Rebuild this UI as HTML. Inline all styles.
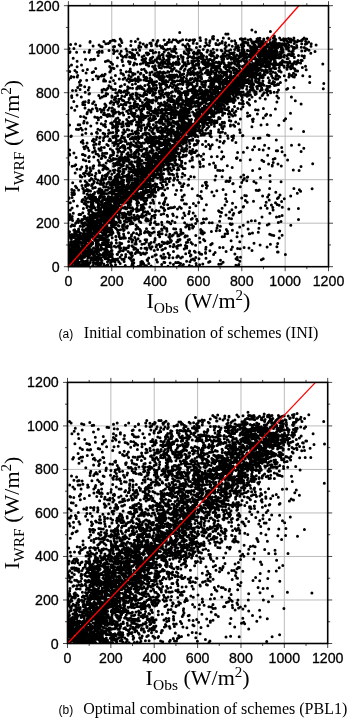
<!DOCTYPE html>
<html><head><meta charset="utf-8"><style>
html,body{margin:0;padding:0;background:#fff;}
body{width:350px;height:719px;overflow:hidden;}
svg{display:block;will-change:transform;}
.tl{font-family:"Liberation Sans",sans-serif;font-size:14.2px;fill:#000;stroke:#000;stroke-width:0.3px;}
.al{font-family:"Liberation Serif",serif;font-size:22px;fill:#000;}
.sub{font-size:15.5px;}
.sup{font-size:15px;}
.cl{font-family:"Liberation Sans",sans-serif;font-size:12px;fill:#000;}
.ct{font-family:"Liberation Serif",serif;font-size:16px;fill:#000;}
</style></head><body>
<svg width="350" height="719" viewBox="0 0 350 719">
<path d="M111.75 5.70V266.70M68.40 223.20H328.50M155.10 5.70V266.70M68.40 179.70H328.50M198.45 5.70V266.70M68.40 136.20H328.50M241.80 5.70V266.70M68.40 92.70H328.50M285.15 5.70V266.70M68.40 49.20H328.50" stroke="#b4b4b4" stroke-width="0.9" fill="none"/>
<clipPath id="cp0"><rect x="68.40" y="5.70" width="260.10" height="261.00"/></clipPath>
<path clip-path="url(#cp0)" d="M70.6 44.4h0M90.1 41.4h0M90.0 42.3h0M80.1 45.8h0M69.0 48.4h0M73.9 48.5h0M75.6 44.0h0M100.8 46.6h0M99.1 45.0h0M93.1 46.0h0M110.3 41.2h0M109.6 42.4h0M103.9 41.5h0M102.1 46.8h0M105.8 43.7h0M108.2 43.4h0M115.1 41.1h0M114.6 46.6h0M120.2 39.0h0M120.4 46.0h0M119.1 44.8h0M126.1 48.9h0M130.8 45.5h0M114.2 40.2h0M112.8 40.2h0M121.9 42.4h0M113.5 46.7h0M121.2 40.4h0M131.1 41.3h0M119.8 45.2h0M139.0 45.7h0M137.9 39.1h0M140.0 42.8h0M150.5 43.6h0M151.4 45.7h0M153.0 40.3h0M151.2 44.1h0M135.4 41.5h0M138.7 47.6h0M145.5 46.2h0M143.3 43.9h0M146.8 44.9h0M140.2 43.1h0M151.0 43.0h0M140.8 47.0h0M146.3 47.0h0M149.9 43.2h0M157.9 40.5h0M162.6 46.6h0M169.2 39.8h0M175.9 40.1h0M157.3 41.6h0M156.0 44.7h0M166.4 44.6h0M168.6 42.2h0M174.9 46.5h0M163.6 48.7h0M160.0 45.7h0M161.4 47.6h0M164.1 40.0h0M167.5 42.5h0M170.2 49.0h0M171.5 42.1h0M173.6 49.1h0M173.3 39.7h0M157.0 46.1h0M156.4 43.7h0M165.2 44.6h0M175.7 49.1h0M180.2 41.1h0M177.4 41.4h0M189.2 40.5h0M182.8 44.7h0M186.3 39.7h0M187.6 43.9h0M193.2 43.2h0M196.4 47.6h0M182.6 39.8h0M185.8 46.9h0M189.4 48.5h0M193.6 41.0h0M192.9 39.9h0M185.3 45.9h0M187.9 44.2h0M189.2 46.0h0M190.0 39.9h0M194.6 39.7h0M196.9 43.5h0M178.4 42.6h0M206.0 39.6h0M204.8 46.3h0M209.7 42.4h0M218.4 44.8h0M209.3 45.5h0M213.5 39.1h0M215.9 43.4h0M217.7 40.3h0M216.1 44.4h0M212.5 38.6h0M212.7 36.7h0M219.8 43.4h0M200.1 37.7h0M200.5 40.4h0M200.1 46.5h0M205.9 42.5h0M207.0 44.7h0M210.0 40.7h0M226.3 46.5h0M236.6 47.4h0M234.7 40.7h0M222.2 41.4h0M225.1 48.6h0M235.7 46.9h0M240.3 39.0h0M241.4 38.7h0M241.1 44.7h0M238.0 45.7h0M225.5 42.8h0M225.1 45.1h0M229.0 45.0h0M238.0 48.3h0M238.7 47.4h0M222.2 42.9h0M232.3 46.2h0M235.6 43.9h0M223.3 38.0h0M231.6 41.1h0M228.9 38.6h0M235.8 42.9h0M242.7 48.3h0M243.0 39.3h0M243.8 46.1h0M242.1 44.3h0M242.7 44.5h0M242.3 40.3h0M249.9 46.0h0M248.0 39.9h0M246.9 43.0h0M251.7 41.4h0M257.6 40.6h0M258.1 40.6h0M256.0 46.7h0M256.4 48.9h0M255.9 47.8h0M261.7 42.9h0M259.3 41.3h0M259.4 46.6h0M262.8 44.7h0M260.8 44.0h0M261.1 45.9h0M243.0 48.8h0M248.2 45.1h0M254.5 45.4h0M252.4 46.8h0M254.2 46.8h0M254.5 45.1h0M256.6 46.9h0M258.9 44.6h0M257.0 47.4h0M258.5 38.9h0M261.2 46.1h0M260.2 40.8h0M259.3 39.3h0M261.7 47.1h0M245.1 41.9h0M245.6 42.2h0M244.1 43.2h0M252.5 43.2h0M250.5 39.2h0M251.3 47.5h0M257.0 47.7h0M257.3 42.3h0M257.9 41.4h0M255.8 41.5h0M257.0 38.9h0M261.1 41.5h0M261.4 47.4h0M262.3 45.6h0M260.1 41.0h0M261.4 42.8h0M242.9 42.2h0M243.3 41.9h0M242.0 47.1h0M248.0 42.9h0M249.9 46.3h0M250.7 48.3h0M251.0 40.0h0M253.7 42.1h0M257.9 38.5h0M254.9 44.9h0M259.1 38.7h0M258.2 42.2h0M261.5 45.6h0M259.9 38.3h0M263.4 41.1h0M262.7 44.2h0M245.1 38.7h0M253.0 42.7h0M254.3 42.7h0M253.0 48.5h0M258.9 45.0h0M255.2 47.4h0M262.1 45.8h0M261.7 41.9h0M263.8 39.8h0M266.7 47.1h0M263.8 39.0h0M264.4 47.3h0M267.4 38.2h0M271.0 45.8h0M271.0 44.3h0M275.7 39.4h0M274.4 37.0h0M274.3 35.9h0M273.3 38.2h0M279.9 46.5h0M278.5 45.2h0M284.1 40.8h0M284.7 45.4h0M263.9 43.4h0M267.8 44.8h0M270.0 39.2h0M271.9 45.6h0M267.9 46.7h0M272.8 43.1h0M275.6 45.2h0M275.2 47.5h0M279.6 37.9h0M277.6 47.7h0M281.3 49.1h0M281.8 49.1h0M282.3 47.9h0M281.0 39.7h0M266.1 42.1h0M263.9 47.4h0M268.9 39.7h0M274.5 46.2h0M273.0 41.5h0M279.8 43.4h0M277.2 45.0h0M281.5 45.9h0M283.7 40.6h0M282.1 45.3h0M281.1 45.8h0M284.4 43.5h0M266.8 45.3h0M264.9 46.9h0M263.7 39.9h0M269.1 39.7h0M275.0 39.5h0M278.3 43.5h0M283.6 38.8h0M282.2 43.7h0M266.1 42.6h0M263.6 47.7h0M266.9 46.6h0M270.2 42.4h0M267.9 38.1h0M269.2 44.3h0M273.3 45.5h0M274.6 43.9h0M275.7 42.5h0M274.6 46.5h0M278.2 45.0h0M288.2 42.4h0M286.6 49.0h0M293.9 38.1h0M296.9 47.2h0M301.9 40.3h0M304.1 37.9h0M288.6 47.4h0M288.1 46.6h0M285.9 43.9h0M285.9 47.3h0M288.7 44.9h0M290.9 42.1h0M293.8 47.3h0M290.1 41.1h0M295.3 48.1h0M295.8 47.7h0M302.0 40.6h0M306.7 39.1h0M306.3 48.7h0M285.9 40.1h0M288.5 38.6h0M285.7 45.2h0M294.4 40.8h0M294.2 43.5h0M300.9 40.8h0M301.3 47.2h0M304.3 47.6h0M305.8 39.4h0M287.3 41.2h0M285.7 39.1h0M291.5 46.3h0M296.7 45.6h0M297.8 40.5h0M296.7 42.1h0M301.7 43.7h0M302.8 39.2h0M306.8 43.4h0M293.2 40.0h0M290.9 40.0h0M293.4 48.6h0M290.7 39.1h0M296.1 47.5h0M298.4 41.1h0M305.3 44.3h0M305.6 41.2h0M308.6 42.1h0M311.2 43.8h0M311.0 46.3h0M316.1 44.9h0M74.9 70.6h0M77.1 66.7h0M82.9 70.6h0M87.4 69.6h0M71.5 65.0h0M68.9 66.4h0M81.5 65.1h0M73.2 58.3h0M77.1 61.3h0M85.5 59.2h0M69.7 52.5h0M70.0 51.8h0M76.6 52.2h0M84.5 52.1h0M89.1 52.3h0M89.6 50.3h0M95.7 68.6h0M110.9 68.1h0M110.8 70.5h0M109.7 66.5h0M111.2 62.8h0M90.4 60.0h0M91.0 59.6h0M93.5 59.5h0M94.5 59.3h0M105.4 61.6h0M107.5 60.7h0M110.8 62.2h0M108.4 60.7h0M98.2 55.6h0M97.5 52.2h0M99.0 52.6h0M99.2 51.3h0M102.1 51.2h0M102.2 52.2h0M109.0 50.4h0M114.0 68.6h0M112.7 67.9h0M120.7 70.3h0M130.3 68.9h0M112.5 64.2h0M117.2 66.1h0M123.3 65.6h0M129.7 63.8h0M122.4 61.5h0M122.0 60.0h0M128.5 61.5h0M130.2 62.1h0M119.8 53.7h0M117.5 57.7h0M123.0 57.2h0M121.4 55.7h0M126.3 57.0h0M125.0 56.2h0M127.0 54.4h0M132.7 54.1h0M130.1 57.3h0M132.8 55.5h0M129.5 56.9h0M132.3 54.9h0M132.4 57.7h0M113.5 50.3h0M113.4 49.8h0M113.6 53.5h0M114.5 51.5h0M117.3 51.0h0M121.2 51.3h0M127.0 51.3h0M131.6 53.1h0M129.8 52.3h0M132.7 49.7h0M141.6 69.6h0M144.2 69.2h0M154.1 68.5h0M154.8 66.8h0M155.0 69.9h0M136.8 64.2h0M133.6 65.1h0M134.4 63.1h0M140.4 63.9h0M146.2 63.9h0M142.9 63.1h0M143.3 63.1h0M148.7 66.0h0M150.6 62.8h0M148.0 63.3h0M146.4 64.8h0M149.6 62.9h0M152.6 66.4h0M153.1 62.7h0M135.4 58.9h0M142.0 60.0h0M143.9 61.0h0M145.6 61.4h0M145.7 58.4h0M143.1 58.9h0M144.8 59.2h0M150.0 59.9h0M150.6 58.2h0M152.4 61.6h0M155.1 60.0h0M153.8 61.5h0M151.6 58.5h0M134.6 54.9h0M134.4 56.2h0M134.3 57.3h0M138.8 54.9h0M142.1 56.8h0M144.1 55.8h0M147.6 54.7h0M148.8 53.8h0M152.7 56.9h0M135.7 49.8h0M137.3 52.7h0M139.7 50.2h0M146.3 52.9h0M148.2 53.5h0M147.8 53.1h0M150.4 50.4h0M153.2 52.9h0M152.5 50.5h0M159.3 67.6h0M156.0 69.7h0M155.7 68.7h0M161.4 68.0h0M164.6 66.9h0M167.0 66.9h0M169.7 67.4h0M171.3 68.4h0M171.4 70.9h0M172.5 70.1h0M174.1 68.8h0M174.3 68.2h0M176.4 70.8h0M158.7 66.1h0M158.7 63.5h0M155.1 65.8h0M162.3 62.3h0M162.7 65.8h0M160.9 62.6h0M162.8 63.8h0M159.9 64.9h0M162.2 62.9h0M168.0 63.2h0M164.1 63.2h0M163.9 63.3h0M166.7 63.9h0M168.3 66.0h0M171.8 65.6h0M168.9 62.3h0M169.8 63.6h0M171.0 64.3h0M168.3 64.4h0M173.3 62.8h0M175.4 63.5h0M172.8 65.4h0M172.9 64.3h0M175.8 64.3h0M173.5 63.3h0M156.8 59.5h0M156.2 60.2h0M157.2 62.1h0M157.2 59.1h0M162.5 60.5h0M163.4 61.6h0M160.1 58.9h0M162.6 62.2h0M163.7 58.9h0M164.7 62.2h0M168.0 61.3h0M166.5 60.3h0M169.0 61.0h0M169.3 59.3h0M168.2 61.1h0M168.4 61.8h0M168.5 58.0h0M176.3 62.1h0M157.6 57.6h0M158.9 55.4h0M159.2 56.2h0M159.7 57.9h0M162.9 54.7h0M163.2 57.3h0M162.2 54.4h0M159.9 55.7h0M163.1 55.0h0M166.9 55.7h0M170.6 55.6h0M168.7 56.0h0M170.6 56.4h0M169.9 54.6h0M171.1 54.9h0M173.3 56.4h0M173.4 57.3h0M174.6 56.6h0M159.0 52.6h0M155.6 52.2h0M164.1 52.1h0M166.0 50.0h0M167.8 49.3h0M168.5 53.1h0M171.7 51.2h0M173.8 50.7h0M176.3 53.0h0M174.6 51.4h0M173.0 51.2h0M180.6 69.1h0M181.6 67.6h0M185.1 69.1h0M184.1 70.6h0M188.2 70.4h0M189.5 69.2h0M193.9 67.0h0M190.0 69.7h0M191.4 68.0h0M195.2 68.7h0M194.6 68.2h0M194.3 69.0h0M179.3 63.8h0M178.5 64.5h0M177.6 64.3h0M185.1 62.7h0M182.3 66.4h0M184.1 64.3h0M182.9 66.1h0M186.1 65.9h0M188.9 63.5h0M188.1 63.8h0M185.5 64.2h0M192.7 65.1h0M193.1 65.9h0M192.8 63.7h0M191.7 62.7h0M195.0 65.4h0M198.4 62.8h0M197.5 65.3h0M196.3 64.3h0M178.6 62.2h0M178.2 59.4h0M179.0 59.2h0M182.8 59.7h0M182.8 58.4h0M182.8 61.7h0M182.8 61.2h0M187.9 61.3h0M187.6 58.3h0M191.8 60.9h0M193.9 61.6h0M193.5 58.3h0M193.2 60.9h0M197.2 60.3h0M194.5 58.1h0M195.1 60.9h0M177.8 56.5h0M177.7 57.1h0M180.9 55.5h0M181.5 56.9h0M181.8 56.7h0M183.1 57.2h0M183.0 57.0h0M188.6 56.5h0M187.8 54.6h0M190.2 56.7h0M193.5 56.6h0M194.0 57.5h0M192.2 57.6h0M197.1 57.7h0M194.3 54.0h0M197.9 57.7h0M197.2 54.2h0M184.2 51.7h0M184.3 53.1h0M185.5 53.4h0M188.6 51.9h0M187.5 49.3h0M187.9 51.3h0M186.8 49.4h0M188.7 50.3h0M189.0 52.9h0M193.3 52.9h0M191.3 50.1h0M193.9 52.1h0M198.3 50.5h0M194.7 53.4h0M196.8 52.8h0M198.0 52.0h0M200.1 67.9h0M199.2 67.7h0M200.7 70.3h0M203.5 68.3h0M203.0 69.3h0M205.9 66.8h0M205.4 67.9h0M211.1 69.2h0M207.6 69.9h0M215.4 67.5h0M213.6 67.8h0M214.6 68.1h0M215.3 69.6h0M211.7 66.9h0M216.8 68.6h0M217.1 70.8h0M218.1 66.7h0M219.6 68.1h0M218.2 68.0h0M198.6 65.0h0M198.8 63.6h0M206.3 65.4h0M203.1 63.4h0M207.1 63.3h0M204.6 64.5h0M211.1 64.1h0M209.9 63.8h0M208.4 63.4h0M207.6 63.9h0M211.3 65.6h0M207.8 63.8h0M209.9 65.2h0M207.9 66.6h0M208.7 63.7h0M212.5 64.1h0M213.1 62.6h0M214.2 62.8h0M214.0 64.9h0M212.5 66.2h0M219.7 64.4h0M219.7 66.0h0M216.2 66.6h0M217.8 63.0h0M219.9 62.9h0M217.5 66.4h0M201.1 58.5h0M198.7 60.7h0M201.8 62.0h0M202.6 61.7h0M206.7 59.1h0M203.1 58.1h0M203.4 61.3h0M205.5 61.9h0M203.0 60.1h0M204.8 60.3h0M204.4 61.2h0M210.5 59.4h0M209.3 59.6h0M208.5 61.1h0M214.2 59.4h0M213.2 60.3h0M212.4 61.1h0M216.2 62.2h0M218.8 62.0h0M198.5 57.8h0M199.3 56.9h0M201.5 55.6h0M201.3 55.2h0M201.6 53.8h0M206.6 56.8h0M203.5 55.7h0M203.1 56.8h0M211.3 55.9h0M209.7 54.8h0M213.3 55.7h0M212.0 54.4h0M211.7 55.5h0M214.8 57.7h0M212.3 55.0h0M216.9 57.6h0M217.8 55.9h0M217.0 55.4h0M199.4 50.7h0M201.2 53.5h0M199.7 53.0h0M207.0 52.1h0M203.3 49.4h0M211.1 51.8h0M207.6 50.3h0M210.8 51.3h0M211.2 52.9h0M211.6 52.9h0M214.0 52.6h0M213.2 49.3h0M217.0 49.9h0M224.2 67.1h0M220.8 69.7h0M221.2 70.5h0M221.0 70.0h0M225.7 67.5h0M226.1 67.3h0M224.5 66.8h0M227.7 70.6h0M225.9 68.8h0M233.0 68.0h0M229.2 70.5h0M232.8 68.3h0M232.7 68.6h0M230.7 67.5h0M229.6 67.9h0M233.0 69.9h0M229.0 69.7h0M236.8 70.2h0M233.6 70.2h0M235.7 69.0h0M234.9 69.4h0M233.7 67.8h0M240.0 69.4h0M240.2 70.4h0M239.0 67.7h0M238.8 67.7h0M224.2 63.7h0M221.1 63.5h0M223.9 62.7h0M225.0 66.0h0M227.3 65.4h0M225.7 65.5h0M228.8 62.8h0M228.4 65.0h0M224.9 66.5h0M228.0 66.4h0M230.9 64.3h0M231.4 62.8h0M231.9 63.0h0M229.3 66.2h0M232.2 63.0h0M230.0 64.4h0M234.9 63.9h0M236.9 65.6h0M237.8 63.3h0M238.2 64.4h0M239.3 65.2h0M238.6 64.1h0M239.5 66.1h0M221.8 59.3h0M222.0 58.3h0M223.5 58.5h0M221.9 61.6h0M223.4 60.5h0M223.8 59.0h0M227.5 58.6h0M233.1 58.9h0M231.9 58.0h0M231.2 59.3h0M233.3 58.0h0M236.9 61.0h0M234.4 59.0h0M234.3 61.3h0M234.9 58.5h0M237.0 58.8h0M236.2 61.2h0M237.3 60.5h0M236.3 60.8h0M235.0 60.5h0M234.5 60.8h0M240.9 60.9h0M239.4 61.5h0M240.7 60.7h0M238.1 60.8h0M238.2 60.4h0M239.4 61.3h0M238.3 61.7h0M224.2 55.8h0M222.8 56.9h0M223.1 54.3h0M221.0 56.8h0M221.3 56.4h0M224.6 55.7h0M228.4 55.7h0M228.5 57.7h0M225.5 56.3h0M227.4 54.9h0M227.0 54.8h0M229.3 55.1h0M230.8 57.2h0M230.4 57.3h0M235.3 56.4h0M233.5 54.8h0M233.8 53.8h0M235.2 56.7h0M236.7 55.0h0M233.7 56.5h0M236.8 55.5h0M239.3 55.7h0M241.7 55.4h0M240.5 56.7h0M240.4 53.9h0M239.4 56.0h0M239.2 57.7h0M222.0 51.1h0M221.2 50.3h0M224.9 52.5h0M228.4 51.0h0M225.7 50.7h0M232.3 53.2h0M231.5 53.5h0M230.6 49.7h0M229.8 53.3h0M231.4 53.0h0M234.2 52.6h0M234.7 49.6h0M237.8 50.2h0M238.4 50.7h0M239.2 50.2h0M240.2 53.3h0M245.4 68.4h0M242.8 70.7h0M245.6 68.1h0M243.6 68.3h0M245.6 69.9h0M245.7 69.4h0M243.9 69.0h0M244.9 67.5h0M248.4 69.2h0M250.4 69.1h0M246.2 70.6h0M248.1 70.1h0M251.6 67.3h0M254.5 70.0h0M251.7 69.8h0M253.2 68.5h0M251.7 68.8h0M256.7 70.6h0M258.3 68.8h0M255.5 68.6h0M258.6 70.4h0M255.4 70.2h0M258.5 70.3h0M256.7 70.4h0M261.6 70.6h0M261.6 70.0h0M262.6 70.2h0M260.4 68.9h0M242.2 66.5h0M244.7 64.9h0M245.6 63.5h0M245.0 65.8h0M243.4 66.0h0M246.5 65.8h0M250.2 63.9h0M248.7 63.0h0M246.9 64.1h0M246.3 64.2h0M253.2 66.1h0M252.3 64.8h0M251.8 66.4h0M253.0 63.6h0M255.0 63.4h0M258.2 64.9h0M255.5 65.5h0M260.8 64.5h0M263.3 66.0h0M261.2 63.6h0M261.3 66.5h0M261.2 63.7h0M262.9 64.7h0M261.9 63.5h0M263.3 66.1h0M259.7 64.4h0M260.5 62.3h0M245.2 61.8h0M243.0 59.0h0M243.4 60.2h0M244.4 61.3h0M244.2 58.4h0M242.8 59.2h0M246.5 58.6h0M250.5 60.2h0M246.5 60.8h0M249.7 60.0h0M251.4 61.0h0M251.2 58.5h0M252.6 58.6h0M258.7 60.0h0M257.0 62.1h0M256.5 58.9h0M256.3 59.5h0M256.4 61.8h0M257.1 59.5h0M262.9 60.3h0M262.0 61.2h0M243.6 56.7h0M245.2 57.5h0M244.5 57.3h0M244.6 53.9h0M246.0 57.8h0M244.8 57.6h0M245.7 55.1h0M242.8 53.9h0M242.3 54.7h0M249.4 56.3h0M249.3 54.9h0M246.7 53.7h0M247.5 57.0h0M246.2 55.5h0M250.4 56.8h0M253.0 55.3h0M251.4 53.7h0M253.8 54.8h0M250.9 55.3h0M251.4 55.8h0M250.6 56.9h0M251.1 55.0h0M252.8 53.7h0M254.0 54.7h0M257.5 54.6h0M254.9 56.8h0M258.4 55.9h0M257.2 53.8h0M263.2 54.2h0M261.1 55.9h0M260.3 57.4h0M262.6 55.3h0M262.9 55.1h0M259.3 54.5h0M260.1 55.1h0M259.4 54.7h0M242.3 49.5h0M243.7 49.9h0M242.1 51.7h0M243.5 51.3h0M242.5 50.6h0M243.1 52.9h0M244.4 51.7h0M247.7 50.5h0M247.3 50.5h0M249.8 50.9h0M253.9 50.3h0M251.3 51.1h0M254.7 53.5h0M251.3 53.0h0M252.6 53.0h0M251.6 49.7h0M254.7 53.5h0M250.6 53.4h0M253.1 50.8h0M250.9 53.5h0M254.4 49.4h0M251.0 52.0h0M250.9 50.9h0M256.8 51.7h0M255.5 52.7h0M258.3 52.5h0M258.5 52.7h0M255.8 52.2h0M256.8 49.2h0M255.1 49.3h0M255.1 51.2h0M263.1 53.5h0M262.5 50.1h0M261.0 52.5h0M259.7 50.1h0M260.8 51.6h0M259.4 52.1h0M262.9 50.0h0M265.4 66.7h0M265.6 69.7h0M267.3 70.4h0M267.1 66.7h0M269.6 68.4h0M271.2 68.8h0M270.7 70.7h0M273.5 67.2h0M274.5 68.5h0M275.8 68.6h0M278.8 70.8h0M279.8 70.6h0M279.2 67.5h0M284.3 67.2h0M265.7 64.9h0M265.6 62.7h0M265.7 66.2h0M264.8 66.5h0M267.5 63.5h0M266.8 65.4h0M269.4 64.0h0M268.3 66.2h0M268.3 63.7h0M270.8 63.6h0M269.9 62.9h0M269.6 65.9h0M269.1 63.2h0M273.8 63.1h0M275.0 65.6h0M275.8 64.9h0M275.9 62.7h0M272.6 64.6h0M279.7 63.9h0M279.9 63.0h0M277.9 64.5h0M279.7 63.6h0M280.1 65.0h0M280.8 63.1h0M283.8 66.0h0M281.8 64.5h0M265.7 59.0h0M267.1 59.0h0M267.7 61.1h0M267.0 60.0h0M265.5 61.2h0M267.1 61.2h0M265.5 61.1h0M264.2 61.3h0M270.5 58.5h0M270.6 59.8h0M270.4 59.1h0M270.2 58.6h0M269.2 61.9h0M270.8 60.4h0M273.4 58.1h0M275.2 60.9h0M274.8 58.0h0M274.4 61.0h0M273.9 58.8h0M275.8 58.1h0M279.2 58.0h0M282.3 62.1h0M282.2 61.6h0M281.6 61.8h0M282.5 60.5h0M284.4 61.9h0M267.5 55.1h0M265.9 57.5h0M266.8 54.9h0M265.8 54.6h0M263.6 55.7h0M266.3 56.0h0M264.1 54.0h0M270.6 56.8h0M271.8 57.1h0M268.4 56.6h0M271.2 53.9h0M271.5 56.5h0M268.0 57.1h0M268.3 57.2h0M273.3 57.1h0M275.1 57.8h0M275.7 56.6h0M272.9 56.8h0M273.9 56.5h0M273.4 54.3h0M275.6 55.5h0M276.8 57.7h0M280.7 57.5h0M279.8 54.3h0M280.6 56.5h0M278.5 57.1h0M280.8 57.0h0M277.3 54.4h0M281.3 54.0h0M284.2 57.1h0M284.4 55.3h0M281.4 56.3h0M281.4 57.1h0M264.0 53.0h0M264.5 52.1h0M265.4 51.2h0M265.9 50.0h0M264.4 50.4h0M266.0 51.7h0M263.8 49.5h0M265.6 49.6h0M264.0 51.9h0M269.1 50.8h0M271.7 52.0h0M269.1 49.8h0M270.8 50.1h0M269.7 51.8h0M276.2 52.5h0M273.3 53.0h0M276.1 53.4h0M275.2 53.5h0M275.6 51.0h0M276.0 49.6h0M274.2 51.5h0M274.4 50.7h0M277.4 52.2h0M280.4 51.8h0M277.2 52.4h0M277.2 52.8h0M283.0 49.6h0M282.4 51.2h0M282.2 51.9h0M283.2 52.2h0M283.0 50.4h0M287.0 69.3h0M287.4 67.5h0M293.2 68.1h0M290.7 68.8h0M290.0 66.9h0M294.8 69.0h0M294.8 69.3h0M295.4 70.8h0M295.7 70.5h0M302.4 67.5h0M306.2 69.7h0M287.9 65.1h0M287.3 65.4h0M287.3 62.4h0M290.5 66.4h0M293.6 63.4h0M289.8 63.0h0M292.3 66.0h0M292.5 65.4h0M291.8 63.9h0M298.0 62.6h0M296.3 64.0h0M300.6 62.9h0M305.5 66.3h0M286.4 62.2h0M287.3 58.8h0M288.2 58.5h0M289.7 61.6h0M296.2 62.1h0M294.5 61.8h0M298.0 60.4h0M301.2 60.2h0M302.2 60.5h0M288.1 54.4h0M287.1 55.7h0M289.5 54.2h0M292.1 53.6h0M293.4 54.2h0M289.8 54.8h0M292.6 55.4h0M291.3 55.5h0M290.3 54.9h0M294.3 57.1h0M294.3 57.5h0M298.5 55.6h0M301.9 55.7h0M304.4 56.1h0M304.2 57.8h0M288.1 49.3h0M288.9 50.9h0M291.6 51.7h0M293.5 49.6h0M293.2 50.9h0M301.7 51.1h0M305.1 50.8h0M322.8 63.9h0M309.0 50.2h0M310.8 53.3h0M307.0 49.2h0M315.0 51.4h0M72.5 90.5h0M76.0 90.5h0M80.1 89.6h0M85.2 92.2h0M88.3 90.1h0M79.8 85.2h0M77.7 87.4h0M81.0 85.2h0M84.7 86.8h0M89.1 87.6h0M80.5 80.6h0M79.4 82.3h0M86.7 80.3h0M70.7 77.7h0M68.5 79.6h0M71.2 76.6h0M73.9 77.0h0M77.7 75.5h0M77.3 77.0h0M69.8 71.6h0M76.7 72.2h0M86.1 73.0h0M102.1 91.9h0M102.0 90.0h0M105.8 90.1h0M106.5 89.6h0M103.8 89.3h0M111.1 87.9h0M110.9 86.9h0M108.9 85.8h0M107.8 88.3h0M105.6 81.0h0M103.6 81.1h0M109.9 81.7h0M92.8 79.4h0M98.0 78.7h0M98.7 76.8h0M96.3 75.9h0M101.2 76.0h0M103.8 75.9h0M104.0 79.4h0M111.2 77.8h0M93.6 71.7h0M92.2 72.5h0M102.2 74.9h0M105.1 74.2h0M109.8 71.9h0M113.0 89.5h0M115.4 89.5h0M115.8 92.7h0M119.4 90.5h0M119.1 91.4h0M120.8 91.1h0M120.8 92.4h0M124.5 91.0h0M123.6 91.9h0M126.8 91.0h0M125.2 91.2h0M128.5 92.7h0M127.5 89.6h0M120.2 86.5h0M121.3 85.9h0M124.7 84.5h0M127.7 86.7h0M129.8 88.0h0M132.3 84.5h0M132.5 88.3h0M113.5 80.4h0M115.1 83.6h0M126.9 80.3h0M132.7 80.6h0M129.2 81.9h0M130.4 79.7h0M132.9 80.0h0M131.3 80.5h0M115.4 75.5h0M119.3 79.1h0M123.1 79.3h0M128.5 78.6h0M128.9 75.6h0M124.9 78.1h0M131.1 76.9h0M123.5 75.0h0M121.0 73.3h0M123.0 74.1h0M126.3 71.8h0M130.7 71.6h0M129.2 71.4h0M132.6 73.4h0M133.4 73.4h0M129.5 72.1h0M132.8 74.9h0M136.7 89.0h0M142.2 88.7h0M144.0 89.6h0M145.2 91.6h0M148.1 91.8h0M150.2 89.9h0M150.5 91.1h0M149.2 91.9h0M147.9 89.4h0M147.6 90.7h0M154.6 88.5h0M152.9 91.6h0M152.1 88.6h0M154.5 88.6h0M152.1 89.2h0M136.8 88.0h0M140.4 85.9h0M138.1 86.7h0M139.6 88.3h0M138.0 86.6h0M141.2 87.2h0M138.7 87.9h0M142.2 87.6h0M144.9 85.6h0M149.2 86.0h0M147.9 84.4h0M149.2 87.7h0M149.5 87.8h0M153.4 85.7h0M154.5 84.7h0M152.5 84.1h0M135.6 80.7h0M137.2 79.8h0M135.5 83.7h0M140.5 80.1h0M138.2 81.5h0M143.9 80.0h0M146.1 80.4h0M147.4 80.5h0M149.7 81.0h0M150.3 81.6h0M149.3 82.8h0M152.9 82.6h0M151.8 80.4h0M151.7 79.8h0M151.8 82.1h0M154.1 82.0h0M155.0 82.1h0M150.8 82.1h0M135.1 78.8h0M139.5 79.6h0M138.4 77.1h0M138.2 78.1h0M145.1 78.0h0M146.3 77.3h0M143.9 76.7h0M145.3 77.8h0M143.7 75.3h0M150.0 78.2h0M146.9 77.9h0M146.8 77.9h0M135.0 74.1h0M134.0 74.0h0M140.4 74.0h0M138.0 71.9h0M140.9 73.2h0M145.5 71.1h0M149.9 75.0h0M149.9 72.8h0M146.5 72.6h0M152.1 72.1h0M153.7 74.8h0M159.2 91.9h0M155.3 89.8h0M155.9 90.1h0M161.7 90.2h0M161.6 89.5h0M159.5 90.8h0M162.6 91.9h0M162.6 90.2h0M165.2 89.0h0M171.1 92.6h0M172.4 91.7h0M175.8 90.2h0M175.8 91.3h0M175.5 90.7h0M175.1 88.7h0M175.1 90.0h0M156.7 88.0h0M156.3 85.3h0M161.1 87.8h0M160.7 84.9h0M161.0 85.0h0M160.2 85.5h0M160.3 87.5h0M161.1 84.3h0M166.7 86.6h0M166.7 84.9h0M165.8 85.3h0M167.2 87.0h0M168.5 87.3h0M170.4 85.5h0M173.4 84.4h0M174.4 85.3h0M172.5 87.3h0M176.2 87.6h0M156.6 81.6h0M162.6 79.9h0M162.1 81.0h0M163.6 81.5h0M159.5 83.6h0M162.6 83.4h0M162.4 83.2h0M166.0 80.5h0M166.1 81.3h0M165.2 83.4h0M166.6 81.7h0M164.3 83.5h0M172.4 81.5h0M172.2 79.8h0M168.1 81.7h0M171.4 82.9h0M174.7 82.0h0M174.4 80.9h0M174.5 81.7h0M155.3 75.7h0M157.6 75.7h0M159.0 75.5h0M158.9 78.3h0M156.9 76.5h0M159.9 79.4h0M160.8 77.8h0M161.9 77.1h0M160.0 78.2h0M161.1 76.6h0M163.3 79.3h0M166.9 76.1h0M164.2 77.3h0M163.8 76.4h0M168.0 76.7h0M170.1 77.1h0M169.7 79.4h0M170.8 77.6h0M172.1 77.8h0M170.3 78.0h0M169.8 77.3h0M169.4 76.7h0M171.8 78.7h0M172.9 76.5h0M175.3 75.7h0M174.5 77.5h0M159.2 74.0h0M158.4 74.7h0M157.5 72.3h0M155.1 73.6h0M155.6 74.9h0M162.6 74.1h0M162.7 72.4h0M160.0 71.8h0M163.6 72.0h0M160.5 72.3h0M167.8 71.6h0M165.2 73.1h0M164.1 72.2h0M167.7 72.3h0M172.0 71.2h0M168.7 71.9h0M169.6 75.0h0M172.0 74.9h0M176.4 74.9h0M174.2 75.0h0M176.7 75.1h0M178.4 92.0h0M178.4 88.4h0M178.3 90.9h0M179.7 91.4h0M184.0 92.4h0M185.2 91.4h0M184.3 91.8h0M181.6 88.8h0M184.1 92.2h0M188.6 91.0h0M186.3 91.7h0M187.7 90.2h0M188.5 91.3h0M188.8 90.5h0M191.5 89.7h0M193.8 91.5h0M192.5 92.7h0M190.4 90.5h0M192.2 89.1h0M190.3 89.8h0M192.5 91.4h0M197.9 90.9h0M197.1 92.0h0M195.8 92.1h0M195.4 89.8h0M195.8 91.9h0M194.6 89.8h0M177.9 84.6h0M177.2 88.2h0M177.0 85.4h0M182.8 84.4h0M189.4 84.6h0M188.0 85.9h0M186.9 84.6h0M187.1 87.6h0M193.2 86.5h0M191.8 84.6h0M194.3 88.0h0M197.0 85.4h0M195.4 86.5h0M177.3 80.7h0M180.0 83.9h0M179.6 80.7h0M180.6 79.9h0M183.2 82.7h0M183.4 81.8h0M182.3 81.9h0M182.9 84.0h0M186.6 82.6h0M188.0 80.8h0M189.1 83.0h0M188.1 83.2h0M188.1 81.3h0M185.6 81.3h0M187.1 82.0h0M189.3 83.4h0M190.2 80.1h0M190.5 80.1h0M191.2 82.9h0M193.6 81.8h0M197.1 81.0h0M194.3 80.7h0M197.0 83.4h0M194.6 80.6h0M177.8 77.0h0M179.7 76.1h0M180.8 77.2h0M182.8 78.8h0M182.9 79.5h0M183.8 76.9h0M186.9 75.5h0M186.4 78.4h0M192.4 78.5h0M190.4 78.8h0M196.9 79.2h0M197.7 75.7h0M198.2 78.1h0M198.4 75.6h0M197.3 79.5h0M195.4 78.2h0M179.8 72.6h0M180.3 74.6h0M178.8 71.7h0M180.6 74.5h0M182.2 74.4h0M183.7 73.8h0M187.8 73.0h0M188.2 72.6h0M189.4 74.1h0M189.3 72.9h0M190.6 74.5h0M194.1 74.9h0M191.0 74.3h0M193.3 73.5h0M191.2 72.1h0M193.2 71.1h0M196.0 73.7h0M198.2 73.0h0M194.4 72.7h0M197.5 72.5h0M200.0 88.6h0M200.5 89.8h0M200.5 91.6h0M202.4 91.3h0M199.6 89.5h0M201.7 90.1h0M200.6 89.2h0M206.0 90.1h0M207.0 90.0h0M205.3 91.3h0M203.3 92.5h0M204.9 90.7h0M206.2 92.3h0M206.1 90.0h0M208.8 91.6h0M211.0 88.6h0M209.7 91.1h0M208.7 91.9h0M209.9 90.1h0M209.8 92.1h0M211.6 92.4h0M213.2 90.5h0M213.0 92.3h0M215.5 89.9h0M214.8 89.6h0M212.2 89.3h0M214.5 91.8h0M213.1 90.1h0M214.3 92.4h0M212.9 89.7h0M216.9 89.6h0M219.5 92.5h0M217.0 90.8h0M217.7 90.2h0M220.1 88.4h0M218.6 88.6h0M216.6 92.5h0M216.9 92.5h0M202.7 84.4h0M200.4 87.6h0M202.7 85.1h0M200.1 87.3h0M201.8 84.3h0M205.3 84.4h0M205.3 85.4h0M204.6 84.4h0M204.7 87.3h0M203.1 86.6h0M209.2 86.9h0M210.6 84.7h0M211.0 86.9h0M208.9 86.7h0M215.3 87.6h0M212.1 86.5h0M212.5 86.1h0M214.1 86.6h0M217.0 88.0h0M219.5 87.4h0M219.5 84.6h0M216.6 88.2h0M220.1 86.5h0M216.3 86.5h0M217.6 88.0h0M218.8 87.1h0M202.1 82.2h0M201.8 83.3h0M199.8 80.8h0M201.7 82.7h0M203.9 81.6h0M205.7 82.0h0M205.7 82.2h0M205.9 81.3h0M208.4 80.6h0M211.4 83.1h0M210.4 81.1h0M210.7 83.5h0M213.5 82.7h0M212.2 83.9h0M215.5 81.2h0M212.6 80.7h0M212.4 83.2h0M213.9 83.8h0M213.4 81.5h0M213.1 83.0h0M212.7 83.4h0M213.9 80.9h0M214.8 81.5h0M213.2 82.7h0M219.8 81.3h0M219.0 82.9h0M216.2 80.3h0M219.0 80.5h0M217.2 80.0h0M218.0 81.8h0M217.5 81.4h0M220.1 83.5h0M201.0 77.8h0M201.4 77.3h0M199.2 76.9h0M200.3 75.6h0M201.6 79.0h0M200.5 77.0h0M200.7 77.0h0M200.1 76.8h0M210.1 77.2h0M209.6 77.7h0M211.3 79.3h0M211.4 78.1h0M213.9 78.9h0M214.5 77.3h0M211.5 78.2h0M216.8 76.7h0M217.2 76.4h0M217.9 78.0h0M218.8 77.8h0M216.7 78.4h0M220.1 75.5h0M218.1 79.6h0M218.0 75.5h0M219.4 77.3h0M201.1 71.0h0M201.0 72.2h0M202.2 73.9h0M199.6 72.5h0M200.9 71.3h0M206.5 71.3h0M205.3 73.0h0M209.3 72.0h0M211.3 73.8h0M210.2 72.4h0M207.3 72.3h0M211.0 71.6h0M207.9 71.3h0M211.4 72.6h0M207.5 74.4h0M209.8 75.0h0M207.2 73.5h0M208.4 72.7h0M214.6 73.8h0M215.4 74.7h0M215.5 72.9h0M213.1 71.5h0M215.6 73.4h0M215.2 74.9h0M215.6 74.0h0M214.6 72.9h0M216.6 71.2h0M219.3 72.6h0M215.9 73.2h0M219.6 72.0h0M221.7 90.9h0M222.4 91.8h0M222.1 92.3h0M222.7 89.2h0M226.7 90.3h0M224.5 88.9h0M226.1 89.8h0M228.8 91.7h0M225.9 92.4h0M226.1 88.8h0M229.7 89.3h0M230.5 88.8h0M229.7 92.2h0M231.9 89.6h0M230.7 90.4h0M233.0 90.5h0M229.7 92.1h0M232.2 91.4h0M236.6 89.3h0M233.5 90.6h0M236.4 92.2h0M235.6 91.9h0M235.4 90.4h0M235.6 89.3h0M239.2 89.6h0M238.0 89.0h0M238.3 92.1h0M239.3 88.5h0M238.1 90.9h0M241.4 92.2h0M220.3 84.7h0M223.3 84.9h0M223.5 87.1h0M224.1 88.2h0M223.0 87.5h0M227.4 87.3h0M225.9 87.6h0M228.4 84.3h0M227.7 86.0h0M225.6 87.5h0M227.9 86.1h0M226.6 84.4h0M231.8 85.4h0M231.3 86.3h0M232.3 85.3h0M229.4 88.2h0M232.7 84.1h0M237.3 87.2h0M234.3 84.5h0M233.7 84.3h0M235.6 84.9h0M234.5 87.5h0M234.3 86.8h0M234.8 85.7h0M233.6 86.6h0M234.5 85.6h0M234.9 87.6h0M238.7 85.5h0M240.2 85.0h0M241.3 85.9h0M241.4 86.7h0M240.5 85.5h0M240.9 87.0h0M241.0 85.1h0M221.0 82.9h0M223.2 80.3h0M223.4 83.0h0M221.0 82.1h0M225.8 81.1h0M227.6 81.1h0M224.5 80.3h0M226.4 80.2h0M227.2 83.1h0M228.5 81.7h0M224.8 82.6h0M226.4 82.7h0M229.2 83.9h0M229.7 82.3h0M230.3 80.5h0M230.6 83.6h0M229.2 81.7h0M232.3 82.8h0M233.2 80.9h0M236.5 82.4h0M234.2 81.5h0M236.0 81.9h0M235.0 80.8h0M234.2 82.5h0M236.9 83.1h0M235.5 81.4h0M236.4 80.2h0M236.4 83.1h0M233.6 80.7h0M234.2 82.8h0M240.3 82.3h0M239.0 80.5h0M239.0 82.0h0M238.6 80.8h0M237.9 83.9h0M241.3 82.6h0M240.1 80.6h0M237.5 81.8h0M239.8 81.8h0M238.5 81.1h0M222.7 76.6h0M220.2 75.5h0M221.7 77.5h0M220.5 79.5h0M228.4 77.4h0M226.5 79.3h0M226.7 76.3h0M226.7 79.5h0M226.5 78.1h0M225.3 78.9h0M230.9 79.0h0M232.9 76.7h0M230.1 77.0h0M229.9 75.5h0M231.1 76.8h0M232.6 78.1h0M230.3 78.4h0M236.8 76.8h0M234.5 78.7h0M236.0 77.9h0M234.5 75.9h0M234.2 76.0h0M241.7 77.7h0M239.4 77.7h0M237.7 77.4h0M239.9 78.5h0M222.2 72.7h0M223.9 74.5h0M224.4 73.8h0M224.2 75.0h0M220.5 75.2h0M224.4 73.9h0M223.6 71.9h0M226.3 72.0h0M225.2 72.6h0M226.6 74.2h0M226.9 71.7h0M224.6 74.7h0M230.8 74.7h0M229.8 71.8h0M230.7 72.0h0M229.5 71.0h0M231.1 73.1h0M234.2 72.7h0M234.4 72.8h0M235.3 72.7h0M236.8 72.4h0M236.0 74.1h0M235.4 73.5h0M239.4 71.0h0M238.5 72.8h0M239.0 72.0h0M239.6 75.0h0M240.6 75.1h0M239.0 71.4h0M240.9 73.3h0M243.2 91.9h0M246.7 89.3h0M250.0 90.2h0M249.2 91.5h0M247.8 92.0h0M249.5 92.0h0M254.1 90.4h0M252.7 89.6h0M254.6 92.4h0M251.3 89.1h0M252.7 90.3h0M257.4 88.7h0M256.1 92.1h0M261.8 88.7h0M262.2 89.7h0M260.1 90.7h0M261.4 89.4h0M242.2 85.4h0M242.6 88.0h0M244.2 85.3h0M242.3 84.3h0M250.4 87.1h0M250.3 84.0h0M247.0 86.4h0M252.9 88.1h0M252.3 86.4h0M253.6 84.2h0M250.5 84.5h0M253.4 85.1h0M251.0 85.9h0M257.2 87.7h0M256.6 86.6h0M258.6 85.8h0M261.8 84.4h0M261.6 88.1h0M260.0 85.6h0M261.6 87.5h0M244.9 81.9h0M244.8 82.6h0M243.5 82.3h0M243.1 83.9h0M243.3 83.8h0M245.5 80.9h0M246.3 82.5h0M247.8 82.5h0M249.3 83.7h0M249.9 81.6h0M250.1 82.5h0M248.4 81.5h0M252.0 81.0h0M252.3 82.2h0M250.9 83.8h0M251.1 80.6h0M251.8 81.3h0M252.0 83.8h0M259.1 80.1h0M255.6 81.7h0M258.7 80.9h0M257.0 82.2h0M255.5 80.3h0M258.2 82.7h0M258.0 81.7h0M260.4 83.0h0M262.6 83.4h0M262.9 81.0h0M259.7 83.9h0M242.5 78.6h0M242.9 79.6h0M245.7 79.5h0M243.9 76.2h0M244.6 75.5h0M244.8 79.1h0M243.0 79.4h0M248.6 75.7h0M248.4 79.3h0M252.2 75.4h0M251.9 78.9h0M252.2 77.2h0M253.8 76.5h0M258.7 79.0h0M256.2 78.4h0M255.9 76.4h0M255.6 78.3h0M254.8 77.5h0M263.2 77.6h0M262.1 76.3h0M262.4 77.7h0M262.4 77.5h0M262.4 75.4h0M244.7 71.6h0M245.7 71.0h0M243.3 72.9h0M242.6 72.9h0M242.8 73.7h0M245.6 71.8h0M243.8 72.2h0M243.4 72.1h0M247.1 73.0h0M249.3 72.3h0M248.7 75.1h0M250.1 74.2h0M246.8 72.4h0M250.3 74.9h0M249.7 74.1h0M248.3 74.7h0M249.7 71.4h0M251.4 71.3h0M253.1 72.8h0M254.3 74.3h0M254.7 74.0h0M258.7 74.0h0M258.1 74.5h0M257.0 72.1h0M255.7 71.3h0M257.4 74.4h0M258.6 74.3h0M256.2 71.3h0M259.3 74.9h0M260.2 73.3h0M259.7 75.0h0M266.0 89.7h0M266.9 92.4h0M267.3 89.0h0M270.6 92.7h0M270.3 91.3h0M267.9 90.6h0M274.1 92.3h0M277.3 92.3h0M278.5 89.9h0M266.9 86.2h0M264.0 85.3h0M269.9 86.3h0M269.6 87.0h0M269.1 86.3h0M273.5 84.1h0M274.5 85.5h0M276.4 84.9h0M278.1 84.0h0M278.5 84.5h0M271.5 83.4h0M269.5 80.5h0M269.0 82.5h0M274.3 82.3h0M273.2 81.6h0M274.5 82.3h0M273.5 81.7h0M280.4 82.6h0M277.8 83.9h0M263.7 75.3h0M268.2 77.8h0M271.7 76.1h0M275.1 78.8h0M275.9 76.3h0M272.8 78.1h0M276.1 79.3h0M278.7 76.3h0M277.7 79.0h0M279.8 77.1h0M277.2 79.0h0M284.3 75.7h0M264.1 73.6h0M265.0 74.4h0M267.2 72.2h0M266.3 71.6h0M264.5 71.6h0M267.5 72.4h0M264.3 75.0h0M271.1 73.9h0M270.5 73.8h0M270.2 71.3h0M272.9 71.9h0M275.4 72.7h0M276.7 74.6h0M279.1 71.2h0M281.1 72.1h0M287.7 88.6h0M286.6 89.3h0M293.9 87.6h0M285.9 80.2h0M288.9 76.9h0M293.4 76.7h0M292.4 76.1h0M291.7 75.6h0M294.3 77.0h0M302.8 75.8h0M289.2 74.1h0M289.3 75.2h0M293.5 73.3h0M297.6 71.1h0M295.7 74.8h0M323.3 88.8h0M309.7 82.4h0M323.8 83.5h0M309.8 76.6h0M74.8 110.2h0M87.0 113.7h0M87.3 112.4h0M71.5 107.8h0M76.9 106.2h0M85.0 108.1h0M88.8 109.9h0M73.8 101.6h0M83.6 101.9h0M85.2 101.7h0M82.8 104.6h0M84.7 104.7h0M82.8 102.7h0M88.6 102.5h0M71.8 97.5h0M81.3 97.1h0M88.8 100.5h0M71.7 95.7h0M71.6 96.1h0M77.1 94.9h0M89.5 93.4h0M89.0 94.0h0M90.7 110.8h0M91.0 112.0h0M97.3 110.8h0M101.4 111.9h0M104.3 112.9h0M109.3 114.4h0M92.4 109.1h0M96.2 108.1h0M97.0 108.8h0M102.4 109.9h0M100.2 109.3h0M104.4 108.1h0M105.8 106.5h0M103.9 110.0h0M109.4 107.9h0M108.0 109.9h0M94.0 101.7h0M92.6 103.4h0M95.6 104.9h0M105.6 105.1h0M106.0 105.7h0M104.9 104.1h0M110.7 102.6h0M111.3 101.5h0M110.2 103.1h0M100.2 98.1h0M98.8 95.5h0M102.2 96.9h0M105.7 95.7h0M104.3 96.0h0M106.2 93.6h0M107.6 94.1h0M113.0 112.3h0M115.4 112.9h0M115.7 112.1h0M113.6 114.0h0M111.9 110.9h0M120.1 113.2h0M118.5 112.0h0M119.5 114.0h0M122.6 112.7h0M128.5 113.6h0M128.8 110.2h0M126.7 111.2h0M131.3 111.5h0M131.5 112.8h0M131.2 113.5h0M114.5 109.8h0M112.3 108.0h0M118.7 106.3h0M124.3 108.8h0M123.0 108.9h0M123.0 107.8h0M130.3 108.1h0M131.3 108.8h0M131.1 106.2h0M129.8 106.7h0M113.6 104.5h0M113.9 102.8h0M117.7 103.5h0M116.3 101.5h0M123.5 104.6h0M120.9 104.6h0M123.2 105.1h0M128.1 102.2h0M125.8 102.9h0M125.2 103.4h0M126.0 102.6h0M125.9 104.8h0M130.1 103.1h0M114.3 99.4h0M111.9 97.3h0M115.6 98.6h0M114.9 97.3h0M118.7 99.2h0M118.8 101.4h0M122.4 100.3h0M121.0 98.4h0M123.7 100.7h0M120.9 98.8h0M129.0 99.5h0M130.7 98.3h0M129.1 98.5h0M133.3 99.2h0M132.2 97.1h0M115.4 96.9h0M111.9 96.1h0M117.7 95.5h0M117.2 92.9h0M124.7 96.5h0M121.9 96.1h0M126.2 93.9h0M126.8 94.5h0M131.2 94.8h0M132.8 93.9h0M130.7 96.4h0M130.3 95.3h0M135.0 113.7h0M135.1 113.2h0M136.4 110.4h0M133.9 113.3h0M141.0 112.7h0M141.7 111.1h0M140.6 110.5h0M142.3 114.2h0M148.8 112.7h0M147.5 112.4h0M153.9 111.0h0M151.1 110.5h0M151.2 110.6h0M152.7 112.1h0M154.3 113.2h0M150.9 114.2h0M135.2 107.0h0M136.5 106.7h0M136.6 106.4h0M133.4 105.9h0M134.1 107.9h0M138.8 108.1h0M139.9 106.0h0M139.0 109.0h0M142.2 108.7h0M143.9 107.5h0M143.7 109.0h0M147.0 106.7h0M148.6 107.2h0M149.6 110.0h0M147.7 108.8h0M150.0 107.2h0M147.7 107.4h0M148.0 108.2h0M148.7 106.7h0M150.9 106.9h0M150.9 108.1h0M134.7 103.7h0M134.3 102.7h0M137.7 104.3h0M135.2 101.5h0M134.1 104.9h0M136.8 104.2h0M145.1 104.3h0M145.6 105.5h0M142.3 105.4h0M142.4 102.4h0M143.4 105.4h0M145.7 103.4h0M147.1 104.1h0M147.3 102.1h0M148.6 105.7h0M146.7 103.2h0M147.4 104.4h0M148.2 102.8h0M149.1 105.2h0M149.0 102.4h0M151.8 102.4h0M152.5 102.8h0M136.7 98.4h0M136.8 98.0h0M138.4 97.7h0M140.2 100.5h0M138.7 98.0h0M140.0 99.8h0M144.9 100.0h0M146.3 98.5h0M149.8 100.9h0M149.1 100.0h0M150.1 100.4h0M147.5 99.4h0M147.9 100.3h0M153.0 100.4h0M153.3 99.9h0M152.2 100.3h0M152.2 100.9h0M152.0 100.6h0M136.6 96.1h0M136.0 95.1h0M137.2 93.7h0M136.1 93.1h0M139.8 94.9h0M141.0 95.8h0M145.6 94.1h0M145.7 94.4h0M144.1 94.3h0M143.3 96.2h0M142.9 95.4h0M144.3 93.3h0M149.8 92.8h0M146.8 94.6h0M153.9 94.9h0M152.5 95.2h0M154.0 94.7h0M152.9 94.0h0M156.9 114.0h0M157.4 111.9h0M155.8 112.5h0M156.8 114.1h0M156.4 112.3h0M158.0 113.5h0M157.6 110.8h0M158.3 113.3h0M162.3 112.4h0M161.9 111.6h0M160.8 113.1h0M160.3 110.6h0M162.2 113.1h0M160.8 110.8h0M161.6 112.1h0M160.7 113.1h0M166.3 112.2h0M165.1 113.3h0M166.1 110.7h0M165.7 110.9h0M165.5 110.5h0M166.1 113.1h0M165.0 113.6h0M171.4 112.4h0M171.5 111.5h0M168.4 113.6h0M171.9 112.1h0M172.1 113.2h0M169.7 113.3h0M172.3 113.1h0M174.1 110.4h0M175.3 110.1h0M175.4 114.4h0M176.3 111.1h0M173.5 110.8h0M174.4 111.9h0M155.4 108.9h0M155.9 109.7h0M158.6 109.3h0M158.4 107.5h0M161.9 109.3h0M160.0 105.9h0M162.4 109.5h0M161.5 110.1h0M165.3 108.6h0M167.1 109.5h0M165.7 106.5h0M167.0 105.9h0M164.1 109.8h0M165.3 106.0h0M170.4 110.1h0M168.7 107.8h0M169.0 109.5h0M170.7 106.6h0M170.8 107.6h0M170.8 107.9h0M171.9 109.6h0M172.3 107.6h0M174.7 107.8h0M174.7 105.9h0M158.4 103.2h0M162.6 105.1h0M161.1 103.0h0M159.9 104.2h0M164.0 105.2h0M164.5 102.1h0M165.5 105.1h0M165.2 104.1h0M163.8 104.7h0M167.2 102.9h0M169.4 104.7h0M169.2 105.0h0M170.5 101.5h0M169.8 104.9h0M173.6 104.7h0M175.6 103.4h0M174.6 103.8h0M175.5 103.2h0M172.6 101.7h0M155.9 97.2h0M157.1 99.0h0M156.0 101.0h0M156.4 99.1h0M158.8 97.2h0M156.6 100.6h0M160.5 97.9h0M167.7 100.6h0M168.1 100.4h0M171.7 99.9h0M169.2 98.9h0M172.2 99.3h0M169.8 98.3h0M168.1 99.5h0M169.7 97.9h0M173.7 100.5h0M176.7 100.3h0M176.7 101.1h0M173.9 101.2h0M155.4 93.0h0M161.2 95.5h0M160.0 93.9h0M162.7 95.1h0M161.1 94.2h0M162.0 93.6h0M166.9 94.9h0M167.7 96.5h0M165.2 93.7h0M166.2 93.1h0M163.9 96.9h0M171.7 95.7h0M168.8 94.6h0M168.8 93.4h0M168.1 93.0h0M171.5 97.0h0M174.5 96.2h0M178.6 113.8h0M177.0 112.6h0M180.7 112.7h0M180.5 110.3h0M178.4 112.1h0M180.2 114.2h0M179.3 112.7h0M183.0 112.3h0M185.4 110.6h0M181.4 110.3h0M184.2 114.4h0M183.7 112.5h0M182.7 112.0h0M183.3 110.4h0M181.4 111.2h0M182.5 110.9h0M183.5 112.6h0M184.3 110.1h0M181.3 113.5h0M185.3 111.9h0M187.0 113.5h0M187.5 113.2h0M187.7 111.5h0M189.2 110.7h0M189.1 111.0h0M187.9 110.4h0M187.6 112.3h0M189.3 112.6h0M192.6 112.0h0M194.6 113.5h0M196.7 113.9h0M198.4 112.1h0M197.3 112.8h0M196.7 113.4h0M180.8 107.3h0M177.5 107.8h0M185.1 110.0h0M185.1 107.3h0M183.1 107.7h0M183.1 109.9h0M181.6 107.1h0M183.9 108.5h0M188.2 109.1h0M186.5 109.3h0M185.7 108.2h0M186.9 109.6h0M191.4 107.2h0M191.5 106.1h0M192.5 106.8h0M190.0 106.8h0M191.0 108.0h0M190.8 108.7h0M196.2 110.1h0M195.4 106.3h0M196.8 105.9h0M197.5 106.0h0M180.2 103.8h0M177.9 103.2h0M177.8 102.9h0M178.5 105.2h0M181.3 105.3h0M185.1 105.1h0M181.2 103.8h0M182.9 104.2h0M182.9 102.3h0M183.1 102.3h0M186.2 103.0h0M187.3 104.8h0M187.9 105.4h0M186.6 104.1h0M188.9 103.1h0M187.1 101.7h0M186.6 102.1h0M186.9 101.7h0M188.0 102.1h0M188.6 103.1h0M190.0 105.2h0M190.1 103.2h0M192.4 103.0h0M192.2 101.6h0M190.7 101.6h0M191.6 103.8h0M192.0 103.2h0M194.7 105.5h0M197.3 101.9h0M194.8 101.8h0M197.5 102.1h0M194.8 103.1h0M198.2 105.5h0M197.4 102.9h0M194.3 102.4h0M176.9 100.3h0M180.7 99.2h0M177.2 98.9h0M179.5 99.0h0M178.5 101.1h0M180.7 97.4h0M180.1 97.3h0M179.8 97.2h0M181.7 99.9h0M185.0 101.0h0M182.5 99.9h0M181.3 97.6h0M188.1 99.2h0M187.0 98.7h0M189.5 101.1h0M186.1 99.1h0M186.1 97.1h0M187.0 100.1h0M191.3 97.5h0M190.0 99.3h0M190.8 98.6h0M191.1 100.3h0M193.1 97.9h0M193.1 101.3h0M194.1 97.2h0M190.6 100.0h0M193.3 99.0h0M193.5 98.6h0M197.1 101.0h0M198.1 100.8h0M196.3 97.5h0M178.6 93.1h0M178.4 92.9h0M179.9 94.3h0M178.8 96.9h0M181.8 93.0h0M181.3 93.3h0M181.1 94.0h0M181.4 95.1h0M185.3 94.9h0M186.2 95.2h0M186.2 93.8h0M188.0 93.6h0M187.2 94.7h0M187.8 94.6h0M185.8 93.4h0M192.4 96.5h0M193.5 93.5h0M192.8 96.3h0M193.8 94.6h0M194.0 93.8h0M193.5 93.0h0M196.0 95.0h0M196.4 92.8h0M198.2 94.9h0M195.0 95.7h0M195.9 94.5h0M195.4 96.6h0M196.4 96.1h0M200.5 112.2h0M199.1 113.4h0M199.8 113.6h0M202.2 111.8h0M201.8 111.9h0M200.0 112.0h0M206.0 112.7h0M204.9 111.2h0M203.4 113.1h0M203.8 110.3h0M205.2 113.3h0M206.5 112.8h0M205.9 113.9h0M206.0 111.8h0M208.1 113.2h0M210.6 111.7h0M208.8 111.4h0M207.7 114.0h0M209.7 111.3h0M214.5 113.2h0M214.7 113.4h0M218.9 112.3h0M216.3 113.0h0M218.9 111.6h0M217.9 110.5h0M202.2 108.3h0M198.6 108.8h0M202.7 109.9h0M201.7 109.1h0M199.0 109.3h0M198.9 107.1h0M201.3 109.9h0M205.2 109.5h0M204.4 107.1h0M204.3 107.8h0M205.2 106.3h0M210.4 109.1h0M208.2 106.8h0M210.7 109.3h0M207.8 109.4h0M211.4 106.0h0M208.6 105.8h0M207.4 107.2h0M211.4 106.4h0M215.2 107.6h0M215.0 109.1h0M217.4 107.0h0M217.1 108.6h0M218.5 107.9h0M202.4 103.2h0M200.6 103.4h0M200.4 105.2h0M200.8 103.8h0M199.1 104.9h0M199.4 105.1h0M200.2 103.0h0M201.9 103.6h0M202.0 102.6h0M199.4 105.7h0M205.4 102.6h0M206.1 103.5h0M203.1 102.3h0M210.8 103.2h0M210.2 105.5h0M213.2 105.1h0M214.5 101.7h0M215.4 102.8h0M211.6 103.7h0M211.9 102.6h0M213.3 104.4h0M215.2 102.7h0M211.5 103.6h0M213.6 102.9h0M216.8 102.5h0M217.8 102.5h0M217.5 101.9h0M219.2 105.2h0M219.8 105.3h0M218.9 105.4h0M217.6 105.2h0M218.8 104.7h0M200.7 97.2h0M200.1 97.7h0M198.8 98.7h0M202.6 100.0h0M202.7 98.1h0M199.3 97.4h0M201.2 98.5h0M199.0 98.3h0M204.6 99.7h0M204.3 98.7h0M205.2 101.2h0M205.6 98.2h0M206.1 101.2h0M205.1 99.9h0M203.6 98.7h0M203.8 99.1h0M207.7 100.0h0M210.5 97.7h0M210.2 99.7h0M208.2 97.7h0M210.9 98.3h0M211.0 97.7h0M208.3 98.3h0M215.5 99.7h0M211.7 101.3h0M212.7 97.8h0M213.7 97.5h0M214.8 101.0h0M212.9 100.8h0M215.3 97.2h0M213.0 99.4h0M213.5 100.1h0M215.4 99.9h0M215.9 100.6h0M218.3 100.0h0M219.7 99.8h0M218.0 100.4h0M219.3 99.5h0M219.4 99.9h0M198.6 94.4h0M202.3 94.0h0M199.8 93.7h0M201.2 94.2h0M200.5 92.7h0M202.5 94.3h0M202.2 96.6h0M206.5 93.3h0M204.8 93.7h0M204.9 95.6h0M205.0 95.4h0M203.0 94.8h0M204.7 96.8h0M205.0 93.7h0M204.9 93.6h0M205.9 95.2h0M210.9 96.0h0M208.0 94.7h0M210.2 96.2h0M208.4 96.2h0M211.5 94.6h0M211.6 95.0h0M214.6 94.2h0M212.4 94.0h0M212.1 96.1h0M219.0 95.3h0M217.1 95.5h0M218.6 94.1h0M216.7 96.8h0M220.1 92.8h0M221.5 111.7h0M222.5 112.6h0M221.0 110.7h0M224.7 113.2h0M228.3 113.9h0M229.7 113.6h0M229.3 112.1h0M228.9 111.0h0M229.7 112.2h0M232.3 110.8h0M234.3 113.1h0M235.9 111.2h0M221.4 108.0h0M222.1 108.4h0M220.5 108.4h0M224.4 107.9h0M222.2 109.8h0M228.1 108.1h0M225.3 109.6h0M227.7 108.3h0M227.4 109.5h0M224.5 106.2h0M228.7 107.2h0M232.5 109.6h0M234.5 106.5h0M241.1 108.9h0M237.8 108.4h0M223.6 101.7h0M222.5 104.6h0M223.7 102.0h0M220.4 105.1h0M222.0 103.4h0M227.4 104.1h0M227.2 103.9h0M227.6 102.0h0M227.3 101.9h0M225.7 102.9h0M233.1 102.2h0M233.8 102.5h0M233.8 101.8h0M241.7 103.6h0M239.4 103.2h0M222.1 99.3h0M223.6 97.1h0M224.5 99.6h0M227.3 97.7h0M228.2 99.1h0M226.5 99.0h0M225.4 101.0h0M227.1 98.0h0M232.9 100.8h0M230.4 101.2h0M231.7 99.0h0M230.1 97.4h0M233.8 97.2h0M234.0 97.4h0M234.5 99.1h0M235.2 100.2h0M241.8 99.7h0M238.0 98.1h0M223.6 92.7h0M221.4 94.6h0M223.5 94.5h0M221.3 94.2h0M221.0 96.5h0M224.1 96.5h0M224.2 94.3h0M220.7 92.9h0M227.8 93.8h0M229.5 96.6h0M231.1 93.2h0M230.1 96.9h0M237.0 94.6h0M236.2 93.9h0M235.8 96.3h0M239.3 94.2h0M241.3 94.6h0M238.8 94.1h0M240.8 93.7h0M241.2 95.6h0M247.5 113.1h0M257.4 114.0h0M242.9 106.7h0M255.5 109.7h0M258.1 110.0h0M263.4 108.6h0M243.4 103.8h0M249.6 105.1h0M248.4 103.5h0M247.3 102.5h0M242.2 97.6h0M242.9 101.3h0M249.4 99.5h0M255.4 101.2h0M260.0 98.0h0M245.9 95.3h0M243.9 95.0h0M244.4 94.4h0M250.4 94.8h0M247.2 96.3h0M247.4 93.6h0M246.5 93.9h0M249.0 95.3h0M252.0 97.0h0M256.2 93.7h0M255.2 94.4h0M262.9 94.6h0M262.1 95.4h0M266.6 114.3h0M275.4 109.1h0M276.9 101.9h0M265.3 99.1h0M278.5 98.0h0M267.8 95.1h0M264.0 92.8h0M276.9 96.1h0M290.5 113.3h0M301.1 104.0h0M295.3 100.8h0M291.4 96.9h0M71.3 136.1h0M82.2 134.8h0M85.8 133.2h0M76.4 129.2h0M78.5 129.6h0M80.9 128.3h0M82.3 129.9h0M85.8 128.9h0M69.6 125.0h0M79.8 124.8h0M78.2 124.8h0M84.1 121.2h0M83.7 122.9h0M87.2 122.7h0M87.2 122.9h0M80.5 116.5h0M83.8 116.7h0M85.8 117.9h0M91.6 133.8h0M97.4 133.2h0M96.5 132.4h0M96.8 132.3h0M103.1 133.3h0M104.8 134.0h0M104.5 134.0h0M108.5 133.5h0M110.4 132.7h0M97.9 129.2h0M100.3 130.3h0M108.6 130.3h0M90.8 125.9h0M101.3 123.7h0M105.1 124.4h0M104.5 125.6h0M105.5 126.7h0M103.5 125.3h0M104.8 124.6h0M110.6 123.2h0M98.4 119.8h0M96.9 123.0h0M105.7 121.3h0M94.8 117.0h0M98.3 117.9h0M97.1 117.5h0M101.0 117.2h0M105.5 115.0h0M103.5 114.5h0M107.5 116.6h0M110.3 116.1h0M107.8 114.6h0M115.5 135.5h0M113.0 132.5h0M116.6 132.6h0M116.6 133.1h0M117.9 135.9h0M123.5 133.4h0M122.1 136.1h0M122.7 132.6h0M129.0 135.6h0M128.2 135.1h0M133.1 133.7h0M130.3 134.3h0M132.5 133.7h0M112.6 127.8h0M116.1 129.1h0M116.9 128.3h0M118.3 130.5h0M116.4 131.3h0M123.8 129.7h0M127.3 129.4h0M128.7 130.0h0M125.3 131.7h0M132.0 130.8h0M114.9 126.7h0M112.9 125.5h0M115.7 125.8h0M112.4 124.6h0M117.8 124.0h0M116.4 124.0h0M118.8 123.5h0M120.1 123.8h0M117.4 123.5h0M117.8 126.6h0M116.4 123.9h0M122.0 123.8h0M121.8 126.8h0M123.0 124.1h0M123.3 126.1h0M126.2 123.7h0M127.1 124.0h0M127.9 125.4h0M128.8 125.8h0M127.0 125.8h0M131.5 124.1h0M112.0 122.7h0M115.9 122.0h0M115.5 120.1h0M114.4 121.3h0M119.5 120.3h0M118.5 122.1h0M116.1 121.6h0M122.9 122.1h0M128.0 121.3h0M128.3 122.3h0M128.4 122.6h0M126.7 119.4h0M130.8 121.5h0M132.8 120.8h0M129.3 123.0h0M132.5 121.3h0M113.1 115.4h0M113.1 116.0h0M117.9 117.9h0M116.1 118.7h0M123.6 114.9h0M129.0 117.2h0M132.1 114.6h0M133.0 115.7h0M136.2 133.8h0M135.3 131.9h0M138.5 133.2h0M142.9 134.0h0M145.8 134.8h0M145.0 132.9h0M142.9 134.5h0M146.6 132.9h0M148.5 133.5h0M150.4 136.1h0M149.0 134.0h0M152.6 132.6h0M154.3 133.4h0M153.1 133.5h0M136.4 131.4h0M141.5 128.3h0M141.0 130.4h0M138.1 130.3h0M137.8 128.9h0M146.3 128.2h0M145.2 128.1h0M145.2 129.9h0M146.2 127.6h0M146.6 127.9h0M146.4 128.5h0M149.5 130.0h0M153.2 129.1h0M152.7 130.1h0M151.9 131.7h0M154.6 127.5h0M152.9 128.8h0M136.3 125.1h0M141.7 125.6h0M139.4 125.5h0M138.2 124.7h0M138.2 127.4h0M139.6 125.2h0M141.0 127.5h0M143.9 125.0h0M149.4 123.9h0M147.6 126.1h0M150.6 127.4h0M148.5 123.4h0M147.6 124.6h0M148.8 125.4h0M150.3 127.0h0M153.4 124.8h0M136.6 122.0h0M134.8 119.6h0M140.2 120.2h0M138.8 121.9h0M138.7 123.1h0M140.8 122.1h0M141.2 122.6h0M140.2 120.4h0M139.1 120.0h0M141.3 119.8h0M140.9 121.7h0M143.2 119.7h0M148.6 119.3h0M148.9 122.1h0M149.0 120.2h0M151.3 120.4h0M153.5 119.9h0M134.8 115.6h0M134.3 117.2h0M137.2 116.5h0M134.2 114.6h0M141.1 114.5h0M137.9 116.0h0M140.9 117.8h0M139.2 118.3h0M139.2 116.8h0M141.4 114.9h0M138.0 116.0h0M145.7 117.2h0M143.1 115.3h0M143.6 117.6h0M144.5 117.3h0M144.7 116.1h0M145.1 117.7h0M142.2 116.7h0M150.5 115.0h0M147.7 115.8h0M150.0 117.7h0M146.7 116.3h0M151.3 114.5h0M154.1 117.0h0M153.6 116.2h0M154.6 116.6h0M152.9 118.4h0M153.4 117.9h0M162.5 135.9h0M162.2 133.9h0M162.5 135.2h0M163.6 132.0h0M160.9 133.0h0M167.4 133.4h0M166.7 136.0h0M167.3 133.0h0M168.0 132.6h0M165.0 132.1h0M169.8 133.6h0M168.3 134.8h0M171.6 132.7h0M171.2 136.2h0M169.1 133.0h0M171.2 134.1h0M171.6 133.2h0M170.7 134.2h0M171.2 135.3h0M176.3 132.8h0M174.7 135.6h0M176.5 135.6h0M175.0 132.1h0M174.3 134.2h0M175.8 133.2h0M158.2 130.2h0M158.4 127.9h0M158.2 131.3h0M157.8 131.5h0M157.2 129.0h0M159.3 131.7h0M157.3 130.1h0M158.4 130.9h0M161.9 130.0h0M162.8 128.5h0M162.4 130.8h0M159.9 130.9h0M162.0 129.1h0M161.8 130.4h0M161.7 131.3h0M167.6 129.2h0M164.6 131.8h0M165.3 127.8h0M165.1 130.2h0M166.5 127.9h0M166.6 130.0h0M171.1 131.4h0M169.0 131.5h0M171.6 127.5h0M171.7 130.0h0M170.0 129.5h0M173.3 131.8h0M173.3 129.9h0M173.9 131.8h0M173.2 131.8h0M156.3 127.3h0M156.4 125.6h0M163.0 124.6h0M162.7 124.1h0M160.2 123.3h0M160.7 127.0h0M167.7 123.8h0M164.4 124.0h0M167.9 126.0h0M165.5 126.8h0M165.9 126.4h0M170.8 124.5h0M169.5 124.5h0M170.8 124.3h0M172.3 125.8h0M173.9 126.3h0M174.5 123.2h0M176.4 123.9h0M159.2 120.6h0M157.0 122.2h0M156.0 122.6h0M159.6 123.0h0M162.2 119.3h0M161.6 121.2h0M160.7 122.6h0M162.2 122.8h0M168.1 120.5h0M165.8 120.3h0M165.6 121.0h0M166.0 121.3h0M168.1 121.0h0M169.8 122.6h0M170.2 119.2h0M176.0 122.9h0M176.5 121.9h0M173.8 121.4h0M172.6 122.2h0M172.8 121.3h0M155.6 118.4h0M157.7 115.8h0M161.0 116.6h0M163.4 118.6h0M161.9 116.5h0M160.7 118.7h0M162.8 114.9h0M167.2 116.2h0M164.7 118.2h0M164.7 114.8h0M164.0 116.5h0M167.8 118.3h0M170.8 114.5h0M171.5 118.3h0M171.0 118.0h0M171.0 116.3h0M171.7 118.4h0M171.3 118.0h0M174.9 116.6h0M175.1 116.1h0M174.5 116.5h0M173.8 117.8h0M173.6 114.6h0M176.4 115.1h0M174.8 114.7h0M175.4 117.4h0M172.9 114.5h0M178.9 135.1h0M179.3 134.3h0M178.6 132.5h0M179.3 134.5h0M176.9 133.4h0M178.2 133.2h0M178.6 133.7h0M181.3 134.6h0M183.4 133.6h0M182.8 132.7h0M182.1 135.5h0M183.9 132.5h0M187.6 133.6h0M188.6 132.6h0M191.1 134.3h0M190.8 135.2h0M190.3 131.9h0M193.9 133.9h0M189.9 135.5h0M191.5 135.2h0M191.4 136.1h0M196.2 135.0h0M195.2 134.8h0M194.9 133.1h0M194.4 135.8h0M177.1 128.1h0M180.9 130.0h0M178.9 128.8h0M177.5 130.3h0M181.0 130.2h0M177.9 131.8h0M183.8 128.7h0M184.3 129.9h0M181.5 127.7h0M183.4 130.9h0M182.3 131.2h0M183.5 129.9h0M182.2 127.5h0M188.5 130.9h0M186.4 131.0h0M188.4 128.9h0M186.6 128.4h0M188.6 128.0h0M186.1 128.8h0M190.8 129.0h0M191.3 129.3h0M192.1 131.3h0M192.1 131.2h0M192.5 130.8h0M189.9 128.0h0M193.1 131.0h0M193.7 128.6h0M193.5 127.8h0M195.5 129.3h0M194.3 130.4h0M179.1 127.3h0M178.9 124.5h0M179.5 126.9h0M180.5 126.9h0M179.1 125.5h0M177.3 123.9h0M179.0 125.0h0M178.0 125.4h0M179.1 127.0h0M178.0 124.3h0M179.1 127.3h0M179.3 125.2h0M182.4 124.1h0M181.9 123.2h0M182.3 126.6h0M183.5 124.3h0M183.4 125.9h0M183.2 123.3h0M183.9 124.5h0M181.3 125.9h0M188.0 123.4h0M186.7 127.0h0M188.1 124.6h0M186.6 123.2h0M188.2 125.0h0M186.8 126.5h0M186.2 126.3h0M190.7 123.5h0M193.1 127.2h0M190.9 126.3h0M191.8 125.7h0M194.7 125.2h0M197.4 127.0h0M198.4 123.6h0M195.5 127.1h0M194.8 125.2h0M197.2 126.8h0M176.9 122.7h0M178.3 121.5h0M180.2 120.2h0M185.4 122.6h0M184.0 121.2h0M182.4 119.6h0M181.6 121.0h0M183.3 119.0h0M181.2 121.2h0M182.7 121.2h0M183.8 122.3h0M183.5 119.4h0M182.4 118.8h0M181.5 121.6h0M188.9 120.8h0M188.8 119.7h0M191.5 119.6h0M190.8 121.8h0M190.7 122.0h0M195.4 122.2h0M198.0 120.1h0M179.3 118.6h0M180.9 117.3h0M180.0 117.1h0M179.3 115.9h0M179.2 117.0h0M180.1 117.3h0M182.8 117.2h0M183.6 116.0h0M182.4 115.6h0M182.8 116.0h0M184.3 118.6h0M182.8 115.7h0M182.4 115.8h0M184.5 114.8h0M187.1 118.4h0M186.2 118.2h0M186.2 116.4h0M187.8 115.4h0M187.4 118.2h0M193.9 114.5h0M190.0 115.7h0M198.3 114.6h0M194.8 116.1h0M196.3 115.5h0M196.2 118.3h0M195.5 114.8h0M197.3 117.6h0M201.0 135.3h0M202.5 134.9h0M201.6 134.4h0M200.1 132.5h0M204.3 135.0h0M205.8 133.4h0M203.4 132.9h0M210.7 133.2h0M208.4 133.3h0M210.1 135.8h0M220.1 135.9h0M218.6 132.1h0M201.0 130.5h0M199.1 130.7h0M198.5 130.2h0M199.2 127.7h0M199.9 130.2h0M205.9 130.0h0M207.5 128.2h0M210.7 131.0h0M218.7 129.7h0M204.4 123.5h0M206.2 123.3h0M207.1 124.6h0M202.9 126.3h0M204.1 126.6h0M208.9 126.4h0M211.3 124.5h0M214.4 123.8h0M214.4 126.2h0M220.0 124.5h0M198.9 120.1h0M199.9 121.5h0M202.4 123.1h0M198.7 122.7h0M201.0 121.3h0M206.4 120.1h0M202.8 121.8h0M203.2 121.4h0M203.5 122.4h0M208.2 118.8h0M210.7 122.8h0M212.2 120.8h0M212.9 122.2h0M211.6 122.5h0M211.9 120.1h0M215.7 121.7h0M218.7 118.8h0M216.9 120.9h0M216.9 122.4h0M198.6 115.0h0M199.5 118.6h0M200.4 115.5h0M200.5 117.1h0M201.9 115.7h0M198.5 116.9h0M201.8 117.3h0M206.3 116.4h0M206.4 118.6h0M204.2 114.7h0M210.5 117.3h0M210.2 118.3h0M210.7 117.1h0M212.2 115.1h0M212.8 114.7h0M211.9 115.2h0M213.9 116.6h0M220.0 118.3h0M218.7 117.6h0M219.3 117.8h0M220.3 132.4h0M222.4 132.1h0M227.6 135.7h0M225.3 133.3h0M233.6 135.7h0M240.1 132.5h0M222.8 128.7h0M239.7 129.7h0M221.4 125.5h0M221.8 127.4h0M224.3 126.3h0M230.4 126.1h0M230.5 125.0h0M233.5 125.0h0M234.7 126.3h0M238.5 123.7h0M222.2 122.2h0M224.5 123.0h0M224.3 122.2h0M223.0 122.9h0M229.3 120.4h0M230.8 121.0h0M235.7 122.1h0M240.4 119.0h0M220.1 118.5h0M222.5 115.2h0M231.5 114.8h0M229.2 117.1h0M232.8 116.1h0M235.3 115.2h0M242.5 135.8h0M242.9 135.4h0M251.9 126.8h0M261.0 124.9h0M252.4 119.4h0M253.3 119.1h0M252.9 121.5h0M247.6 116.2h0M249.9 115.5h0M263.3 118.0h0M267.5 135.0h0M268.9 135.5h0M267.1 124.4h0M278.8 125.2h0M284.1 120.6h0M265.5 115.5h0M270.6 115.2h0M291.1 128.8h0M303.6 131.6h0M285.6 118.7h0M69.7 155.1h0M69.4 154.1h0M76.1 157.5h0M82.4 154.4h0M85.1 155.4h0M83.1 154.5h0M89.3 156.5h0M88.6 157.4h0M69.6 149.9h0M73.9 153.0h0M88.9 150.5h0M83.8 146.9h0M84.5 148.7h0M87.8 148.1h0M86.1 146.3h0M81.3 142.1h0M83.1 143.2h0M87.1 143.1h0M70.9 136.6h0M82.8 140.5h0M93.8 157.0h0M98.0 154.6h0M96.0 153.8h0M102.3 155.6h0M99.0 156.0h0M104.2 155.9h0M105.5 157.2h0M111.5 155.4h0M110.5 155.4h0M109.7 157.8h0M92.6 152.2h0M94.9 150.6h0M95.4 151.5h0M99.4 149.5h0M100.9 150.3h0M102.6 153.2h0M99.8 150.2h0M101.2 150.3h0M105.2 153.2h0M106.8 153.2h0M94.3 147.7h0M93.6 144.9h0M98.9 148.7h0M101.4 147.4h0M104.3 147.5h0M110.3 149.0h0M108.2 145.5h0M92.4 140.8h0M94.3 141.9h0M96.1 144.2h0M99.7 141.9h0M99.3 144.1h0M106.8 144.5h0M109.0 140.8h0M93.5 139.3h0M96.1 139.5h0M96.8 136.9h0M100.1 137.3h0M99.7 138.0h0M103.3 140.5h0M103.6 137.9h0M104.9 136.5h0M110.6 140.4h0M109.8 139.1h0M107.6 136.3h0M110.1 140.0h0M113.4 154.6h0M117.3 155.7h0M122.2 157.4h0M120.5 156.7h0M121.6 154.6h0M128.0 156.4h0M125.1 156.9h0M128.2 157.7h0M128.8 154.9h0M126.9 154.0h0M128.8 155.4h0M127.9 157.3h0M133.1 157.0h0M129.3 155.9h0M130.3 156.1h0M131.3 156.8h0M131.2 154.6h0M113.1 152.5h0M112.5 150.5h0M113.7 153.1h0M113.5 151.9h0M117.7 149.5h0M119.5 151.0h0M118.7 150.1h0M117.9 152.2h0M123.5 151.8h0M121.6 152.6h0M125.1 149.8h0M128.1 152.7h0M130.7 150.1h0M130.3 149.6h0M131.1 151.6h0M114.1 145.6h0M116.8 148.7h0M117.7 146.0h0M120.4 147.5h0M118.4 149.2h0M124.1 145.8h0M124.7 146.4h0M122.2 146.2h0M124.2 148.1h0M124.2 146.7h0M123.0 145.5h0M123.7 148.0h0M128.3 147.9h0M125.2 148.6h0M130.4 145.6h0M130.5 146.5h0M133.4 145.3h0M114.5 142.4h0M112.9 142.7h0M114.9 144.3h0M118.4 144.1h0M116.1 143.5h0M117.6 140.7h0M116.3 140.8h0M118.2 144.8h0M124.7 141.3h0M121.7 141.4h0M120.6 142.6h0M128.3 143.6h0M127.4 144.1h0M126.0 141.4h0M130.9 142.7h0M129.6 143.8h0M131.6 144.3h0M130.3 143.6h0M113.7 136.7h0M113.2 137.5h0M113.0 136.6h0M116.0 138.2h0M119.8 140.0h0M116.1 137.1h0M123.9 137.8h0M124.3 138.5h0M124.5 137.8h0M121.3 138.3h0M128.1 136.6h0M125.4 140.2h0M131.3 138.4h0M131.9 137.7h0M130.2 139.1h0M132.3 137.4h0M136.1 156.6h0M135.4 156.4h0M134.5 155.3h0M133.9 153.6h0M137.9 157.1h0M141.9 156.1h0M138.9 154.3h0M144.0 154.4h0M143.3 154.0h0M144.1 156.6h0M148.7 156.8h0M148.0 157.4h0M146.7 155.1h0M149.7 156.3h0M148.5 153.9h0M146.6 157.9h0M146.9 157.4h0M146.7 155.1h0M154.4 156.9h0M154.5 155.0h0M152.6 157.5h0M154.0 155.2h0M153.0 156.0h0M154.0 154.0h0M137.7 151.3h0M136.6 150.4h0M135.7 153.4h0M136.8 151.5h0M135.0 152.3h0M137.7 151.5h0M137.4 150.3h0M141.7 150.9h0M138.1 151.8h0M140.8 150.3h0M139.0 149.6h0M146.3 149.3h0M145.6 152.8h0M142.1 149.8h0M146.6 150.6h0M147.2 153.0h0M149.7 151.4h0M150.9 150.8h0M151.6 150.6h0M153.2 150.4h0M150.9 151.7h0M151.6 152.9h0M153.3 153.5h0M136.9 147.0h0M136.6 146.6h0M135.1 146.2h0M141.6 145.8h0M140.0 146.4h0M138.2 145.7h0M141.8 146.5h0M138.7 148.3h0M144.2 148.7h0M147.0 148.5h0M149.6 146.6h0M151.8 145.7h0M154.9 145.9h0M151.8 148.2h0M152.8 145.1h0M154.2 145.4h0M136.4 143.6h0M133.9 141.2h0M136.0 143.2h0M137.8 141.0h0M139.2 142.5h0M140.7 143.4h0M146.2 141.8h0M142.7 143.1h0M144.3 143.1h0M150.1 142.4h0M148.0 143.1h0M148.2 141.8h0M151.5 144.6h0M154.1 141.5h0M151.6 144.5h0M153.4 143.1h0M153.0 143.4h0M151.6 140.9h0M154.2 142.8h0M151.7 143.0h0M152.7 142.8h0M137.3 137.4h0M137.0 137.0h0M133.5 138.8h0M136.1 138.7h0M134.9 136.7h0M138.2 136.3h0M141.8 136.2h0M140.4 137.1h0M139.5 137.4h0M139.0 138.5h0M140.6 136.7h0M142.2 137.4h0M145.3 139.6h0M149.0 138.3h0M146.7 138.2h0M148.7 137.9h0M147.4 137.0h0M147.9 139.9h0M150.4 140.2h0M153.5 138.8h0M154.2 136.7h0M150.9 138.8h0M153.7 139.5h0M151.7 137.1h0M151.4 139.8h0M151.7 139.3h0M155.5 156.9h0M155.9 154.3h0M157.5 154.2h0M155.3 154.9h0M159.6 157.9h0M161.9 157.6h0M159.7 156.7h0M161.0 155.5h0M164.0 155.0h0M164.5 156.8h0M167.3 156.0h0M164.0 154.5h0M167.1 155.4h0M166.9 157.0h0M165.2 156.7h0M165.1 157.8h0M165.1 157.4h0M169.3 155.4h0M170.6 157.8h0M168.5 156.8h0M168.5 154.8h0M169.8 154.3h0M173.1 154.3h0M174.3 156.0h0M176.0 156.3h0M159.4 151.9h0M156.1 153.2h0M162.9 150.6h0M162.4 149.5h0M159.8 152.6h0M161.0 150.0h0M163.3 152.3h0M162.1 151.0h0M168.0 152.9h0M164.7 150.0h0M167.9 153.1h0M167.4 153.0h0M165.6 149.6h0M164.4 149.4h0M172.0 152.5h0M170.1 150.9h0M168.6 151.8h0M170.1 150.1h0M168.3 149.6h0M174.4 151.2h0M176.2 151.6h0M175.4 150.1h0M175.6 151.2h0M173.2 150.0h0M175.2 152.6h0M175.0 153.2h0M158.4 147.4h0M157.0 149.1h0M156.7 147.8h0M159.7 145.8h0M161.6 145.5h0M163.9 148.5h0M166.8 147.0h0M166.2 148.6h0M167.2 148.9h0M165.6 145.0h0M164.1 148.4h0M171.4 146.4h0M171.9 148.4h0M171.4 146.5h0M171.3 147.9h0M170.1 145.8h0M174.1 148.7h0M174.9 148.1h0M155.8 143.4h0M156.4 140.7h0M156.2 141.3h0M156.6 142.8h0M158.5 141.1h0M158.2 143.3h0M159.4 142.0h0M156.2 143.0h0M158.5 141.7h0M163.6 144.6h0M160.3 142.4h0M161.4 144.3h0M159.5 144.8h0M163.6 143.8h0M161.0 142.8h0M163.5 142.6h0M163.9 144.3h0M166.1 141.5h0M165.7 140.7h0M165.9 142.0h0M165.6 141.5h0M167.2 144.6h0M165.6 144.9h0M167.1 143.3h0M164.5 141.3h0M167.3 142.9h0M166.0 141.4h0M166.1 143.8h0M169.8 143.8h0M168.6 141.4h0M174.3 141.4h0M176.7 142.7h0M175.6 144.9h0M174.5 144.3h0M173.5 141.2h0M174.4 144.4h0M174.3 141.9h0M158.8 137.8h0M159.4 139.3h0M156.1 138.0h0M155.6 137.8h0M157.1 137.6h0M155.6 136.8h0M158.7 140.2h0M156.1 137.3h0M162.6 137.1h0M161.7 138.7h0M159.4 136.4h0M160.4 136.7h0M161.2 137.5h0M166.1 140.3h0M167.6 140.2h0M164.5 139.4h0M165.0 136.6h0M165.4 139.6h0M166.2 140.2h0M166.6 136.6h0M168.0 140.4h0M164.3 140.0h0M165.6 137.5h0M168.5 138.8h0M171.3 138.7h0M170.6 140.3h0M171.0 138.8h0M171.1 139.3h0M170.5 139.2h0M175.4 139.8h0M176.5 137.9h0M174.7 139.2h0M172.7 140.5h0M176.6 139.4h0M179.9 157.6h0M179.1 156.6h0M184.3 156.1h0M183.4 155.1h0M182.6 156.7h0M185.6 156.0h0M186.4 154.9h0M191.3 154.0h0M192.4 157.5h0M197.0 156.1h0M177.3 152.7h0M180.0 152.9h0M184.6 149.4h0M184.3 150.4h0M181.5 150.5h0M183.7 151.5h0M182.4 149.5h0M181.5 149.4h0M186.4 150.9h0M189.6 152.7h0M190.0 150.9h0M193.4 152.2h0M192.7 149.6h0M189.9 151.1h0M191.8 151.6h0M194.0 152.5h0M195.0 152.5h0M195.9 151.1h0M196.5 150.7h0M179.8 145.3h0M178.1 148.9h0M185.4 148.5h0M182.3 147.8h0M186.9 148.8h0M186.1 148.1h0M186.7 149.2h0M189.7 147.1h0M194.2 145.2h0M180.3 143.0h0M179.7 140.9h0M183.1 140.9h0M182.0 142.7h0M189.8 143.4h0M197.6 143.0h0M196.3 144.4h0M197.8 142.0h0M198.4 140.9h0M194.5 144.2h0M184.5 136.3h0M185.1 139.7h0M188.8 136.5h0M189.3 140.5h0M186.6 137.1h0M192.7 140.2h0M192.8 139.0h0M190.6 140.3h0M192.6 139.8h0M196.7 140.4h0M195.2 136.4h0M197.9 136.4h0M198.6 155.1h0M201.2 156.3h0M203.6 154.1h0M211.5 156.7h0M217.2 156.6h0M205.9 146.4h0M210.5 146.5h0M210.0 148.7h0M219.2 147.3h0M202.5 144.4h0M205.7 141.2h0M208.6 144.6h0M212.2 144.7h0M220.0 141.4h0M211.3 136.8h0M216.9 139.9h0M223.7 156.8h0M223.3 156.8h0M237.1 157.7h0M221.8 151.8h0M237.6 152.4h0M223.3 143.1h0M224.3 141.2h0M235.9 142.6h0M220.2 137.0h0M228.1 138.3h0M232.3 140.2h0M231.8 136.4h0M233.4 137.9h0M243.4 152.2h0M252.6 149.8h0M263.2 149.9h0M259.2 149.6h0M247.3 147.7h0M254.5 146.8h0M253.6 138.2h0M258.3 138.3h0M260.0 138.1h0M267.7 155.3h0M284.9 155.2h0M276.3 150.7h0M277.6 150.8h0M282.1 151.7h0M264.6 145.2h0M268.8 148.2h0M281.7 147.5h0M276.3 140.1h0M301.1 151.5h0M291.5 145.2h0M303.8 148.3h0M299.1 144.8h0M80.2 175.5h0M80.3 176.4h0M84.8 176.1h0M81.8 177.0h0M89.2 175.5h0M75.2 172.9h0M83.5 173.6h0M85.2 172.7h0M89.6 172.4h0M88.7 174.2h0M87.7 173.9h0M77.0 169.2h0M80.4 169.2h0M81.8 166.9h0M86.3 170.7h0M90.0 167.7h0M86.8 168.1h0M68.7 162.4h0M72.1 166.3h0M68.4 164.6h0M74.6 165.8h0M75.7 164.8h0M86.5 166.3h0M83.3 159.7h0M89.2 161.5h0M85.8 160.7h0M91.2 178.4h0M92.3 179.3h0M95.1 175.9h0M95.5 178.4h0M102.2 178.6h0M102.2 177.4h0M101.8 178.8h0M102.4 175.7h0M106.7 175.9h0M105.5 179.1h0M103.4 178.9h0M106.6 175.8h0M105.8 175.4h0M105.3 175.8h0M105.6 177.2h0M109.5 177.6h0M109.7 179.1h0M110.8 179.0h0M110.9 177.6h0M91.8 174.8h0M95.9 173.3h0M96.0 173.4h0M99.8 172.5h0M99.4 172.6h0M105.3 175.3h0M106.7 174.6h0M107.2 174.9h0M107.2 174.4h0M110.1 171.1h0M108.3 172.7h0M108.3 173.2h0M90.9 170.7h0M90.3 169.3h0M93.2 168.3h0M102.8 169.7h0M98.9 170.8h0M103.1 169.3h0M105.7 167.5h0M104.4 168.3h0M107.1 168.2h0M106.8 169.0h0M108.0 168.9h0M93.7 165.7h0M93.1 166.2h0M102.9 165.9h0M100.4 165.0h0M99.1 165.3h0M99.3 162.5h0M103.4 164.9h0M105.3 166.4h0M106.1 162.9h0M98.1 160.2h0M101.7 158.3h0M101.2 158.4h0M108.0 160.5h0M109.9 161.2h0M111.4 160.0h0M111.7 160.5h0M115.0 176.7h0M115.1 177.2h0M117.3 178.0h0M119.7 177.0h0M116.2 178.5h0M120.0 177.2h0M119.2 177.0h0M116.6 175.4h0M122.0 177.2h0M123.3 176.7h0M123.2 176.5h0M120.8 177.9h0M127.2 179.1h0M124.9 176.0h0M126.8 177.3h0M128.5 177.6h0M132.1 176.5h0M132.0 175.6h0M130.1 176.9h0M132.1 177.9h0M131.2 176.6h0M111.8 174.2h0M114.3 172.6h0M119.3 175.1h0M119.5 171.3h0M119.3 172.1h0M118.8 173.3h0M120.0 171.3h0M117.8 174.0h0M118.1 174.8h0M124.0 171.4h0M123.0 172.1h0M123.4 172.2h0M122.4 174.1h0M123.8 172.4h0M128.5 174.2h0M127.2 175.3h0M128.9 171.5h0M128.9 175.0h0M133.2 172.3h0M129.7 172.2h0M132.1 171.6h0M130.0 171.8h0M133.2 172.5h0M113.4 170.2h0M114.9 170.1h0M118.6 168.5h0M119.9 168.1h0M117.9 170.5h0M123.0 169.6h0M124.0 169.4h0M124.1 169.3h0M126.1 169.0h0M130.9 168.6h0M132.1 170.3h0M133.0 166.9h0M131.7 170.2h0M129.2 168.4h0M129.3 168.1h0M132.5 170.9h0M114.3 165.2h0M114.8 165.6h0M113.5 163.6h0M115.4 163.5h0M113.6 166.3h0M113.9 164.6h0M119.4 163.3h0M119.4 164.7h0M117.1 162.6h0M117.5 164.9h0M120.8 164.5h0M122.7 165.3h0M122.7 164.8h0M121.4 165.4h0M124.1 162.8h0M123.4 165.6h0M122.0 166.2h0M127.4 166.2h0M126.8 166.6h0M126.9 165.5h0M131.9 165.4h0M131.7 164.5h0M129.6 164.1h0M132.5 164.8h0M132.5 165.3h0M113.2 158.4h0M113.1 159.8h0M115.9 159.0h0M113.5 159.6h0M114.6 159.0h0M119.9 161.0h0M117.8 161.5h0M118.7 159.8h0M118.7 158.6h0M122.8 159.4h0M123.0 162.0h0M124.5 160.4h0M124.7 158.0h0M120.9 159.1h0M123.7 162.3h0M121.4 159.9h0M126.7 158.8h0M126.7 160.9h0M126.1 159.7h0M126.3 158.6h0M126.8 160.1h0M128.8 159.9h0M129.2 162.2h0M129.1 159.7h0M131.6 161.8h0M135.0 179.2h0M137.4 175.6h0M137.1 176.1h0M136.9 179.7h0M137.5 178.0h0M134.9 178.6h0M140.8 178.8h0M141.9 175.8h0M142.0 175.7h0M138.4 176.3h0M142.7 176.7h0M144.7 177.0h0M145.9 179.4h0M143.3 175.8h0M145.7 176.5h0M142.4 179.1h0M144.6 175.5h0M150.5 179.0h0M147.8 176.7h0M147.4 175.7h0M149.1 176.1h0M150.1 177.0h0M146.5 177.9h0M152.0 179.2h0M152.6 179.6h0M154.8 175.9h0M134.0 171.6h0M137.0 174.6h0M134.8 173.6h0M136.5 172.5h0M135.7 173.3h0M135.7 171.3h0M137.1 173.1h0M137.8 173.2h0M140.0 172.7h0M141.5 171.9h0M138.9 173.9h0M141.2 173.4h0M139.2 172.6h0M139.4 172.1h0M145.5 171.6h0M146.3 172.3h0M143.0 175.2h0M144.3 172.6h0M144.6 172.7h0M145.5 174.0h0M143.7 174.0h0M144.4 172.7h0M146.7 173.7h0M147.8 171.7h0M147.5 172.7h0M146.5 172.5h0M150.6 175.1h0M146.6 171.8h0M151.8 173.6h0M153.0 173.0h0M154.8 174.6h0M153.1 172.5h0M153.9 172.0h0M152.9 173.3h0M153.6 171.8h0M151.0 172.3h0M152.4 173.8h0M135.3 170.1h0M134.0 167.1h0M134.3 169.1h0M137.3 169.4h0M136.0 169.8h0M137.7 170.5h0M134.3 169.2h0M135.3 169.7h0M141.4 169.3h0M140.3 169.9h0M138.2 168.1h0M139.6 170.3h0M139.2 167.6h0M145.5 169.0h0M143.5 170.2h0M142.4 168.3h0M143.0 169.4h0M143.2 170.3h0M143.9 169.6h0M146.4 168.7h0M148.0 167.5h0M149.3 169.7h0M149.6 167.4h0M148.3 169.0h0M148.5 170.3h0M149.6 170.6h0M152.2 168.3h0M151.1 170.8h0M152.4 167.3h0M151.8 166.9h0M154.6 168.5h0M152.5 168.8h0M151.9 169.7h0M137.4 166.2h0M134.0 166.4h0M137.7 163.3h0M137.5 164.2h0M141.4 164.2h0M139.4 165.8h0M137.9 162.6h0M139.2 165.6h0M139.0 163.4h0M144.0 163.0h0M145.8 163.1h0M142.5 166.4h0M147.9 162.9h0M147.7 165.8h0M147.4 163.2h0M149.5 165.3h0M148.0 163.9h0M149.4 162.9h0M149.2 164.4h0M151.8 165.0h0M151.9 163.8h0M134.7 161.8h0M137.7 158.6h0M134.6 158.0h0M135.7 162.0h0M137.6 160.5h0M138.1 158.7h0M142.1 160.4h0M139.0 160.9h0M138.1 159.5h0M140.4 162.0h0M140.5 160.9h0M139.5 158.2h0M140.8 161.0h0M139.9 159.4h0M141.6 160.7h0M146.0 159.4h0M148.8 158.4h0M148.1 161.6h0M150.2 161.5h0M148.4 160.7h0M148.1 158.8h0M150.0 160.6h0M149.1 158.2h0M150.3 158.2h0M152.3 160.5h0M152.5 159.2h0M153.9 159.1h0M151.7 162.0h0M153.4 162.2h0M152.3 158.3h0M151.5 158.7h0M154.1 158.5h0M151.9 160.7h0M157.6 178.1h0M162.4 177.2h0M163.0 179.6h0M162.3 177.5h0M160.2 177.4h0M160.1 176.0h0M160.5 177.7h0M160.6 179.5h0M167.4 178.4h0M165.9 179.1h0M169.0 179.2h0M170.2 178.3h0M174.4 178.8h0M174.4 178.1h0M159.3 175.0h0M158.7 174.3h0M159.2 174.0h0M163.5 173.8h0M162.4 174.0h0M159.6 174.0h0M161.4 171.2h0M161.6 174.9h0M169.9 174.3h0M169.3 173.6h0M172.2 174.2h0M168.8 172.4h0M168.9 173.9h0M173.5 175.0h0M155.6 170.0h0M157.8 168.6h0M158.5 168.1h0M162.9 166.9h0M161.1 169.5h0M160.1 169.7h0M167.7 170.2h0M164.7 169.2h0M167.8 170.6h0M164.1 169.7h0M167.2 168.7h0M170.1 168.1h0M168.4 168.8h0M171.5 170.5h0M170.1 169.1h0M173.2 167.1h0M173.8 168.7h0M155.2 164.7h0M157.5 163.3h0M158.3 164.8h0M160.2 165.6h0M162.0 164.5h0M159.5 164.2h0M161.8 163.7h0M163.0 163.1h0M166.0 162.7h0M166.3 164.3h0M167.9 163.7h0M164.0 165.2h0M168.4 166.1h0M170.4 163.7h0M172.4 164.5h0M174.9 162.4h0M172.8 165.3h0M175.3 163.0h0M175.7 165.1h0M173.2 166.6h0M155.5 162.0h0M155.9 161.3h0M158.3 160.7h0M162.9 158.5h0M163.6 162.1h0M162.7 160.3h0M160.6 162.2h0M164.0 158.6h0M167.4 159.8h0M166.6 160.9h0M166.1 162.0h0M166.9 162.2h0M165.3 161.0h0M164.0 161.0h0M165.6 160.2h0M171.2 160.3h0M170.7 160.5h0M168.9 158.9h0M170.5 158.1h0M171.8 160.3h0M171.4 159.6h0M171.1 158.4h0M175.4 160.6h0M174.9 158.6h0M175.7 159.8h0M177.7 176.8h0M177.2 175.9h0M182.0 177.1h0M188.7 179.2h0M190.7 176.4h0M194.2 176.9h0M177.0 173.8h0M182.6 173.4h0M184.8 175.2h0M178.3 169.3h0M178.0 167.4h0M178.9 169.6h0M177.1 170.0h0M183.4 168.5h0M181.7 166.7h0M185.0 168.4h0M193.2 166.9h0M192.2 166.8h0M180.9 164.5h0M180.2 165.7h0M177.5 164.4h0M181.8 162.4h0M185.4 163.3h0M182.0 166.1h0M179.5 159.5h0M181.8 161.3h0M181.5 161.7h0M189.9 161.0h0M192.0 158.3h0M192.4 159.9h0M215.8 176.1h0M200.3 166.8h0M215.4 167.6h0M217.7 170.3h0M219.9 170.4h0M200.1 163.8h0M203.4 166.2h0M209.5 164.2h0M213.6 162.9h0M215.4 165.8h0M199.6 161.7h0M202.9 159.4h0M203.4 159.4h0M222.1 176.8h0M230.2 177.7h0M240.9 176.9h0M222.8 170.6h0M232.2 167.5h0M227.3 165.7h0M221.5 158.9h0M236.7 158.4h0M236.4 158.0h0M240.4 160.3h0M244.3 178.6h0M247.2 177.3h0M247.7 177.1h0M260.6 177.6h0M243.6 175.0h0M252.6 170.4h0M259.6 168.7h0M250.2 159.7h0M261.9 160.3h0M269.9 175.4h0M268.6 164.0h0M272.3 165.2h0M272.2 166.0h0M273.2 162.5h0M278.0 164.0h0M281.3 166.0h0M263.8 161.6h0M273.2 159.3h0M275.0 158.6h0M293.3 170.1h0M299.1 170.6h0M301.0 166.4h0M287.6 159.9h0M312.7 163.8h0M72.1 197.5h0M68.9 197.8h0M69.1 198.2h0M73.6 201.0h0M83.5 200.1h0M85.6 201.2h0M81.9 201.4h0M83.0 199.6h0M85.1 197.2h0M82.2 200.3h0M89.7 198.7h0M88.5 197.2h0M86.4 198.7h0M72.0 194.5h0M74.2 194.6h0M72.8 194.2h0M74.4 194.0h0M74.3 194.4h0M74.5 194.1h0M74.2 193.1h0M83.8 193.0h0M87.1 194.2h0M90.0 195.0h0M88.8 195.0h0M71.8 189.6h0M71.9 192.6h0M74.2 190.4h0M78.6 189.9h0M84.5 191.1h0M83.3 189.1h0M83.9 191.5h0M86.9 189.4h0M88.1 191.2h0M88.4 190.0h0M85.9 190.5h0M75.5 186.2h0M76.6 187.7h0M82.7 188.2h0M85.5 185.3h0M85.6 186.6h0M82.0 185.6h0M88.4 184.6h0M88.6 184.7h0M88.1 185.2h0M72.7 182.7h0M80.5 181.2h0M85.2 181.2h0M87.3 183.4h0M89.6 180.6h0M86.6 182.5h0M91.2 197.3h0M94.3 198.6h0M93.8 197.8h0M93.9 199.5h0M92.2 197.4h0M93.6 200.9h0M92.6 201.1h0M91.8 197.7h0M91.5 197.2h0M93.0 198.3h0M92.1 201.4h0M91.5 200.0h0M98.5 200.8h0M95.6 197.2h0M97.4 199.5h0M95.6 199.3h0M95.1 199.4h0M98.6 200.1h0M96.2 200.9h0M102.7 199.5h0M102.5 201.2h0M102.9 199.8h0M100.1 197.9h0M99.4 197.2h0M106.1 200.3h0M106.2 199.8h0M104.4 197.9h0M104.5 199.2h0M107.3 198.4h0M103.8 199.6h0M110.8 199.2h0M108.0 200.7h0M109.6 200.8h0M109.1 198.1h0M110.1 200.9h0M107.6 200.8h0M111.4 199.3h0M111.2 198.6h0M93.5 195.1h0M93.9 194.0h0M90.4 194.7h0M92.9 195.7h0M94.4 193.6h0M93.2 194.3h0M92.6 195.7h0M98.4 193.0h0M99.9 196.3h0M101.2 196.6h0M103.0 197.1h0M102.0 194.2h0M101.2 193.7h0M100.7 195.4h0M103.8 194.0h0M106.5 193.7h0M104.5 196.7h0M111.5 196.9h0M109.5 197.0h0M108.6 193.2h0M108.3 196.4h0M90.5 190.9h0M94.7 192.5h0M97.6 191.4h0M101.1 191.5h0M102.1 190.2h0M99.8 192.7h0M101.8 192.4h0M99.8 189.4h0M99.0 190.1h0M99.0 191.2h0M100.2 188.8h0M99.0 188.9h0M104.3 191.9h0M107.4 190.3h0M105.7 190.0h0M110.7 192.4h0M110.3 191.9h0M91.6 185.8h0M92.7 188.2h0M92.9 184.1h0M94.0 187.7h0M91.9 184.6h0M95.3 187.4h0M101.9 184.3h0M100.2 184.2h0M100.0 184.1h0M103.9 186.5h0M103.2 184.9h0M106.7 184.1h0M103.7 187.0h0M106.1 186.8h0M110.4 185.0h0M108.4 187.5h0M111.5 187.5h0M109.9 184.6h0M109.1 188.3h0M94.0 181.4h0M94.0 182.4h0M94.2 181.4h0M97.4 182.8h0M97.9 180.1h0M101.6 179.7h0M102.2 183.9h0M100.6 182.0h0M100.6 181.1h0M103.6 183.6h0M103.8 182.7h0M103.1 180.0h0M106.9 183.5h0M111.2 182.6h0M108.6 181.9h0M115.9 201.1h0M112.4 197.4h0M113.4 197.8h0M114.0 200.0h0M112.1 199.8h0M114.7 197.4h0M116.1 200.2h0M119.5 201.0h0M117.7 197.4h0M122.8 199.7h0M122.3 199.4h0M123.5 197.6h0M122.7 198.6h0M124.9 200.9h0M128.8 197.9h0M127.0 197.4h0M126.0 199.4h0M128.7 198.6h0M127.7 199.3h0M127.5 197.1h0M131.8 197.9h0M130.9 200.6h0M130.9 201.4h0M130.1 201.2h0M131.4 198.5h0M129.8 198.3h0M114.7 194.2h0M113.5 193.5h0M115.6 196.4h0M112.5 192.8h0M112.1 196.4h0M112.7 192.8h0M113.0 193.3h0M111.9 194.1h0M118.4 194.5h0M117.5 196.6h0M116.9 194.1h0M116.6 194.1h0M119.2 195.9h0M117.2 196.7h0M119.7 194.4h0M119.4 194.1h0M117.9 193.5h0M118.2 194.2h0M116.3 197.0h0M118.8 196.2h0M116.2 195.2h0M118.7 194.3h0M119.7 194.2h0M120.4 196.5h0M120.2 193.0h0M123.9 194.6h0M124.6 195.0h0M120.7 193.0h0M124.9 194.6h0M125.1 193.5h0M129.0 194.8h0M129.0 194.2h0M127.5 196.0h0M125.0 194.2h0M133.2 192.9h0M129.9 194.7h0M129.2 193.7h0M129.6 192.8h0M130.3 195.9h0M132.1 194.9h0M132.2 195.7h0M130.2 196.8h0M129.6 193.1h0M114.6 190.1h0M111.8 188.6h0M112.0 190.1h0M112.2 192.7h0M114.5 191.4h0M119.1 189.0h0M117.7 188.8h0M116.4 190.4h0M116.5 188.6h0M118.4 189.2h0M118.9 188.8h0M116.4 188.8h0M119.0 191.8h0M123.7 189.5h0M121.8 191.6h0M120.6 191.6h0M123.6 189.4h0M124.4 191.9h0M123.9 192.7h0M121.3 188.9h0M123.5 190.9h0M121.3 189.8h0M123.7 190.2h0M125.1 190.3h0M126.4 189.8h0M127.2 190.4h0M128.1 192.7h0M128.2 188.6h0M128.5 192.5h0M127.1 189.6h0M130.4 192.2h0M132.8 191.0h0M132.7 191.7h0M130.9 189.8h0M130.8 192.3h0M131.9 189.3h0M129.8 192.4h0M131.8 190.5h0M112.1 185.6h0M112.6 187.6h0M111.9 185.1h0M114.1 184.8h0M115.9 187.3h0M115.4 185.5h0M119.1 186.9h0M117.2 186.4h0M116.4 186.7h0M116.1 185.2h0M118.3 185.0h0M117.7 186.8h0M118.7 187.9h0M121.4 187.5h0M123.4 185.3h0M123.1 187.9h0M120.6 187.1h0M124.2 185.1h0M121.7 185.1h0M125.0 186.4h0M127.3 184.9h0M126.3 187.2h0M126.2 188.2h0M131.9 186.1h0M130.9 186.0h0M131.2 186.7h0M132.9 188.2h0M132.6 185.5h0M131.2 184.8h0M132.2 186.4h0M132.4 186.0h0M114.1 181.4h0M114.8 179.8h0M114.2 182.9h0M112.5 182.2h0M114.0 183.8h0M114.0 179.7h0M115.2 183.3h0M113.2 180.9h0M116.0 183.2h0M114.8 180.5h0M116.7 180.7h0M117.6 179.8h0M119.9 182.4h0M118.0 181.2h0M117.5 180.7h0M120.3 183.6h0M118.4 183.3h0M123.4 182.2h0M122.0 179.8h0M122.0 182.3h0M121.4 183.8h0M123.7 180.3h0M122.7 180.1h0M120.6 181.7h0M127.2 181.2h0M128.5 183.5h0M127.4 180.0h0M128.8 182.1h0M129.7 180.4h0M129.5 180.1h0M129.2 182.1h0M131.9 180.1h0M136.4 200.0h0M137.4 198.7h0M136.5 199.1h0M134.0 198.7h0M137.8 201.4h0M141.0 199.3h0M141.8 199.2h0M139.4 197.8h0M145.9 201.3h0M143.7 197.4h0M143.0 198.4h0M145.8 198.3h0M144.0 200.8h0M143.1 199.0h0M146.7 199.9h0M147.0 198.3h0M153.3 201.4h0M152.7 200.0h0M135.8 193.4h0M135.9 192.8h0M135.4 196.6h0M133.8 196.6h0M136.9 193.3h0M140.2 196.5h0M140.4 195.4h0M138.6 193.8h0M142.1 193.0h0M139.3 196.5h0M138.0 195.4h0M141.7 195.4h0M142.2 193.6h0M142.5 196.3h0M143.6 194.7h0M144.3 193.7h0M142.1 196.7h0M150.3 196.9h0M148.8 196.9h0M148.8 195.0h0M150.7 196.1h0M148.0 195.5h0M154.0 196.6h0M150.9 196.1h0M152.6 194.2h0M154.0 195.8h0M151.1 193.0h0M137.0 190.8h0M134.3 189.0h0M136.9 191.9h0M136.3 190.2h0M138.1 189.2h0M137.9 189.8h0M141.1 188.4h0M140.9 192.4h0M145.4 190.2h0M145.2 190.9h0M146.0 189.4h0M142.6 188.7h0M146.0 191.6h0M146.8 192.6h0M149.5 190.3h0M147.5 191.3h0M147.5 190.3h0M149.6 191.5h0M147.8 191.1h0M149.4 190.0h0M148.1 191.8h0M154.2 191.4h0M152.4 189.7h0M152.2 191.5h0M154.8 190.0h0M153.1 192.5h0M135.6 186.3h0M133.5 184.4h0M133.7 184.2h0M134.1 187.6h0M136.4 185.6h0M133.8 188.0h0M136.0 187.8h0M135.2 186.4h0M139.2 185.0h0M140.7 185.2h0M140.8 188.0h0M140.4 185.5h0M138.2 186.2h0M144.7 185.3h0M143.0 184.7h0M145.9 186.1h0M146.3 187.3h0M145.2 185.3h0M142.4 186.3h0M143.9 187.1h0M145.9 187.9h0M149.8 186.6h0M150.3 184.5h0M150.3 184.1h0M148.0 186.6h0M147.1 185.6h0M150.7 187.8h0M154.5 188.4h0M150.9 187.5h0M152.6 186.1h0M153.1 185.3h0M137.3 180.0h0M134.6 180.0h0M134.8 182.4h0M135.5 181.9h0M134.9 180.8h0M136.5 182.9h0M134.2 182.5h0M133.7 182.8h0M135.8 184.0h0M140.1 183.6h0M141.8 180.9h0M141.8 181.0h0M142.0 182.3h0M138.5 182.5h0M141.1 180.4h0M143.9 180.9h0M143.0 181.6h0M144.3 181.0h0M143.0 180.0h0M143.2 183.4h0M150.2 181.6h0M148.5 183.8h0M149.3 180.4h0M148.2 180.2h0M147.1 183.8h0M155.1 183.8h0M151.7 180.1h0M153.1 180.7h0M164.6 201.4h0M165.4 199.1h0M166.0 198.1h0M155.3 196.3h0M163.6 195.0h0M162.7 193.5h0M162.0 195.3h0M175.4 194.5h0M158.3 190.0h0M155.8 192.2h0M158.6 188.9h0M164.8 189.7h0M176.6 190.2h0M155.5 186.9h0M155.8 186.6h0M156.8 184.2h0M157.9 187.1h0M163.1 186.7h0M160.3 188.2h0M162.3 184.9h0M162.1 188.2h0M167.6 188.2h0M167.0 184.1h0M166.3 184.8h0M173.3 184.9h0M163.0 181.5h0M160.7 182.7h0M165.4 181.8h0M169.3 181.5h0M173.7 180.2h0M182.7 200.0h0M181.6 200.0h0M182.2 196.7h0M184.3 195.1h0M197.6 195.4h0M181.2 190.2h0M192.2 188.8h0M182.8 186.6h0M182.6 185.7h0M181.6 186.5h0M188.5 184.9h0M188.0 185.2h0M179.4 182.6h0M177.6 179.9h0M180.3 183.2h0M183.9 183.7h0M201.7 198.6h0M200.2 196.2h0M214.0 195.8h0M201.3 191.6h0M211.9 192.0h0M216.8 190.7h0M202.4 185.8h0M206.1 184.7h0M206.4 188.1h0M207.3 185.7h0M205.3 182.4h0M206.4 182.2h0M215.0 180.1h0M225.6 198.7h0M241.7 198.0h0M225.9 194.6h0M223.1 189.5h0M234.3 191.4h0M240.3 186.7h0M226.7 181.1h0M226.0 181.4h0M229.7 180.8h0M228.9 181.5h0M233.1 183.6h0M232.8 183.8h0M241.7 182.5h0M245.4 200.6h0M253.5 201.3h0M244.8 195.5h0M246.4 195.8h0M262.6 196.1h0M256.2 190.2h0M258.3 190.6h0M259.3 190.0h0M243.3 179.9h0M246.8 180.7h0M253.9 181.6h0M256.1 183.1h0M269.2 199.9h0M278.5 197.5h0M277.4 198.4h0M281.6 201.4h0M284.3 198.8h0M267.6 196.9h0M268.9 194.8h0M280.0 195.0h0M269.6 188.6h0M275.8 192.3h0M270.2 181.6h0M281.1 181.7h0M290.7 196.1h0M297.3 193.3h0M293.9 188.5h0M300.6 191.2h0M299.4 189.7h0M312.1 188.8h0M69.0 219.8h0M71.7 219.0h0M70.6 219.2h0M72.6 220.4h0M76.8 221.6h0M78.1 221.8h0M78.2 219.2h0M78.3 222.4h0M79.0 221.1h0M81.1 220.9h0M84.4 222.7h0M83.0 219.4h0M81.6 221.9h0M81.9 219.6h0M81.7 223.2h0M89.4 220.0h0M87.6 221.5h0M88.8 222.7h0M86.8 221.1h0M87.5 219.2h0M71.1 218.5h0M71.5 217.3h0M69.0 216.8h0M68.7 214.9h0M72.1 218.6h0M72.2 216.4h0M69.2 216.2h0M80.7 214.6h0M79.0 214.6h0M84.1 216.5h0M84.6 216.2h0M84.6 216.9h0M87.5 217.8h0M89.9 216.6h0M70.0 214.5h0M73.3 213.3h0M79.8 214.3h0M82.8 212.7h0M88.7 213.8h0M89.1 211.8h0M89.1 214.3h0M88.5 210.3h0M70.3 210.0h0M72.1 208.0h0M77.3 206.1h0M83.4 208.5h0M87.0 207.5h0M89.8 210.0h0M90.0 206.7h0M87.4 206.0h0M70.3 202.7h0M84.1 203.4h0M85.9 204.8h0M85.9 204.3h0M88.0 202.1h0M94.1 223.0h0M91.1 221.8h0M92.9 219.7h0M93.5 221.9h0M90.5 221.3h0M91.0 222.9h0M94.8 221.6h0M98.5 222.9h0M94.8 222.6h0M98.3 219.8h0M99.7 222.7h0M101.1 219.4h0M101.3 219.1h0M103.1 219.1h0M100.9 220.1h0M100.3 222.3h0M102.6 220.0h0M102.2 220.4h0M107.2 221.6h0M103.7 221.9h0M104.0 220.2h0M105.7 220.1h0M106.1 222.0h0M107.4 220.4h0M104.5 223.2h0M110.7 222.3h0M108.3 222.9h0M108.4 221.9h0M110.3 221.9h0M111.6 222.4h0M92.4 217.6h0M93.8 214.9h0M94.3 218.2h0M90.3 218.8h0M90.9 215.5h0M94.1 216.5h0M91.3 215.5h0M90.3 217.0h0M94.7 217.7h0M95.5 214.7h0M97.4 217.7h0M94.6 214.6h0M98.1 216.0h0M97.7 216.1h0M96.4 217.2h0M97.3 214.7h0M102.7 215.0h0M101.5 217.1h0M98.8 215.1h0M102.5 215.1h0M102.6 215.8h0M103.0 217.1h0M100.5 215.5h0M102.9 217.6h0M101.0 217.8h0M103.6 218.3h0M106.3 215.5h0M106.0 218.0h0M105.8 214.8h0M104.2 217.3h0M104.6 216.8h0M106.7 218.5h0M106.1 217.3h0M106.9 218.5h0M105.6 216.2h0M104.0 217.6h0M107.2 214.6h0M107.3 216.6h0M107.2 217.1h0M110.6 216.1h0M108.6 217.7h0M111.3 214.8h0M111.4 214.8h0M111.4 217.2h0M111.4 218.1h0M109.8 218.4h0M91.3 210.8h0M92.5 212.6h0M94.3 213.6h0M92.7 213.4h0M98.2 213.7h0M98.4 210.3h0M96.2 213.6h0M95.2 213.9h0M98.6 211.8h0M98.7 213.3h0M98.4 212.4h0M99.8 213.0h0M101.3 214.2h0M101.4 211.4h0M102.8 211.7h0M101.1 214.4h0M100.1 214.2h0M106.6 213.8h0M106.2 211.9h0M104.1 212.5h0M105.0 212.8h0M107.4 212.4h0M105.8 213.8h0M103.8 212.2h0M104.6 214.2h0M104.7 212.7h0M103.7 213.3h0M105.1 212.8h0M111.7 211.6h0M111.3 211.9h0M108.9 213.7h0M108.5 210.2h0M111.4 214.3h0M111.4 210.3h0M111.7 212.4h0M109.8 212.6h0M94.0 207.8h0M92.0 206.9h0M91.0 205.9h0M91.7 208.4h0M94.0 206.7h0M94.3 207.4h0M91.5 208.9h0M95.9 210.0h0M98.4 205.8h0M94.8 208.1h0M98.5 208.6h0M97.8 207.0h0M100.6 209.0h0M98.9 206.8h0M102.6 206.3h0M102.4 207.1h0M98.9 207.4h0M100.2 209.4h0M99.6 208.0h0M102.8 205.9h0M107.3 208.8h0M105.0 208.5h0M105.1 206.2h0M107.0 206.4h0M107.3 208.9h0M104.4 206.8h0M104.0 208.4h0M104.3 206.2h0M106.1 209.9h0M108.0 209.4h0M109.0 207.9h0M111.3 208.6h0M109.0 209.9h0M107.6 206.4h0M107.6 206.5h0M110.3 209.0h0M108.8 209.7h0M110.6 209.8h0M108.8 206.9h0M91.5 204.6h0M91.1 205.6h0M91.7 205.5h0M90.8 201.7h0M91.3 203.4h0M91.3 204.1h0M92.9 203.2h0M93.2 205.5h0M91.5 203.1h0M91.7 203.4h0M98.4 204.2h0M96.5 202.2h0M101.8 204.1h0M101.1 201.5h0M102.6 204.3h0M98.9 203.3h0M102.3 201.9h0M100.5 204.9h0M104.8 204.4h0M106.8 204.5h0M105.2 203.0h0M106.1 203.8h0M108.8 204.8h0M107.4 203.1h0M109.0 205.1h0M109.5 202.4h0M108.2 202.3h0M110.0 203.5h0M110.3 203.5h0M112.0 219.8h0M112.6 219.6h0M113.2 220.0h0M113.9 220.5h0M112.4 222.3h0M116.6 222.8h0M119.1 222.0h0M120.4 222.4h0M116.2 222.3h0M119.0 219.9h0M120.2 221.1h0M124.3 221.3h0M126.0 221.7h0M128.7 219.4h0M125.1 220.7h0M127.0 221.7h0M131.3 221.2h0M131.3 221.6h0M129.6 221.1h0M132.2 222.8h0M130.3 219.7h0M115.5 214.7h0M113.5 215.5h0M111.8 216.3h0M113.5 215.4h0M112.4 217.8h0M112.7 216.5h0M112.5 217.5h0M119.3 215.6h0M117.1 217.0h0M118.4 218.6h0M119.3 217.6h0M123.2 214.9h0M122.5 214.7h0M122.8 218.0h0M122.3 217.3h0M123.8 216.7h0M124.4 215.8h0M124.5 216.0h0M123.4 217.2h0M124.5 216.1h0M128.1 218.3h0M126.2 218.5h0M126.1 216.0h0M125.3 216.4h0M131.3 217.4h0M129.1 217.9h0M131.8 217.5h0M129.4 214.7h0M132.7 218.0h0M115.6 212.3h0M113.4 212.6h0M112.5 213.9h0M118.1 213.1h0M119.8 211.4h0M120.3 212.7h0M119.8 212.7h0M118.0 212.5h0M118.9 211.1h0M122.8 213.3h0M124.1 213.8h0M124.4 213.1h0M128.0 213.2h0M128.1 212.0h0M126.3 214.5h0M130.1 212.9h0M132.5 210.7h0M131.4 211.4h0M131.1 214.3h0M130.9 212.3h0M131.0 210.8h0M113.6 210.1h0M114.6 206.2h0M114.5 206.4h0M115.3 207.4h0M114.6 208.7h0M114.6 206.9h0M115.6 208.1h0M111.9 209.9h0M116.2 206.5h0M120.2 210.0h0M116.7 209.5h0M119.3 210.1h0M123.7 208.0h0M121.2 206.5h0M124.4 207.5h0M125.8 208.7h0M127.1 207.6h0M126.6 208.7h0M126.5 208.4h0M133.2 209.2h0M132.2 207.7h0M113.9 205.7h0M114.6 204.1h0M115.0 201.5h0M114.8 204.8h0M118.1 202.2h0M119.2 205.5h0M120.7 202.5h0M123.9 202.8h0M123.3 203.0h0M120.8 201.5h0M122.5 202.2h0M128.4 202.6h0M127.5 202.9h0M128.5 203.0h0M130.1 202.1h0M130.3 202.7h0M129.8 204.9h0M130.4 205.0h0M137.0 219.1h0M134.6 219.9h0M139.3 221.3h0M140.8 222.4h0M145.7 220.3h0M146.5 221.1h0M147.5 219.2h0M147.1 220.0h0M150.7 222.8h0M148.1 220.7h0M150.7 220.2h0M154.6 222.8h0M134.8 217.7h0M135.7 217.4h0M134.1 215.2h0M137.5 215.5h0M138.7 217.4h0M138.7 218.6h0M141.9 214.6h0M140.1 216.4h0M143.9 215.9h0M146.2 218.4h0M146.1 214.9h0M142.4 217.2h0M151.1 218.7h0M151.9 216.2h0M154.1 215.5h0M154.7 217.7h0M137.1 211.3h0M136.7 211.6h0M136.8 211.2h0M138.5 210.7h0M138.6 210.2h0M143.3 212.2h0M145.2 211.8h0M147.6 213.0h0M149.5 213.8h0M147.7 211.7h0M152.2 210.6h0M155.1 211.6h0M137.1 209.0h0M136.1 209.3h0M136.9 208.2h0M137.0 208.8h0M136.8 209.1h0M141.3 208.1h0M142.0 208.2h0M141.7 206.9h0M140.1 209.8h0M143.3 206.3h0M142.8 210.0h0M144.2 208.3h0M149.8 206.9h0M152.1 209.8h0M137.2 202.6h0M137.4 205.5h0M136.9 203.4h0M141.0 205.3h0M138.6 202.7h0M138.0 202.4h0M144.7 203.4h0M142.9 204.8h0M146.0 204.0h0M150.6 203.1h0M153.7 203.2h0M155.1 221.8h0M161.7 222.2h0M167.4 221.8h0M172.2 220.9h0M169.0 222.2h0M175.0 222.6h0M155.3 215.1h0M161.1 214.5h0M167.1 215.3h0M167.6 216.2h0M173.3 215.5h0M159.0 211.1h0M156.2 210.4h0M163.7 213.7h0M164.4 210.5h0M172.7 213.9h0M163.4 207.9h0M163.3 208.0h0M161.1 207.1h0M164.8 209.9h0M168.4 208.4h0M170.4 207.7h0M171.3 207.7h0M174.5 207.1h0M173.4 207.6h0M159.4 203.0h0M163.3 203.5h0M164.5 202.0h0M164.1 204.5h0M167.6 204.7h0M184.6 222.7h0M191.3 219.3h0M197.3 221.0h0M196.7 219.2h0M176.9 217.0h0M182.7 218.0h0M184.9 215.4h0M182.6 218.1h0M192.3 218.4h0M195.2 216.0h0M183.9 212.9h0M188.7 213.8h0M189.3 211.6h0M193.2 213.0h0M179.6 207.1h0M177.5 209.1h0M181.3 208.2h0M189.8 207.4h0M184.5 203.8h0M186.4 203.9h0M193.4 203.4h0M195.9 205.8h0M201.6 223.2h0M203.4 219.0h0M206.0 218.9h0M203.6 222.6h0M209.4 222.8h0M212.2 222.8h0M219.6 221.2h0M206.4 218.8h0M219.5 211.7h0M218.6 210.7h0M204.0 209.9h0M198.6 202.4h0M206.4 204.8h0M220.4 216.2h0M226.0 215.1h0M231.5 218.7h0M233.0 214.9h0M229.0 218.3h0M221.5 212.4h0M229.6 212.1h0M233.7 213.5h0M240.8 211.6h0M239.2 212.6h0M222.1 208.2h0M231.9 209.8h0M235.8 207.2h0M225.0 205.1h0M226.8 201.5h0M232.5 203.2h0M248.0 222.0h0M251.4 220.8h0M255.2 220.7h0M262.0 216.9h0M243.6 206.6h0M243.2 207.0h0M260.7 208.1h0M247.2 202.3h0M278.3 222.5h0M281.0 221.5h0M276.5 216.9h0M279.3 216.5h0M282.1 215.4h0M269.9 213.2h0M267.2 208.3h0M272.8 207.4h0M273.1 209.9h0M282.3 207.3h0M266.2 202.3h0M265.4 205.5h0M271.4 204.9h0M275.5 202.7h0M279.1 205.2h0M277.2 204.4h0M298.5 219.4h0M288.8 209.1h0M298.4 208.6h0M71.8 244.5h0M70.5 243.0h0M70.6 241.9h0M76.3 244.9h0M74.7 241.2h0M73.2 241.8h0M74.4 243.7h0M73.1 244.8h0M76.8 244.1h0M73.0 243.0h0M75.9 242.6h0M73.3 241.9h0M77.0 241.2h0M77.8 243.0h0M78.3 243.9h0M79.6 243.1h0M84.9 243.9h0M84.8 241.8h0M85.6 242.7h0M85.3 243.9h0M82.3 243.0h0M89.8 242.4h0M88.1 244.9h0M88.2 244.0h0M69.6 236.3h0M70.8 238.4h0M71.3 239.3h0M72.3 237.3h0M70.5 237.7h0M73.8 237.5h0M75.8 239.2h0M79.4 240.5h0M78.0 238.4h0M82.3 238.0h0M83.2 236.9h0M84.9 240.0h0M85.4 237.0h0M84.0 240.4h0M83.6 239.3h0M87.4 237.4h0M87.0 240.6h0M89.0 237.5h0M85.8 239.1h0M71.1 235.1h0M69.1 235.1h0M69.4 234.6h0M71.9 234.6h0M76.1 234.5h0M75.2 233.6h0M76.3 233.7h0M73.1 235.0h0M75.6 235.0h0M73.6 235.9h0M74.6 232.7h0M77.8 235.0h0M79.8 235.8h0M80.5 232.9h0M80.1 233.8h0M83.2 233.9h0M83.8 232.6h0M85.0 234.0h0M90.0 235.8h0M89.6 234.8h0M89.3 232.4h0M88.0 234.3h0M88.4 235.5h0M86.6 234.3h0M89.2 233.0h0M89.9 234.4h0M69.5 231.7h0M74.6 229.7h0M75.6 231.6h0M73.8 230.2h0M78.6 229.8h0M77.6 231.3h0M78.6 228.9h0M82.5 229.6h0M83.0 230.0h0M84.8 229.9h0M87.1 230.3h0M87.8 229.3h0M88.8 229.9h0M89.1 230.0h0M90.0 231.9h0M89.9 231.6h0M71.0 226.2h0M72.1 225.1h0M73.5 225.4h0M74.5 225.7h0M75.6 223.2h0M80.2 226.2h0M82.9 224.6h0M84.0 225.9h0M85.0 223.3h0M82.8 226.5h0M88.9 225.3h0M86.9 224.4h0M88.1 226.9h0M89.5 226.3h0M87.5 224.7h0M90.9 244.0h0M92.6 242.5h0M91.1 243.5h0M91.6 244.5h0M92.4 244.0h0M92.6 243.8h0M91.7 242.3h0M97.9 243.4h0M98.3 241.6h0M96.3 244.0h0M96.2 243.6h0M98.0 243.0h0M98.6 244.5h0M98.0 241.0h0M96.3 243.0h0M95.5 240.8h0M98.0 241.7h0M102.4 244.7h0M102.9 244.6h0M102.4 243.0h0M99.1 244.6h0M102.8 243.0h0M105.7 243.6h0M106.1 241.8h0M104.4 241.0h0M103.8 244.4h0M104.4 242.1h0M104.9 244.1h0M105.5 241.1h0M105.3 244.5h0M106.7 243.3h0M111.5 243.3h0M111.4 242.8h0M108.2 244.6h0M107.4 243.2h0M110.9 244.7h0M108.2 244.4h0M108.4 242.2h0M90.4 237.6h0M94.6 240.0h0M98.5 236.8h0M94.8 237.1h0M97.9 236.8h0M96.6 237.3h0M95.3 237.3h0M95.3 240.1h0M100.0 239.4h0M100.5 239.5h0M99.4 237.4h0M102.3 238.8h0M101.9 239.7h0M100.8 238.7h0M99.4 239.4h0M106.3 237.4h0M103.6 238.1h0M106.7 240.0h0M103.5 238.2h0M105.4 239.0h0M103.7 240.1h0M107.3 237.2h0M104.9 240.1h0M108.5 240.1h0M92.1 236.2h0M92.3 234.3h0M90.6 233.0h0M93.2 234.1h0M92.4 234.3h0M91.0 232.5h0M97.7 234.6h0M96.2 234.5h0M96.1 233.0h0M97.5 235.7h0M95.0 232.6h0M98.4 232.0h0M97.4 235.0h0M98.0 232.6h0M95.1 234.7h0M97.9 233.7h0M98.6 231.9h0M98.5 235.3h0M102.6 233.3h0M100.5 235.8h0M101.9 236.0h0M101.6 236.0h0M106.0 233.3h0M104.2 234.6h0M103.8 233.6h0M105.5 232.4h0M106.3 235.5h0M103.3 233.6h0M104.8 235.2h0M109.3 232.0h0M109.5 235.1h0M108.1 236.1h0M110.7 233.0h0M111.5 234.8h0M94.2 229.1h0M94.3 231.3h0M93.4 229.5h0M93.7 229.2h0M92.6 228.5h0M90.2 229.3h0M90.8 230.4h0M93.9 229.4h0M93.8 230.5h0M98.6 230.7h0M98.4 230.3h0M95.8 231.7h0M98.4 229.0h0M97.5 230.0h0M96.2 227.9h0M97.4 229.5h0M96.2 230.1h0M95.4 230.5h0M96.6 229.2h0M100.7 228.7h0M100.4 231.5h0M99.3 231.0h0M102.6 230.1h0M100.8 227.7h0M102.0 228.7h0M102.8 229.9h0M100.7 231.4h0M101.4 230.1h0M104.3 229.7h0M103.3 228.3h0M103.8 227.9h0M103.5 228.0h0M106.8 228.7h0M105.8 230.1h0M103.1 228.7h0M106.3 229.6h0M105.8 228.5h0M106.9 231.5h0M107.0 229.4h0M104.1 231.4h0M103.7 230.5h0M106.0 231.5h0M105.6 228.1h0M105.8 229.1h0M105.3 231.6h0M103.7 230.7h0M104.1 229.8h0M107.9 228.9h0M107.8 231.7h0M107.8 230.4h0M109.3 230.5h0M108.8 229.7h0M109.2 228.1h0M109.8 229.3h0M111.5 231.2h0M111.7 229.8h0M94.3 224.0h0M92.4 224.0h0M90.9 224.2h0M91.2 227.5h0M93.4 224.7h0M91.8 225.4h0M91.3 225.8h0M94.4 227.0h0M97.3 223.4h0M98.4 226.1h0M94.9 225.1h0M95.8 223.3h0M99.0 226.0h0M99.6 226.3h0M102.8 225.2h0M101.3 225.7h0M102.1 225.1h0M107.0 226.1h0M104.4 226.4h0M104.9 227.1h0M106.8 223.5h0M104.1 226.3h0M104.7 226.2h0M104.3 227.5h0M111.5 223.6h0M111.3 225.5h0M111.6 227.0h0M111.2 223.5h0M120.2 243.2h0M119.7 242.7h0M119.8 244.9h0M116.4 243.1h0M121.7 243.6h0M128.6 241.5h0M132.1 242.1h0M112.2 237.8h0M116.0 236.5h0M116.0 240.1h0M115.8 236.6h0M119.3 236.7h0M120.2 238.6h0M116.1 239.9h0M120.7 238.1h0M123.8 238.3h0M121.9 237.9h0M121.0 238.4h0M125.4 238.1h0M132.7 240.0h0M129.3 238.3h0M131.2 239.3h0M131.4 236.3h0M113.0 232.9h0M112.6 232.0h0M118.4 233.6h0M117.9 232.3h0M118.0 232.1h0M119.0 233.3h0M119.2 235.5h0M123.6 234.0h0M123.9 236.0h0M128.5 232.8h0M131.6 234.8h0M112.2 231.2h0M115.7 227.9h0M115.4 227.7h0M116.3 228.7h0M118.0 230.3h0M117.5 230.2h0M124.2 229.8h0M120.5 229.8h0M123.0 228.6h0M123.6 230.6h0M124.1 230.1h0M126.9 228.1h0M113.7 226.7h0M113.2 224.5h0M114.3 223.6h0M113.2 225.0h0M115.6 224.5h0M115.0 224.0h0M114.3 224.8h0M118.2 225.6h0M119.0 226.1h0M124.3 224.2h0M122.6 225.3h0M124.0 225.1h0M122.5 226.7h0M125.6 226.9h0M127.5 225.9h0M133.0 223.6h0M132.2 223.4h0M130.3 223.9h0M130.8 223.4h0M136.2 243.9h0M135.9 240.8h0M135.8 242.3h0M134.9 244.1h0M141.9 244.2h0M140.1 241.3h0M144.4 243.7h0M149.2 243.7h0M150.0 244.1h0M146.4 242.0h0M154.2 242.0h0M151.1 242.5h0M136.0 240.0h0M134.8 237.4h0M138.1 238.7h0M145.1 239.8h0M146.7 239.7h0M155.1 238.4h0M155.0 240.1h0M133.5 232.7h0M136.6 233.5h0M139.0 235.0h0M140.7 233.7h0M140.4 233.7h0M144.5 232.8h0M149.6 232.5h0M147.4 232.2h0M149.5 234.4h0M150.4 235.4h0M152.2 233.1h0M154.2 231.9h0M135.9 229.2h0M140.4 230.3h0M139.6 229.3h0M138.7 228.8h0M140.5 231.6h0M145.2 231.6h0M147.9 231.5h0M146.5 228.8h0M152.7 228.3h0M153.4 228.2h0M137.7 227.3h0M136.9 226.8h0M136.0 225.3h0M150.1 224.6h0M159.1 244.2h0M162.2 241.9h0M166.4 242.8h0M164.4 242.8h0M163.9 243.6h0M163.9 242.8h0M167.4 243.5h0M167.7 241.7h0M166.0 243.1h0M169.1 242.8h0M171.4 240.7h0M170.7 242.1h0M173.8 244.5h0M159.7 236.8h0M170.3 239.5h0M169.6 237.4h0M168.8 236.7h0M158.4 232.2h0M158.3 234.7h0M162.1 233.7h0M159.7 233.9h0M166.1 234.7h0M171.9 235.9h0M169.8 234.3h0M173.1 235.1h0M176.4 232.4h0M175.0 232.9h0M159.4 231.7h0M162.0 230.2h0M161.6 229.0h0M166.8 229.8h0M166.7 228.5h0M164.4 228.1h0M167.0 231.2h0M173.7 228.7h0M175.7 229.0h0M158.3 224.2h0M156.6 224.5h0M156.9 224.5h0M162.0 224.8h0M164.2 227.0h0M170.7 223.7h0M176.8 242.0h0M180.6 244.9h0M178.0 241.5h0M186.3 242.6h0M187.6 242.3h0M191.0 242.5h0M192.4 244.1h0M179.3 240.1h0M179.8 240.1h0M178.0 240.0h0M180.0 239.6h0M184.9 237.0h0M188.1 239.9h0M189.5 239.6h0M177.8 236.0h0M179.0 235.7h0M181.1 234.3h0M180.6 233.7h0M177.7 234.8h0M183.1 233.3h0M185.4 235.8h0M187.3 236.0h0M195.8 235.5h0M180.9 231.3h0M180.7 229.6h0M189.3 227.9h0M189.3 228.9h0M192.6 227.9h0M188.3 225.9h0M186.9 224.8h0M185.7 227.1h0M189.2 225.2h0M193.6 226.4h0M192.7 227.2h0M191.8 224.8h0M195.6 223.5h0M200.0 242.2h0M204.8 240.8h0M211.2 244.3h0M210.7 244.8h0M212.2 243.6h0M199.6 237.9h0M203.6 239.6h0M202.7 234.1h0M200.9 233.0h0M204.3 232.7h0M202.2 231.1h0M200.8 230.6h0M200.7 229.6h0M211.4 231.5h0M216.3 230.8h0M219.7 230.6h0M217.0 228.0h0M217.6 225.5h0M231.1 240.8h0M239.8 241.8h0M224.4 236.4h0M222.2 236.7h0M237.0 236.7h0M227.7 233.5h0M225.1 233.9h0M237.3 232.7h0M226.4 229.5h0M227.4 231.3h0M232.4 230.2h0M220.4 226.3h0M230.2 223.8h0M232.2 224.0h0M231.1 224.5h0M239.7 226.9h0M254.0 243.3h0M242.1 235.9h0M249.8 233.8h0M249.3 233.7h0M252.5 233.1h0M258.3 232.2h0M248.1 229.1h0M258.9 228.3h0M243.3 225.3h0M259.4 223.3h0M270.4 244.3h0M277.7 243.5h0M279.2 238.1h0M271.6 235.1h0M269.7 234.2h0M273.8 235.6h0M282.1 235.3h0M279.7 231.0h0M267.3 225.0h0M269.0 224.0h0M290.8 225.3h0M71.6 266.0h0M70.0 264.1h0M69.5 266.5h0M70.6 264.2h0M70.9 265.7h0M72.0 265.0h0M71.9 263.7h0M69.5 265.5h0M75.7 262.5h0M74.5 266.1h0M76.1 265.9h0M76.1 265.7h0M73.3 263.1h0M73.4 263.1h0M75.9 265.1h0M75.8 265.1h0M74.0 262.9h0M75.6 264.8h0M75.4 265.0h0M75.2 265.0h0M79.0 262.7h0M79.0 265.5h0M78.7 262.7h0M78.2 265.7h0M78.4 265.5h0M78.2 263.6h0M79.4 263.4h0M82.4 266.1h0M81.6 266.5h0M83.9 264.1h0M85.1 264.5h0M81.7 264.8h0M83.6 265.6h0M81.6 265.8h0M85.2 266.5h0M83.8 266.7h0M85.3 262.6h0M82.5 263.5h0M82.7 262.4h0M85.2 262.7h0M87.1 264.8h0M89.0 264.6h0M88.0 262.7h0M88.5 265.6h0M88.3 265.4h0M88.0 266.7h0M86.3 266.6h0M89.4 262.9h0M90.0 262.8h0M72.3 258.3h0M70.4 258.4h0M68.4 262.1h0M71.3 260.1h0M69.7 259.2h0M71.2 259.8h0M71.9 260.2h0M72.0 260.8h0M70.9 262.3h0M72.3 259.5h0M68.4 259.4h0M70.8 260.5h0M70.6 262.1h0M73.5 259.5h0M74.9 258.7h0M73.3 260.9h0M75.9 260.7h0M76.4 259.7h0M73.7 259.8h0M77.0 260.3h0M73.3 261.1h0M75.7 260.7h0M73.4 261.3h0M79.4 258.1h0M79.0 258.3h0M77.5 259.5h0M77.5 261.0h0M77.4 259.0h0M77.5 260.5h0M78.9 262.0h0M80.2 258.6h0M83.2 261.6h0M82.0 258.2h0M85.5 261.5h0M81.4 261.2h0M83.6 261.5h0M81.9 259.2h0M81.8 259.7h0M82.2 259.0h0M85.6 261.6h0M84.3 261.8h0M82.8 261.9h0M87.0 261.0h0M87.4 260.2h0M87.4 261.7h0M87.3 260.8h0M69.6 257.2h0M68.5 254.0h0M72.3 257.8h0M72.4 257.1h0M69.1 254.9h0M69.8 257.9h0M69.9 257.3h0M76.2 256.7h0M76.1 254.9h0M77.0 257.0h0M74.0 254.9h0M73.4 257.9h0M75.3 256.9h0M75.7 257.1h0M76.9 254.0h0M76.1 257.0h0M75.7 256.5h0M75.3 257.6h0M73.2 254.1h0M72.9 255.6h0M81.1 256.0h0M78.7 255.7h0M77.8 257.8h0M78.1 255.4h0M80.0 254.2h0M79.6 253.9h0M81.2 257.3h0M79.0 255.9h0M81.2 255.8h0M85.6 254.2h0M84.0 256.5h0M82.4 257.3h0M83.2 256.1h0M84.5 257.3h0M83.3 254.7h0M85.2 255.4h0M82.5 256.9h0M82.8 257.1h0M87.4 255.7h0M88.6 255.7h0M89.9 254.7h0M87.8 257.7h0M86.7 254.3h0M89.3 254.0h0M89.9 254.5h0M87.1 254.8h0M71.2 252.3h0M71.4 251.3h0M70.2 253.5h0M71.4 250.6h0M71.9 252.7h0M72.0 252.9h0M70.1 252.1h0M69.4 251.4h0M71.1 250.4h0M72.1 251.3h0M70.3 249.4h0M76.0 251.5h0M76.7 253.6h0M76.9 249.9h0M73.8 252.7h0M76.5 249.5h0M73.7 252.6h0M80.0 252.6h0M78.6 252.2h0M77.5 252.3h0M78.0 252.6h0M80.1 250.9h0M80.3 249.3h0M83.9 249.8h0M82.0 250.8h0M82.8 253.1h0M84.0 251.8h0M85.7 250.4h0M82.8 250.2h0M84.2 249.5h0M83.2 252.9h0M83.7 250.7h0M84.0 252.0h0M88.9 252.9h0M89.2 251.7h0M89.2 251.4h0M88.6 252.0h0M88.1 251.3h0M86.0 251.4h0M88.3 252.4h0M90.1 252.9h0M68.7 247.9h0M70.3 245.3h0M69.0 249.1h0M68.7 247.7h0M69.0 249.0h0M69.7 248.4h0M72.7 246.2h0M69.0 247.4h0M69.9 245.6h0M73.9 246.3h0M74.4 248.8h0M74.8 247.9h0M78.5 245.4h0M78.7 246.5h0M80.4 249.0h0M77.2 247.8h0M79.2 247.0h0M79.0 248.0h0M79.0 246.2h0M78.7 248.0h0M78.3 248.0h0M78.7 249.0h0M84.2 246.2h0M85.0 245.5h0M84.8 249.1h0M83.2 246.6h0M84.3 247.2h0M83.0 246.2h0M81.8 248.2h0M84.3 245.6h0M84.6 246.9h0M88.1 246.5h0M86.6 247.5h0M88.1 248.5h0M87.6 247.7h0M88.0 249.2h0M87.7 246.8h0M89.4 247.2h0M92.4 266.7h0M92.8 265.5h0M93.1 262.5h0M94.3 262.9h0M96.5 264.2h0M95.5 264.3h0M95.2 263.6h0M96.3 262.9h0M98.1 266.4h0M97.9 266.4h0M98.1 263.8h0M99.1 266.3h0M99.9 263.0h0M99.5 263.8h0M100.8 263.8h0M99.2 265.7h0M100.6 264.7h0M103.8 266.0h0M103.8 264.0h0M104.1 265.7h0M107.4 265.8h0M106.9 265.3h0M107.4 265.4h0M103.6 266.6h0M103.6 266.2h0M107.7 265.4h0M110.5 262.7h0M111.3 265.2h0M107.9 264.8h0M93.2 258.1h0M94.1 259.3h0M91.1 258.7h0M90.8 260.2h0M91.7 259.6h0M93.5 260.2h0M97.8 261.5h0M96.8 260.5h0M95.4 259.9h0M98.5 259.5h0M102.0 260.5h0M99.3 259.3h0M98.9 259.3h0M99.9 258.4h0M99.2 259.1h0M101.6 260.4h0M101.7 261.9h0M105.2 258.7h0M106.0 258.5h0M108.4 259.0h0M111.1 260.5h0M107.8 258.2h0M109.1 260.1h0M110.8 261.7h0M107.5 261.7h0M107.9 259.1h0M111.6 260.2h0M92.2 257.9h0M93.4 254.1h0M93.9 254.3h0M94.2 257.1h0M90.4 257.7h0M94.1 257.8h0M92.1 257.6h0M92.9 254.6h0M93.2 257.7h0M93.7 257.8h0M93.2 254.1h0M95.2 257.8h0M98.4 256.8h0M97.3 256.4h0M98.6 255.5h0M98.6 257.9h0M94.8 255.8h0M97.1 257.5h0M97.4 256.4h0M102.7 255.1h0M100.6 254.9h0M100.1 254.6h0M101.7 254.9h0M100.8 257.9h0M107.2 254.6h0M103.5 256.1h0M104.3 255.5h0M104.5 257.5h0M104.4 254.5h0M103.3 254.1h0M105.5 256.3h0M103.5 257.0h0M110.4 253.7h0M111.3 253.7h0M107.7 254.1h0M108.6 255.5h0M107.6 257.7h0M108.1 254.4h0M110.7 256.8h0M109.1 256.5h0M109.7 255.2h0M92.5 251.1h0M90.5 249.5h0M91.1 252.1h0M92.2 249.8h0M90.9 253.0h0M92.7 253.1h0M93.6 252.7h0M96.5 251.2h0M97.7 251.5h0M95.1 251.3h0M96.3 249.6h0M97.6 249.8h0M95.6 250.0h0M97.3 252.5h0M97.5 251.0h0M96.1 250.0h0M98.5 251.9h0M95.4 252.1h0M97.6 252.4h0M96.8 253.4h0M101.0 249.9h0M99.6 249.7h0M106.9 250.1h0M103.7 252.8h0M106.0 249.9h0M107.1 249.9h0M105.4 251.1h0M106.0 252.5h0M109.5 252.7h0M111.4 250.4h0M107.8 253.0h0M107.5 251.2h0M108.2 251.4h0M109.0 251.9h0M93.5 248.1h0M91.0 245.5h0M90.8 245.9h0M96.0 246.2h0M96.9 245.7h0M97.8 246.0h0M97.1 246.1h0M95.7 249.1h0M96.1 248.9h0M96.7 245.7h0M97.0 247.2h0M98.4 248.4h0M101.3 247.8h0M100.4 245.2h0M101.2 247.4h0M102.2 248.4h0M103.9 249.2h0M106.7 246.0h0M106.7 247.5h0M104.4 249.0h0M107.3 245.5h0M106.1 246.6h0M110.0 245.5h0M109.2 246.0h0M111.3 247.6h0M108.2 246.6h0M108.0 246.0h0M111.2 246.4h0M109.6 246.4h0M111.8 266.0h0M115.5 264.8h0M120.2 263.6h0M125.3 265.6h0M132.3 263.2h0M133.1 265.3h0M131.8 265.4h0M132.1 264.7h0M112.8 261.0h0M112.0 260.5h0M115.5 259.3h0M112.1 261.2h0M115.0 261.7h0M114.3 259.4h0M113.6 259.2h0M117.4 259.7h0M118.8 261.7h0M117.5 259.0h0M124.1 261.4h0M124.2 258.9h0M122.0 259.3h0M130.5 259.1h0M131.8 260.8h0M131.0 258.0h0M112.4 254.5h0M112.1 256.9h0M112.3 257.4h0M112.3 254.2h0M117.5 254.5h0M120.0 257.3h0M117.1 254.3h0M121.6 255.0h0M125.8 254.5h0M129.1 257.7h0M125.6 256.8h0M131.1 254.6h0M132.4 255.4h0M131.9 256.4h0M112.1 253.5h0M112.0 250.5h0M118.8 252.0h0M119.5 251.5h0M123.7 249.4h0M120.5 250.7h0M123.2 250.8h0M128.1 251.6h0M125.9 249.3h0M131.7 252.7h0M129.9 252.9h0M114.3 246.2h0M115.9 246.9h0M118.9 246.9h0M119.8 248.5h0M118.4 245.9h0M118.7 246.6h0M123.9 247.8h0M120.5 247.7h0M120.6 248.2h0M128.4 247.4h0M129.0 245.8h0M128.6 245.9h0M126.2 248.0h0M125.3 248.6h0M132.8 246.7h0M132.1 245.8h0M133.8 262.7h0M140.2 265.4h0M141.1 264.9h0M141.7 264.2h0M140.9 263.5h0M137.9 266.6h0M144.4 266.2h0M143.6 263.5h0M145.0 265.5h0M148.8 263.4h0M146.5 265.8h0M151.1 266.0h0M133.6 259.8h0M141.7 261.6h0M140.8 262.1h0M142.5 261.7h0M147.1 259.8h0M147.6 260.8h0M140.9 254.6h0M144.0 253.8h0M145.1 254.0h0M148.7 257.9h0M152.3 256.8h0M155.0 255.3h0M136.5 252.2h0M135.2 253.4h0M136.6 251.2h0M137.1 250.9h0M137.7 250.0h0M140.4 252.9h0M138.6 252.2h0M143.4 252.9h0M146.5 252.8h0M146.8 249.6h0M154.2 250.6h0M134.2 247.8h0M135.7 248.6h0M133.9 249.2h0M141.1 248.3h0M144.9 248.3h0M149.6 247.4h0M146.5 247.9h0M149.2 245.2h0M152.1 246.8h0M150.9 249.0h0M161.7 264.4h0M168.0 266.2h0M164.8 262.6h0M170.2 262.9h0M173.4 264.5h0M175.7 262.4h0M156.5 259.7h0M157.4 262.0h0M162.2 258.1h0M164.2 258.2h0M163.9 262.2h0M156.2 254.8h0M160.9 256.0h0M163.7 254.3h0M163.3 257.5h0M165.3 257.2h0M169.5 255.1h0M169.1 257.8h0M172.9 257.8h0M157.6 249.4h0M161.9 250.0h0M162.8 249.4h0M168.1 253.3h0M173.5 251.5h0M156.3 246.7h0M156.8 245.0h0M161.6 245.6h0M160.3 246.8h0M165.4 248.2h0M170.1 246.3h0M173.7 246.3h0M176.8 246.9h0M176.7 246.4h0M176.7 247.3h0M173.3 246.8h0M173.9 246.0h0M180.6 263.5h0M179.3 265.9h0M177.6 262.5h0M178.5 262.6h0M183.4 264.5h0M181.5 266.6h0M189.3 265.4h0M192.0 266.5h0M196.4 265.7h0M196.1 263.5h0M186.6 261.2h0M189.9 261.8h0M193.1 258.9h0M191.3 259.7h0M194.6 260.3h0M177.6 255.9h0M176.8 257.2h0M178.4 256.2h0M180.7 257.9h0M182.4 257.1h0M185.7 253.8h0M191.0 255.0h0M190.4 255.9h0M195.8 257.6h0M189.7 251.0h0M189.3 252.8h0M195.3 252.3h0M194.4 251.2h0M177.2 248.2h0M178.3 245.4h0M184.2 249.1h0M185.4 245.5h0M186.7 248.1h0M185.6 247.9h0M186.8 246.3h0M195.6 245.3h0M199.6 264.7h0M202.8 264.1h0M218.8 264.3h0M199.0 258.8h0M206.0 258.3h0M208.6 262.2h0M209.9 261.4h0M200.4 254.1h0M201.7 254.2h0M213.6 254.5h0M199.1 252.4h0M205.6 253.2h0M205.5 252.4h0M209.9 250.7h0M215.1 252.5h0M206.0 247.2h0M205.7 249.2h0M219.7 247.4h0M221.1 264.0h0M235.9 265.3h0M238.9 264.6h0M238.1 265.4h0M220.5 260.2h0M223.1 262.3h0M236.0 258.8h0M237.4 259.6h0M239.8 261.2h0M237.3 257.2h0M234.9 254.1h0M240.5 257.2h0M226.1 251.4h0M231.2 249.4h0M223.1 247.6h0M232.4 247.1h0M240.1 248.8h0M237.6 248.4h0M263.2 258.8h0M261.4 259.7h0M252.0 250.4h0M244.1 247.4h0M249.0 248.1h0M260.1 245.0h0M278.1 251.9h0M278.1 252.1h0M277.5 252.1h0M267.1 246.9h0M276.9 246.8h0M285.4 254.4h0M178.3 154.0h0M198.5 119.3h0M136.9 188.7h0M101.5 220.4h0M159.8 162.4h0M259.5 62.1h0M226.7 99.4h0M234.6 93.3h0M155.9 169.6h0M153.4 166.9h0M258.8 68.7h0M211.2 116.8h0M177.3 147.8h0M237.2 83.7h0M139.2 188.5h0M233.1 95.1h0M204.3 121.9h0M190.0 133.8h0M184.9 138.2h0M211.5 107.0h0M202.6 124.7h0M179.6 138.3h0M116.1 209.4h0M100.3 216.6h0M234.6 83.0h0M208.1 118.5h0M77.4 245.3h0M244.4 82.9h0M206.4 114.3h0M138.3 182.6h0M112.1 201.3h0M273.7 55.8h0M253.9 66.7h0M200.5 117.7h0M216.8 109.6h0M215.0 108.5h0M158.6 165.2h0M243.3 80.3h0M241.4 86.8h0M142.6 182.2h0M159.2 169.7h0M152.2 165.2h0M108.6 212.5h0M245.4 73.2h0M275.9 45.5h0M211.3 101.7h0M158.1 163.7h0M125.6 197.6h0M147.6 178.4h0M140.0 169.6h0M137.2 197.1h0M136.2 184.9h0M154.9 168.1h0M223.0 102.2h0M186.5 130.6h0M127.5 194.6h0M75.7 246.1h0M214.0 104.9h0M79.5 238.0h0M253.1 70.0h0M248.9 65.9h0M136.6 187.8h0M180.0 139.1h0M274.3 45.7h0M116.9 201.0h0M99.8 226.7h0M205.9 114.0h0M116.5 201.1h0M214.0 111.6h0M109.6 208.0h0M240.5 77.4h0M117.8 199.8h0M113.0 207.3h0M165.1 150.4h0M72.5 252.6h0M82.2 239.3h0M156.9 150.0h0M97.4 222.4h0M72.2 249.0h0M129.8 197.9h0M266.3 61.1h0M202.2 121.9h0M156.9 171.1h0M239.8 77.3h0M210.5 112.6h0M175.6 149.5h0M209.6 103.5h0M160.5 162.8h0M248.1 72.1h0M191.2 129.8h0M235.8 93.0h0M266.1 51.0h0M72.7 244.9h0M186.3 137.8h0M145.5 179.9h0M105.0 219.8h0M122.2 193.9h0M231.7 90.7h0M181.8 137.8h0M198.1 124.2h0M71.0 242.3h0M84.9 233.8h0M176.8 144.3h0M94.4 227.4h0M255.0 72.7h0M261.7 63.6h0M264.4 52.7h0M70.8 241.7h0M235.8 81.5h0M107.4 216.5h0M170.0 155.1h0M78.5 252.2h0M202.7 115.9h0M93.3 226.9h0M197.4 126.3h0M220.7 105.5h0M275.4 49.8h0M98.4 228.6h0M268.5 55.4h0M224.1 94.9h0M124.8 200.8h0M171.7 151.8h0M86.9 236.6h0M167.9 151.2h0M145.6 170.2h0M97.2 240.3h0M227.8 92.7h0M68.6 251.0h0M90.5 225.7h0M151.2 168.1h0M224.5 95.5h0M72.0 256.7h0M96.5 226.2h0M155.9 174.4h0M210.2 104.7h0M225.6 98.4h0M258.8 69.5h0M80.8 239.0h0M221.4 106.1h0M227.3 94.6h0M263.0 58.4h0M153.2 160.3h0M185.6 126.1h0M244.4 81.0h0M204.3 106.1h0M229.5 96.1h0M155.6 169.2h0M250.0 71.0h0M269.2 47.7h0M269.7 48.1h0M216.9 105.6h0M140.2 187.5h0M176.6 136.8h0M170.9 149.6h0M116.4 203.7h0M90.2 242.1h0M162.9 158.9h0M229.9 85.5h0M168.8 157.0h0M100.7 222.4h0M251.9 69.0h0M126.0 195.6h0M240.7 86.8h0M161.9 166.2h0M219.5 109.2h0M204.8 111.8h0M207.6 117.1h0M118.5 198.9h0M119.2 194.3h0M136.3 184.3h0M135.4 192.1h0M271.8 57.9h0M192.3 131.1h0M234.2 83.2h0M169.6 158.6h0M264.8 57.3h0M272.1 48.7h0M89.2 234.0h0M253.0 67.4h0M242.7 82.4h0M224.5 93.2h0M95.3 222.6h0M139.7 179.6h0M260.7 62.0h0M213.0 114.4h0M228.3 101.4h0M271.2 57.1h0M84.9 239.2h0M255.9 62.1h0M146.5 165.8h0M150.3 170.4h0M90.3 241.7h0M137.0 185.1h0M224.0 101.1h0M104.2 220.2h0M271.6 50.7h0M199.9 126.1h0M85.8 237.3h0M253.1 75.8h0M159.0 168.3h0M147.1 180.5h0M241.7 74.9h0M152.8 166.9h0M201.6 121.1h0M128.0 186.7h0M96.2 227.9h0M125.9 198.7h0M155.6 170.5h0M227.4 87.1h0M156.6 157.9h0M273.6 51.2h0M102.8 218.4h0M124.9 206.9h0M137.5 182.3h0M246.1 76.1h0M144.9 168.2h0M84.9 240.7h0M156.1 167.1h0M223.4 87.3h0M168.7 165.3h0M71.6 248.1h0M171.3 158.2h0M239.6 84.4h0M259.5 58.7h0M263.3 61.1h0M86.9 234.5h0M216.3 112.4h0M272.4 43.7h0M194.1 131.0h0M184.1 126.7h0M256.8 64.0h0M267.3 53.5h0M77.9 237.4h0M133.6 189.1h0M219.9 103.6h0M98.7 220.2h0M193.4 124.1h0M143.7 185.7h0M129.3 186.5h0M244.4 73.6h0M226.9 89.3h0M122.0 199.7h0M259.8 57.8h0M206.0 113.8h0M89.3 228.2h0M247.1 75.2h0M88.0 234.7h0M244.9 72.9h0M194.7 130.1h0M180.7 142.6h0M257.7 54.2h0M159.1 148.5h0M257.8 69.2h0M115.8 212.8h0M76.6 242.8h0M219.5 102.9h0M233.1 86.1h0M269.8 58.5h0M128.5 194.6h0M212.7 98.0h0M127.9 199.2h0M176.5 145.5h0M165.8 159.2h0M205.8 114.7h0M104.1 219.3h0M152.9 159.9h0M77.6 250.7h0M241.1 76.2h0M178.3 138.2h0M161.4 156.8h0M239.5 77.4h0M156.8 174.5h0M75.9 249.4h0M225.7 102.3h0M123.2 200.9h0M204.1 124.9h0M196.6 121.3h0M227.3 99.8h0M179.4 145.5h0M129.2 199.5h0M275.3 49.0h0M117.4 210.5h0M189.0 141.2h0M236.9 94.2h0M75.9 233.9h0M194.5 131.5h0M234.1 84.5h0M270.6 60.6h0M98.9 221.4h0M209.5 112.0h0M69.8 245.3h0M182.1 136.2h0M116.7 203.1h0M222.7 101.9h0M203.2 118.5h0M75.1 248.9h0M102.2 218.5h0M219.8 99.6h0M77.8 247.9h0M246.8 73.5h0M225.8 91.2h0M183.2 142.8h0M138.9 180.4h0M210.1 108.8h0M206.9 110.3h0M164.6 151.0h0M142.6 179.0h0M184.8 141.3h0M117.2 200.4h0M120.1 201.5h0M224.8 99.6h0M168.3 158.6h0M264.1 57.5h0M210.0 107.9h0M126.3 193.3h0M156.6 173.9h0M95.6 217.3h0M140.6 177.1h0M171.5 146.9h0M109.5 216.3h0M128.3 192.6h0M243.9 76.6h0M168.5 165.1h0M191.9 134.3h0M159.3 170.2h0M113.0 207.7h0M260.0 77.6h0M161.9 165.7h0M205.6 110.7h0M251.7 69.9h0M68.5 254.0h0M105.0 229.0h0M245.4 76.7h0M100.4 227.1h0M224.6 92.4h0M207.3 109.2h0M181.5 131.0h0M105.7 220.3h0M232.0 91.8h0M117.3 207.3h0M163.1 153.5h0M188.7 125.4h0M158.5 167.7h0M199.5 116.9h0M234.8 83.4h0M179.2 143.6h0M197.8 126.7h0M210.3 118.9h0M110.5 214.2h0M177.3 143.3h0M267.1 51.3h0M125.5 191.6h0M241.6 74.6h0M179.2 142.5h0M74.3 249.0h0M157.4 172.5h0M98.0 227.5h0M172.4 157.5h0M117.8 207.5h0M86.7 225.1h0M136.3 193.9h0M267.4 57.2h0M221.4 92.0h0M170.7 157.7h0M209.0 119.7h0M263.7 55.3h0M148.0 169.1h0M109.6 199.0h0M114.0 217.6h0M131.2 191.4h0M94.9 229.0h0M229.0 88.9h0M75.5 254.1h0M263.9 51.5h0M153.2 169.1h0M79.6 239.2h0M272.2 45.4h0M236.5 70.4h0M167.2 151.4h0M153.8 166.1h0M104.2 216.0h0M199.9 118.1h0M79.7 239.6h0M217.3 105.5h0M129.9 192.3h0M138.0 180.7h0M125.8 200.7h0M177.1 144.3h0M138.9 180.8h0M101.6 213.7h0M210.2 108.3h0M114.4 205.5h0M217.3 104.0h0M276.2 43.7h0M94.1 222.5h0M184.9 142.9h0M186.0 140.6h0M158.1 155.9h0M251.3 66.1h0M107.9 204.7h0M157.6 168.5h0M142.2 172.2h0M88.7 231.7h0M117.2 204.0h0M156.2 168.3h0M252.5 68.3h0M184.8 128.3h0M220.8 100.7h0M84.5 236.0h0M150.0 167.3h0M243.8 73.8h0M129.7 207.7h0M165.7 155.1h0M207.7 109.9h0M165.7 155.0h0M159.3 163.9h0M104.0 211.1h0M272.9 46.4h0M145.1 170.1h0M112.2 210.6h0M213.3 111.6h0M272.4 47.2h0M272.9 58.0h0M227.2 92.6h0M106.5 214.1h0M162.4 154.4h0M210.3 105.0h0M241.5 82.4h0M241.4 79.4h0M108.8 212.5h0M197.5 126.9h0M76.9 245.4h0M204.0 117.4h0M71.9 255.0h0M68.5 258.5h0M229.3 93.2h0M142.8 186.9h0M274.3 45.7h0M218.6 102.8h0M263.8 62.2h0M80.2 243.1h0M211.5 97.9h0M163.7 165.6h0M121.7 201.1h0M150.8 174.2h0M210.0 108.7h0M138.6 185.6h0M212.5 112.8h0M117.5 200.2h0M88.3 237.1h0M248.3 74.2h0M256.1 64.5h0M123.5 192.7h0M161.1 171.8h0M161.6 152.6h0M220.5 92.5h0M205.2 117.1h0M251.1 71.6h0M168.3 151.9h0M173.5 159.9h0M82.5 246.9h0M196.3 126.3h0M182.2 141.1h0M108.9 220.2h0M174.8 133.3h0M168.9 155.5h0M274.6 41.8h0M197.3 126.5h0M166.5 153.5h0M276.5 50.4h0M142.5 175.1h0M212.5 105.0h0M204.3 123.7h0M211.4 109.5h0M197.4 124.3h0M73.0 250.7h0M87.7 240.5h0M192.0 126.8h0M77.9 249.4h0M138.3 181.8h0M131.0 196.4h0M243.4 76.2h0M172.4 145.3h0M121.5 197.7h0M144.9 176.1h0M172.5 147.8h0M165.3 146.8h0M84.9 230.5h0M216.8 101.8h0M229.9 94.4h0M275.1 46.9h0M104.2 222.2h0M128.0 192.1h0M233.6 83.5h0M72.0 250.2h0M250.6 73.6h0M84.5 239.7h0M136.5 184.7h0M267.1 57.2h0M108.9 211.7h0M196.6 130.7h0M210.0 119.2h0M96.7 228.3h0M155.5 176.9h0M99.2 222.4h0M197.9 127.3h0M77.8 248.7h0M166.6 154.1h0M161.2 165.3h0M158.3 166.5h0M167.2 162.5h0M268.9 51.6h0M136.6 191.4h0M85.9 236.8h0M83.8 236.4h0M118.8 203.8h0M94.7 225.0h0M220.6 104.9h0M202.8 117.6h0M84.4 237.8h0M216.5 106.6h0M74.3 242.7h0M212.4 111.1h0M81.7 244.9h0M198.4 124.1h0M169.5 149.4h0M137.5 187.0h0M266.0 50.7h0M112.8 212.4h0M206.5 113.7h0M273.9 46.3h0M214.9 102.7h0M145.9 176.9h0M242.8 86.4h0M245.8 72.9h0M74.7 253.3h0M93.2 238.1h0M249.0 66.5h0M203.8 118.1h0M262.7 50.9h0M133.9 191.0h0M247.7 69.5h0M263.7 59.1h0M227.3 96.1h0M265.9 55.8h0M257.4 59.4h0M209.9 111.7h0M243.1 83.5h0M165.1 151.4h0M262.5 59.8h0M122.1 186.7h0M123.3 191.2h0M226.8 89.5h0M270.8 47.8h0M98.2 228.8h0M231.1 91.2h0M142.4 175.7h0M78.8 231.7h0M165.8 153.8h0M270.5 50.4h0M148.2 170.5h0M97.7 230.4h0M159.1 151.7h0M105.9 222.6h0M249.8 77.1h0M162.3 166.2h0M75.6 248.9h0M191.9 133.8h0M182.3 138.0h0M157.8 158.8h0M167.5 150.0h0M223.7 96.7h0M242.6 82.4h0M202.4 122.3h0M272.0 59.1h0M223.4 104.7h0M132.6 191.5h0M89.7 240.1h0M144.1 168.6h0M94.6 226.9h0M235.9 79.3h0M145.1 184.1h0M269.6 49.2h0M74.7 250.4h0M186.7 123.7h0M188.2 130.4h0M175.7 138.3h0M235.4 86.9h0M117.0 212.2h0M205.2 111.6h0M172.5 153.2h0M247.0 61.9h0M143.9 185.0h0M266.5 54.5h0M75.0 246.2h0M104.3 216.5h0M93.4 233.7h0M245.3 69.8h0M275.4 43.9h0M191.7 124.0h0M164.1 149.8h0M167.6 165.2h0M103.8 222.6h0M252.8 65.6h0M68.9 256.0h0M228.5 91.1h0M249.4 74.9h0M81.2 237.8h0M110.7 210.9h0M111.9 213.1h0M207.8 117.8h0M140.7 180.2h0M137.1 183.8h0M204.0 111.3h0M259.9 62.3h0M237.4 78.8h0M267.4 56.8h0M264.1 57.7h0M131.8 179.0h0M273.6 52.8h0M230.3 90.2h0M74.2 255.6h0M179.4 132.7h0M90.4 231.9h0M238.4 82.0h0M205.3 121.3h0M93.9 236.9h0M111.8 210.8h0M165.3 161.8h0M132.1 194.1h0M188.6 131.6h0M158.6 168.8h0M128.2 205.0h0M156.3 170.7h0M122.1 201.4h0M129.1 197.2h0M218.6 97.6h0M212.9 104.9h0M231.9 90.9h0M86.0 242.6h0M88.5 239.1h0M202.6 127.9h0M244.2 77.5h0M246.1 68.1h0M209.7 121.3h0M182.9 142.3h0M120.8 198.9h0M169.9 152.5h0M147.0 174.4h0M135.0 190.4h0M168.7 161.2h0M258.3 62.3h0M244.2 80.3h0M125.0 202.0h0M93.4 218.4h0M251.6 74.7h0M231.5 93.8h0M213.9 114.8h0M91.6 236.9h0M186.3 142.5h0M187.1 138.9h0M144.2 184.4h0M189.9 122.8h0M103.1 214.4h0M260.0 60.2h0M223.4 85.5h0M224.9 97.2h0M206.3 108.8h0M203.4 124.6h0M74.6 259.6h0M169.6 148.4h0M213.6 114.9h0M88.4 237.0h0M128.2 193.1h0M248.2 72.2h0M132.9 185.2h0M261.5 63.3h0M184.8 133.7h0M211.7 104.0h0M92.4 221.9h0M138.6 184.7h0M246.3 72.6h0M178.9 154.5h0M247.6 80.6h0M208.7 112.4h0M211.0 94.3h0M123.7 195.1h0M130.6 198.0h0M144.4 173.9h0M186.8 145.5h0M142.7 173.2h0M195.3 120.2h0M72.0 258.5h0M188.3 130.0h0M118.6 208.9h0M191.2 132.6h0M267.0 58.4h0M201.7 120.7h0M93.3 229.3h0M271.9 56.5h0M96.8 220.5h0M207.9 123.3h0M167.1 158.3h0M148.3 164.3h0M183.7 131.8h0M87.8 230.3h0M220.4 99.1h0M171.1 154.6h0M275.4 47.9h0M208.9 117.6h0M139.9 168.8h0M99.8 223.2h0M227.7 91.4h0M259.2 56.9h0M214.1 104.1h0M114.4 214.6h0M190.8 127.8h0M136.0 189.6h0M201.1 118.8h0M131.1 189.0h0M272.6 45.8h0M181.9 136.6h0M259.2 68.1h0M182.4 138.7h0M222.8 98.6h0M218.4 100.4h0M272.0 46.4h0M257.6 62.7h0M207.2 113.5h0M269.5 55.3h0M86.0 239.4h0M225.1 96.5h0M219.7 98.9h0M226.5 99.4h0M178.1 146.0h0M167.7 154.0h0M109.4 206.3h0M146.4 182.0h0M255.3 57.9h0M267.5 54.1h0M236.7 86.5h0M218.0 108.4h0M187.3 132.9h0M202.9 119.8h0M233.6 93.6h0M90.5 223.5h0M130.5 195.8h0M239.8 80.5h0M159.5 166.4h0M87.6 232.3h0M214.5 106.9h0M78.7 250.9h0M174.1 152.3h0M231.5 100.7h0M127.7 191.7h0M120.5 193.0h0M167.1 147.0h0M208.6 104.1h0M262.1 50.6h0M76.2 236.3h0M255.1 57.0h0M112.4 212.1h0M247.4 66.7h0M96.4 228.8h0M239.3 77.9h0M211.1 113.2h0M160.8 160.2h0M97.1 221.7h0M88.7 227.1h0M112.5 206.6h0M135.0 195.8h0M85.0 233.5h0M168.4 144.8h0M225.6 94.3h0M98.0 232.5h0M164.7 151.5h0M125.8 198.9h0M85.5 218.8h0M241.1 87.2h0M128.8 193.6h0M248.8 76.0h0M211.4 114.0h0M231.7 90.4h0M78.5 238.2h0M93.3 232.4h0M224.1 91.5h0M163.3 162.0h0M146.2 187.5h0M111.4 204.9h0M152.5 175.4h0M100.1 215.5h0M131.3 186.0h0M227.5 85.8h0M100.6 217.8h0M142.1 167.1h0M161.3 160.3h0M232.4 89.2h0M258.1 68.3h0M203.5 114.4h0M234.9 84.9h0M73.5 246.7h0M226.2 99.8h0M264.9 61.1h0M93.4 218.1h0M157.6 161.8h0M107.6 220.2h0M78.0 244.5h0M151.0 169.7h0M155.3 170.4h0M268.9 47.6h0M70.7 255.2h0M259.3 60.5h0M167.6 153.2h0M125.8 198.4h0M87.9 234.2h0M271.4 47.5h0M187.1 118.1h0M121.8 203.2h0M198.6 128.7h0M172.1 154.6h0M102.1 214.3h0M156.8 164.2h0M102.0 228.6h0M259.9 60.7h0M104.0 228.9h0M256.2 61.6h0M73.9 255.8h0M165.4 150.7h0M242.8 87.3h0M176.7 136.1h0M268.5 57.1h0M148.7 169.1h0M78.6 243.8h0M172.5 141.3h0M95.0 226.9h0M232.6 82.5h0M135.1 175.0h0M245.6 80.5h0M229.9 89.4h0M201.7 117.5h0M263.3 61.1h0M77.0 236.1h0M253.2 73.0h0M192.7 125.1h0M227.2 87.9h0M226.5 95.4h0M160.7 168.0h0M129.4 201.3h0M116.2 199.2h0M270.1 51.9h0M86.1 228.8h0M203.4 123.9h0M198.4 126.8h0M151.9 164.9h0M213.8 112.2h0M115.5 198.3h0M264.6 61.7h0M152.7 158.7h0M233.9 100.1h0M91.2 221.2h0M101.5 215.4h0M194.1 132.2h0M190.4 132.7h0M190.3 126.3h0M171.6 155.4h0M223.3 92.2h0M178.9 135.8h0M224.1 95.7h0M202.2 130.7h0M271.9 48.5h0M227.8 94.6h0M124.6 201.9h0M258.1 60.7h0M267.6 51.6h0M222.0 96.3h0M210.5 108.3h0M261.7 50.3h0M104.0 214.3h0M172.0 149.8h0M151.7 168.7h0M269.7 50.8h0M72.7 251.6h0M165.4 153.0h0M266.5 52.4h0M230.0 99.0h0M159.3 167.1h0M73.7 249.6h0M137.1 183.9h0M267.0 53.7h0M126.8 195.3h0M238.3 80.3h0M162.4 157.9h0M161.4 156.2h0M146.4 171.4h0M116.2 216.1h0M78.9 238.4h0M240.5 82.3h0M114.4 203.1h0M235.0 86.3h0M234.2 87.5h0M260.5 52.9h0M147.3 167.7h0M129.2 197.3h0M105.7 208.7h0M250.3 67.6h0M275.1 51.1h0M214.7 120.7h0M209.5 106.1h0M137.0 181.2h0M208.9 117.7h0M173.1 146.2h0M204.0 119.8h0M265.7 60.9h0M180.8 146.1h0M260.9 55.7h0M131.9 187.5h0M144.1 176.4h0M97.0 229.0h0M256.3 68.7h0M197.9 130.4h0M110.4 214.5h0M254.2 66.1h0M82.5 238.2h0M134.3 191.4h0M198.8 127.3h0M245.5 65.4h0M222.2 110.6h0M267.2 50.9h0M109.9 207.1h0M127.3 207.6h0M230.0 93.7h0M150.7 166.7h0M234.0 91.7h0M121.7 197.0h0M133.7 196.3h0M111.3 204.9h0M202.3 120.2h0M232.8 87.9h0M173.8 151.7h0M126.5 202.0h0M273.6 47.3h0M147.9 169.7h0M165.0 159.8h0M189.5 135.4h0M275.3 46.8h0M130.7 191.9h0M241.7 78.4h0M217.5 101.0h0M211.8 115.3h0M82.2 237.8h0M226.6 98.9h0M96.2 227.4h0M87.3 225.2h0M148.5 172.2h0M153.4 177.9h0M203.1 122.1h0M223.5 91.6h0M165.0 154.2h0M269.7 53.8h0M142.4 183.3h0M134.7 184.8h0M137.7 188.5h0M256.8 66.3h0M130.9 190.9h0M254.9 58.9h0M230.0 88.0h0M105.5 222.3h0M162.9 164.8h0M100.1 227.0h0M198.7 121.1h0M217.6 93.2h0M141.4 174.4h0M153.3 166.7h0M117.9 207.1h0M132.3 182.9h0M83.6 241.5h0M249.3 66.7h0M174.4 153.0h0M224.2 89.2h0M137.9 180.0h0M223.8 83.9h0M272.2 52.5h0M219.2 101.6h0M143.3 191.3h0M178.3 139.8h0M69.3 254.5h0M84.9 233.5h0M174.9 142.3h0M173.6 152.4h0M217.4 96.9h0M82.8 240.0h0M232.0 84.5h0M246.2 62.5h0M218.1 107.2h0M74.7 248.1h0M226.2 91.5h0M160.1 165.0h0M68.7 259.5h0M226.6 96.4h0M113.1 212.9h0M88.9 236.0h0M179.7 139.4h0M81.0 242.5h0M108.0 210.7h0M256.2 64.5h0M123.9 196.4h0M153.2 157.8h0M272.2 45.1h0M114.2 210.6h0M82.4 235.8h0M215.2 106.9h0M112.1 211.3h0M147.3 177.9h0M195.8 124.3h0M226.1 89.6h0M163.8 150.0h0M79.4 238.9h0M130.7 188.6h0M183.4 139.1h0M235.1 86.0h0M188.5 134.5h0M129.0 178.5h0M225.7 92.1h0M149.6 170.3h0M83.7 242.3h0M73.4 245.8h0M218.1 95.5h0M72.6 246.5h0M145.0 174.5h0M69.8 264.6h0M229.5 90.3h0M121.0 208.4h0M274.6 45.7h0M246.6 72.3h0M124.6 203.0h0M90.0 232.2h0M69.3 245.8h0M177.7 142.5h0M189.6 126.8h0M222.9 98.9h0M185.1 141.7h0M125.8 191.0h0M73.2 242.8h0M240.1 76.1h0M72.2 254.7h0M176.0 149.2h0M239.6 92.0h0M143.3 177.5h0M255.9 59.3h0M252.4 69.6h0M175.1 136.0h0M182.9 143.9h0M101.2 214.4h0M173.9 150.1h0M146.3 186.6h0M77.0 244.5h0M97.4 219.6h0M239.7 84.6h0M230.7 90.9h0M255.6 32.1h0M179.7 32.6h0M270.4 31.4h0M225.8 34.1h0M228.0 33.9h0M213.5 36.4h0M251.9 30.0h0" stroke="#000" stroke-width="3.0" stroke-linecap="round" fill="none"/>
<path d="M68.40 266.70L298.80 5.70" stroke="#f00" stroke-width="1.3" fill="none"/>
<path d="M68.40 266.70v4.5M68.40 5.70v-4.5M68.40 266.70h-4.5M328.50 266.70h4.5M90.08 266.70v2.5M90.08 5.70v-2.5M68.40 244.95h-2.5M328.50 244.95h2.5M111.75 266.70v4.5M111.75 5.70v-4.5M68.40 223.20h-4.5M328.50 223.20h4.5M133.43 266.70v2.5M133.43 5.70v-2.5M68.40 201.45h-2.5M328.50 201.45h2.5M155.10 266.70v4.5M155.10 5.70v-4.5M68.40 179.70h-4.5M328.50 179.70h4.5M176.78 266.70v2.5M176.78 5.70v-2.5M68.40 157.95h-2.5M328.50 157.95h2.5M198.45 266.70v4.5M198.45 5.70v-4.5M68.40 136.20h-4.5M328.50 136.20h4.5M220.13 266.70v2.5M220.13 5.70v-2.5M68.40 114.45h-2.5M328.50 114.45h2.5M241.80 266.70v4.5M241.80 5.70v-4.5M68.40 92.70h-4.5M328.50 92.70h4.5M263.48 266.70v2.5M263.48 5.70v-2.5M68.40 70.95h-2.5M328.50 70.95h2.5M285.15 266.70v4.5M285.15 5.70v-4.5M68.40 49.20h-4.5M328.50 49.20h4.5M306.83 266.70v2.5M306.83 5.70v-2.5M68.40 27.45h-2.5M328.50 27.45h2.5M328.50 266.70v4.5M328.50 5.70v-4.5M68.40 5.70h-4.5M328.50 5.70h4.5" stroke="#333" stroke-width="0.9" fill="none"/>
<rect x="68.40" y="5.70" width="260.10" height="261.00" stroke="#000" stroke-width="1.6" fill="none"/>
<text transform="translate(59.60 271.70) scale(1 1.09)" class="tl" text-anchor="end">0</text>
<text transform="translate(68.40 286.30) scale(1 1.09)" class="tl" text-anchor="middle">0</text>
<text transform="translate(59.60 228.20) scale(1 1.09)" class="tl" text-anchor="end">200</text>
<text transform="translate(111.75 286.30) scale(1 1.09)" class="tl" text-anchor="middle">200</text>
<text transform="translate(59.60 184.70) scale(1 1.09)" class="tl" text-anchor="end">400</text>
<text transform="translate(155.10 286.30) scale(1 1.09)" class="tl" text-anchor="middle">400</text>
<text transform="translate(59.60 141.20) scale(1 1.09)" class="tl" text-anchor="end">600</text>
<text transform="translate(198.45 286.30) scale(1 1.09)" class="tl" text-anchor="middle">600</text>
<text transform="translate(59.60 97.70) scale(1 1.09)" class="tl" text-anchor="end">800</text>
<text transform="translate(241.80 286.30) scale(1 1.09)" class="tl" text-anchor="middle">800</text>
<text transform="translate(59.60 54.20) scale(1 1.09)" class="tl" text-anchor="end">1000</text>
<text transform="translate(285.15 286.30) scale(1 1.09)" class="tl" text-anchor="middle">1000</text>
<text transform="translate(59.60 10.70) scale(1 1.09)" class="tl" text-anchor="end">1200</text>
<text transform="translate(328.50 286.30) scale(1 1.09)" class="tl" text-anchor="middle">1200</text>
<text x="198.45" y="308.20" class="al" text-anchor="middle">I<tspan class="sub" dy="5">Obs</tspan><tspan dy="-5"> (W/m</tspan><tspan class="sup" dy="-8">2</tspan><tspan dy="8">)</tspan></text>
<text transform="translate(19.3 136.20) rotate(-90)" class="al" text-anchor="middle">I<tspan class="sub" dy="5">WRF</tspan><tspan dy="-5"> (W/m</tspan><tspan class="sup" dy="-8">2</tspan><tspan dy="8">)</tspan></text>
<text x="58.6" y="337.80" class="cl">(a)</text>
<text x="83.8" y="337.80" class="ct">Initial combination of schemes (INI)</text>
<path d="M110.87 382.40V643.50M67.50 599.98H327.70M154.23 382.40V643.50M67.50 556.47H327.70M197.60 382.40V643.50M67.50 512.95H327.70M240.97 382.40V643.50M67.50 469.43H327.70M284.33 382.40V643.50M67.50 425.92H327.70" stroke="#b4b4b4" stroke-width="0.9" fill="none"/>
<clipPath id="cp1"><rect x="67.50" y="382.40" width="260.20" height="261.10"/></clipPath>
<path clip-path="url(#cp1)" d="M71.1 423.1h0M69.5 421.4h0M81.6 423.7h0M83.9 424.5h0M93.7 425.2h0M92.1 425.6h0M89.8 422.6h0M113.5 424.2h0M128.7 423.1h0M117.2 422.9h0M125.5 425.2h0M138.5 423.9h0M138.5 424.6h0M152.9 424.2h0M149.9 423.2h0M146.8 420.4h0M145.7 422.9h0M155.2 422.8h0M164.3 422.5h0M168.2 424.6h0M166.0 421.3h0M168.3 423.7h0M154.6 424.1h0M154.9 422.4h0M158.9 420.6h0M163.3 424.2h0M155.0 423.3h0M161.1 420.6h0M154.7 422.5h0M162.9 423.2h0M190.3 423.3h0M196.5 424.0h0M193.6 422.8h0M177.4 424.8h0M184.2 425.4h0M180.7 422.0h0M195.5 417.6h0M197.1 425.2h0M178.9 422.1h0M176.4 425.5h0M182.0 423.5h0M182.6 424.0h0M181.5 424.3h0M189.1 422.3h0M177.3 425.8h0M185.0 425.7h0M202.5 422.6h0M209.3 423.0h0M216.2 417.7h0M216.6 421.1h0M198.6 420.9h0M204.3 420.2h0M202.0 420.1h0M202.3 425.1h0M208.3 422.2h0M214.6 417.0h0M199.6 421.0h0M217.0 420.9h0M198.0 422.9h0M210.3 418.9h0M212.8 415.4h0M217.7 414.9h0M219.9 418.8h0M227.7 425.8h0M232.8 421.1h0M238.5 416.8h0M237.8 425.6h0M226.8 424.1h0M229.0 417.0h0M234.9 420.0h0M236.9 415.1h0M224.8 415.9h0M235.0 424.1h0M224.7 418.3h0M228.0 420.1h0M230.4 425.5h0M236.8 424.9h0M223.0 420.1h0M231.1 422.6h0M228.0 423.1h0M229.0 416.3h0M239.0 424.7h0M245.3 419.6h0M244.0 421.9h0M244.6 420.4h0M250.3 424.6h0M253.9 415.6h0M257.2 418.3h0M257.6 417.7h0M244.7 423.0h0M241.7 424.3h0M242.0 421.7h0M243.5 424.8h0M248.0 412.2h0M247.0 418.6h0M254.4 417.1h0M256.3 425.5h0M257.0 425.2h0M261.3 419.4h0M261.9 418.2h0M242.8 422.1h0M244.4 424.7h0M247.4 423.6h0M248.5 415.4h0M249.7 419.3h0M251.9 415.9h0M249.9 415.6h0M250.9 419.1h0M253.1 425.2h0M254.7 419.7h0M256.7 423.0h0M258.8 423.9h0M261.6 418.1h0M244.9 422.0h0M243.0 415.8h0M241.1 424.5h0M247.2 423.6h0M253.2 419.3h0M254.1 424.4h0M258.3 425.5h0M259.5 416.3h0M262.0 419.8h0M245.8 424.5h0M246.8 422.8h0M248.4 418.4h0M251.9 425.5h0M251.8 417.1h0M266.7 424.6h0M268.1 422.7h0M270.2 418.7h0M268.9 415.0h0M271.4 419.3h0M279.6 422.8h0M275.9 420.5h0M277.4 419.2h0M280.5 425.8h0M282.4 416.2h0M264.6 421.5h0M264.8 425.6h0M264.3 425.0h0M264.2 413.9h0M265.1 419.6h0M267.6 415.5h0M269.7 416.8h0M270.6 420.8h0M272.8 418.4h0M271.6 423.3h0M274.4 423.3h0M272.2 422.7h0M278.4 415.6h0M282.7 420.7h0M280.4 416.9h0M264.6 420.9h0M263.7 416.5h0M275.1 421.8h0M273.1 422.9h0M278.9 417.4h0M282.8 425.0h0M281.4 421.0h0M283.5 423.7h0M264.7 424.9h0M269.3 421.3h0M270.1 415.7h0M267.7 416.1h0M274.9 424.1h0M276.5 425.3h0M281.8 423.1h0M267.5 416.7h0M274.0 423.5h0M271.7 420.1h0M272.0 415.4h0M284.2 415.7h0M288.2 416.0h0M293.0 425.3h0M293.4 422.6h0M296.9 418.9h0M293.8 415.4h0M296.4 421.1h0M297.9 419.7h0M286.3 425.4h0M293.8 423.7h0M293.2 425.5h0M302.0 421.5h0M285.1 419.7h0M286.5 424.3h0M290.3 418.0h0M296.4 418.9h0M294.4 423.2h0M295.9 422.1h0M286.0 420.3h0M292.6 424.8h0M293.4 417.5h0M294.7 422.4h0M297.1 413.6h0M300.9 417.3h0M300.4 418.9h0M286.3 422.6h0M292.5 415.1h0M289.7 418.4h0M294.1 414.5h0M293.7 424.4h0M304.6 418.6h0M308.8 414.7h0M323.7 421.5h0M74.9 443.7h0M89.0 444.0h0M86.7 443.4h0M84.8 439.6h0M78.8 438.5h0M74.2 431.2h0M71.9 433.8h0M78.2 434.0h0M75.3 428.3h0M82.2 430.0h0M89.6 444.5h0M102.3 443.9h0M106.6 446.7h0M95.4 442.2h0M104.5 441.3h0M105.5 440.7h0M104.3 441.9h0M95.3 437.2h0M103.3 436.6h0M93.5 431.9h0M98.3 429.2h0M108.7 427.5h0M107.0 427.3h0M114.0 446.8h0M118.2 446.3h0M128.1 444.1h0M130.7 447.3h0M112.5 440.7h0M119.3 442.0h0M115.9 440.1h0M123.8 439.0h0M125.1 442.6h0M127.0 443.0h0M130.9 441.6h0M113.4 437.4h0M115.2 438.8h0M116.1 435.4h0M124.2 438.7h0M124.5 435.4h0M113.5 433.8h0M120.4 433.9h0M120.4 432.7h0M132.2 430.4h0M132.3 434.2h0M114.2 428.8h0M117.5 428.9h0M136.1 444.0h0M134.3 445.5h0M137.6 444.9h0M142.0 446.8h0M144.8 444.0h0M142.0 444.1h0M152.6 445.7h0M135.5 443.2h0M133.6 441.8h0M152.6 439.6h0M150.7 441.6h0M153.0 441.8h0M133.1 434.8h0M136.0 436.9h0M134.2 436.5h0M138.3 436.7h0M144.4 437.8h0M139.6 430.3h0M142.9 433.8h0M149.5 434.3h0M154.1 433.1h0M154.0 432.4h0M133.2 430.1h0M135.1 426.6h0M146.0 426.3h0M150.9 430.0h0M151.5 426.2h0M150.0 426.7h0M151.5 426.0h0M154.9 444.7h0M154.5 443.7h0M160.7 445.3h0M162.5 446.3h0M162.9 446.8h0M165.4 445.5h0M166.9 443.4h0M163.1 444.2h0M170.4 446.9h0M168.5 445.2h0M167.4 445.2h0M170.6 446.0h0M170.8 443.4h0M167.8 444.4h0M167.8 445.4h0M172.4 443.7h0M171.9 444.6h0M173.7 443.7h0M155.4 442.3h0M155.9 440.6h0M156.3 442.7h0M160.9 441.2h0M164.3 441.6h0M163.1 442.1h0M164.2 441.8h0M168.7 442.8h0M169.0 441.5h0M168.3 440.2h0M167.6 441.8h0M172.6 442.1h0M174.3 441.7h0M157.8 437.1h0M160.0 437.7h0M165.5 438.9h0M167.2 434.7h0M165.4 436.8h0M166.5 435.3h0M171.5 438.4h0M169.8 438.8h0M170.9 437.6h0M167.6 436.9h0M170.9 436.2h0M172.4 436.3h0M154.4 430.7h0M158.4 432.8h0M160.0 430.5h0M160.7 431.7h0M170.7 430.8h0M170.1 433.2h0M171.6 434.3h0M167.7 433.4h0M171.9 431.2h0M157.1 426.7h0M156.3 428.8h0M160.8 427.8h0M165.0 427.1h0M163.7 429.3h0M167.6 428.6h0M168.4 427.2h0M174.0 426.2h0M177.4 445.1h0M178.0 447.0h0M180.2 445.5h0M182.4 444.6h0M183.3 446.3h0M188.2 444.6h0M186.8 444.9h0M184.8 446.2h0M186.6 446.7h0M185.3 447.3h0M187.4 446.2h0M191.3 447.4h0M196.8 447.3h0M195.0 446.4h0M176.7 439.6h0M177.1 440.3h0M177.5 440.7h0M177.0 440.1h0M176.2 440.6h0M182.6 440.8h0M181.2 441.2h0M188.0 439.1h0M188.1 443.0h0M187.5 443.1h0M186.7 440.7h0M185.0 443.2h0M188.5 439.1h0M186.8 443.3h0M192.3 440.0h0M196.0 440.7h0M178.9 435.1h0M179.8 437.1h0M180.6 437.8h0M183.5 438.3h0M181.5 438.3h0M182.4 436.1h0M186.9 435.1h0M185.5 437.7h0M187.9 436.0h0M188.1 436.4h0M187.6 436.4h0M187.1 437.5h0M190.1 437.1h0M189.2 435.8h0M195.8 436.8h0M197.4 438.6h0M193.8 434.9h0M177.1 430.4h0M177.4 432.7h0M179.2 433.6h0M179.7 430.6h0M182.9 431.0h0M184.2 431.0h0M181.0 430.4h0M186.2 433.4h0M186.4 431.4h0M187.6 430.5h0M191.2 433.6h0M191.4 433.3h0M190.0 431.2h0M189.9 431.2h0M194.3 432.9h0M195.0 432.8h0M197.4 430.9h0M183.7 428.3h0M188.1 429.0h0M186.1 426.4h0M184.8 429.9h0M192.4 428.1h0M194.3 426.6h0M194.6 428.6h0M197.2 428.7h0M196.8 429.3h0M195.9 430.1h0M196.6 427.9h0M203.4 445.5h0M205.1 447.2h0M203.5 445.2h0M204.9 445.4h0M208.0 447.0h0M210.0 446.0h0M208.9 446.3h0M209.2 444.5h0M211.1 446.2h0M212.0 447.2h0M212.3 444.4h0M212.4 446.6h0M213.8 446.2h0M211.6 446.3h0M217.0 445.5h0M218.5 443.8h0M217.8 444.9h0M201.9 439.7h0M200.5 439.5h0M197.8 441.0h0M200.7 440.4h0M199.6 440.5h0M203.5 443.1h0M206.0 440.7h0M202.1 441.3h0M207.7 440.3h0M210.0 439.4h0M214.6 440.4h0M214.0 439.9h0M211.5 441.3h0M212.8 442.8h0M215.5 441.0h0M217.0 440.7h0M218.8 439.5h0M218.9 440.9h0M200.1 435.0h0M198.0 438.6h0M199.9 437.4h0M201.3 435.1h0M199.8 436.1h0M198.6 438.8h0M198.0 438.2h0M201.3 435.9h0M198.5 435.3h0M204.5 435.5h0M202.6 435.3h0M202.2 436.0h0M206.3 437.7h0M206.7 435.5h0M209.8 436.7h0M208.7 436.1h0M206.5 438.9h0M213.3 436.9h0M212.3 436.5h0M217.6 435.0h0M218.4 438.2h0M218.5 436.0h0M215.8 437.3h0M219.2 435.0h0M204.2 431.7h0M204.3 434.4h0M207.9 430.4h0M206.9 432.4h0M206.8 432.1h0M207.0 431.7h0M215.1 432.9h0M218.2 431.3h0M218.6 433.3h0M199.0 426.8h0M199.0 426.6h0M199.1 427.4h0M207.8 429.4h0M210.4 426.4h0M214.3 430.1h0M213.8 426.4h0M214.7 427.9h0M218.7 426.7h0M215.6 426.5h0M219.9 444.2h0M223.2 443.5h0M220.4 444.3h0M226.9 445.5h0M225.9 447.5h0M226.1 447.3h0M230.8 446.1h0M228.7 445.4h0M230.0 445.1h0M232.1 445.9h0M232.1 447.1h0M232.0 447.3h0M230.5 447.2h0M235.2 443.9h0M235.5 446.7h0M232.5 447.0h0M234.4 444.1h0M233.5 445.8h0M235.6 444.6h0M233.8 444.7h0M240.0 443.7h0M239.5 447.1h0M221.0 442.2h0M219.6 439.4h0M219.9 439.8h0M220.1 441.3h0M220.0 439.5h0M227.2 439.8h0M224.7 442.2h0M225.4 442.7h0M226.1 442.4h0M232.2 440.5h0M229.4 441.9h0M228.0 440.1h0M235.0 442.6h0M233.0 442.4h0M232.6 443.0h0M232.3 440.8h0M237.5 441.7h0M237.8 442.3h0M238.8 443.2h0M237.8 441.5h0M240.0 442.9h0M237.3 440.8h0M240.9 442.2h0M240.5 439.8h0M220.5 435.7h0M226.6 436.7h0M224.2 435.4h0M223.7 436.0h0M224.3 438.8h0M230.5 435.2h0M229.3 435.7h0M230.8 436.4h0M232.2 437.2h0M236.2 438.5h0M233.2 437.6h0M233.4 438.4h0M235.1 438.9h0M239.9 435.2h0M240.0 435.1h0M219.7 432.2h0M226.6 431.5h0M225.4 430.7h0M228.3 432.3h0M228.6 432.0h0M229.2 430.4h0M228.6 431.0h0M228.4 432.7h0M228.4 432.0h0M231.6 432.6h0M230.7 433.9h0M236.0 430.7h0M233.6 432.6h0M233.3 433.8h0M234.7 433.5h0M236.5 431.5h0M233.0 430.4h0M240.3 434.5h0M240.7 433.8h0M240.6 433.3h0M237.0 431.2h0M220.3 429.7h0M221.1 427.9h0M226.8 427.4h0M225.1 427.4h0M226.7 427.1h0M229.2 427.3h0M231.2 426.7h0M231.9 430.2h0M229.2 427.4h0M228.2 430.0h0M233.4 426.9h0M234.8 429.3h0M232.8 427.7h0M235.3 427.2h0M237.8 429.5h0M239.5 426.6h0M240.5 427.4h0M239.9 429.3h0M241.7 446.0h0M243.7 446.3h0M242.4 445.8h0M243.0 445.6h0M242.7 445.0h0M246.9 446.2h0M248.9 447.6h0M249.3 443.9h0M249.8 445.0h0M252.1 446.1h0M250.9 444.6h0M250.9 444.9h0M253.6 444.2h0M251.1 446.1h0M250.7 446.5h0M252.0 444.4h0M253.3 445.2h0M252.4 444.4h0M251.4 447.2h0M250.9 445.7h0M256.6 446.5h0M256.9 445.9h0M254.4 445.9h0M256.4 443.6h0M255.4 446.2h0M256.3 443.7h0M256.2 444.2h0M256.4 445.3h0M256.6 444.0h0M256.1 446.3h0M256.9 447.4h0M254.9 446.5h0M258.6 443.4h0M259.5 446.7h0M260.6 446.3h0M259.3 447.1h0M259.1 443.6h0M261.4 447.4h0M258.5 445.4h0M259.3 444.2h0M258.5 443.8h0M260.0 447.0h0M245.2 440.4h0M243.9 441.6h0M241.2 439.6h0M245.0 442.6h0M244.2 441.7h0M242.9 440.7h0M248.5 442.9h0M245.9 439.4h0M247.2 441.7h0M247.4 441.4h0M248.8 439.2h0M246.1 441.0h0M249.0 441.6h0M247.6 443.2h0M248.0 440.1h0M251.8 439.0h0M251.2 442.7h0M250.8 443.1h0M250.1 443.1h0M250.1 441.5h0M252.6 442.9h0M254.8 442.7h0M255.7 441.1h0M255.9 440.1h0M256.5 441.9h0M257.4 442.0h0M255.8 443.2h0M257.6 441.6h0M255.4 440.1h0M256.6 440.6h0M261.5 441.9h0M260.6 439.5h0M262.4 442.6h0M259.9 441.7h0M245.2 437.3h0M245.0 438.9h0M242.9 438.1h0M242.9 434.8h0M244.6 435.3h0M249.0 437.5h0M248.3 435.0h0M246.5 439.0h0M248.1 435.6h0M249.5 437.0h0M248.0 437.7h0M246.5 438.1h0M246.8 434.9h0M251.4 436.0h0M254.0 437.5h0M251.7 436.5h0M253.8 437.1h0M252.2 438.6h0M250.9 434.7h0M253.2 438.5h0M251.0 436.8h0M253.3 435.7h0M257.3 435.4h0M255.4 434.9h0M257.0 436.1h0M255.1 435.1h0M256.2 438.5h0M255.3 437.6h0M257.0 435.8h0M255.1 438.4h0M257.0 436.1h0M256.7 438.0h0M255.4 435.3h0M255.1 436.0h0M257.7 436.5h0M262.0 435.7h0M259.3 438.4h0M262.3 436.2h0M260.2 435.3h0M244.7 433.1h0M242.4 431.7h0M243.0 430.7h0M243.0 431.1h0M244.9 434.2h0M243.1 430.3h0M243.0 434.5h0M245.2 432.5h0M248.6 432.6h0M245.9 430.4h0M246.4 431.4h0M249.5 431.2h0M247.2 432.3h0M248.2 434.0h0M248.5 431.4h0M250.3 432.0h0M253.2 430.4h0M253.2 434.1h0M250.1 430.9h0M251.2 434.5h0M251.1 430.4h0M251.0 432.0h0M255.9 434.3h0M255.1 433.5h0M255.2 430.5h0M258.1 431.8h0M255.3 434.1h0M260.3 434.3h0M262.4 432.0h0M259.9 432.6h0M261.1 430.8h0M260.8 433.2h0M244.0 428.5h0M243.1 430.1h0M242.0 428.0h0M242.6 428.3h0M243.5 427.0h0M244.5 429.2h0M245.0 427.6h0M249.6 430.2h0M247.1 429.4h0M249.1 429.5h0M247.2 430.2h0M246.1 429.3h0M251.4 429.3h0M252.4 429.0h0M253.0 427.7h0M252.0 427.4h0M251.9 429.2h0M250.6 429.6h0M254.2 429.4h0M258.1 429.9h0M255.3 428.1h0M257.3 426.9h0M256.4 429.9h0M255.1 427.9h0M257.6 429.1h0M262.1 428.4h0M258.5 426.2h0M259.1 428.2h0M259.7 429.8h0M260.6 427.4h0M260.8 428.4h0M261.2 426.8h0M258.5 429.7h0M265.4 443.7h0M263.9 444.8h0M266.6 445.9h0M265.6 444.2h0M266.7 445.7h0M266.8 444.6h0M264.3 447.0h0M266.7 446.4h0M266.0 446.7h0M263.9 444.1h0M265.3 443.7h0M265.5 447.3h0M268.5 443.8h0M270.6 446.9h0M270.4 444.1h0M268.1 446.2h0M269.9 447.2h0M269.3 444.4h0M270.8 447.0h0M272.4 445.3h0M272.6 447.3h0M275.6 445.6h0M275.6 443.7h0M275.4 443.4h0M271.9 445.9h0M274.9 445.4h0M274.6 444.3h0M273.1 447.4h0M272.0 446.3h0M277.5 446.5h0M279.2 443.4h0M278.3 444.2h0M278.9 444.9h0M283.6 444.8h0M280.8 443.5h0M283.6 444.9h0M281.2 447.0h0M266.1 439.1h0M265.0 441.6h0M264.6 440.5h0M263.8 439.2h0M265.5 439.1h0M266.4 439.7h0M263.5 441.6h0M264.7 440.3h0M270.5 439.0h0M271.1 443.2h0M267.1 442.3h0M268.6 439.7h0M269.6 441.1h0M271.0 443.0h0M271.0 441.8h0M271.4 439.2h0M271.9 442.0h0M274.1 439.9h0M275.2 442.3h0M272.8 440.8h0M272.7 439.4h0M274.5 442.7h0M277.1 442.3h0M277.6 442.6h0M278.0 440.5h0M276.0 440.4h0M283.8 442.6h0M282.3 442.6h0M280.7 443.0h0M284.3 439.1h0M280.9 443.2h0M281.0 439.9h0M283.0 439.8h0M266.4 438.3h0M264.2 435.6h0M263.9 436.1h0M265.3 435.8h0M266.8 434.9h0M269.4 438.2h0M271.0 437.5h0M267.8 435.5h0M268.0 435.3h0M269.8 438.4h0M269.9 438.9h0M267.8 434.8h0M270.8 436.7h0M268.2 435.7h0M270.4 435.9h0M270.8 434.8h0M271.4 434.7h0M273.5 436.2h0M275.3 437.3h0M272.2 438.1h0M272.0 436.9h0M273.4 436.0h0M272.7 438.6h0M278.2 435.9h0M275.9 436.2h0M276.3 435.2h0M275.7 437.5h0M278.1 438.5h0M278.5 435.2h0M276.8 438.9h0M278.2 434.8h0M277.0 437.9h0M278.1 438.9h0M280.2 436.0h0M282.6 437.5h0M283.4 436.7h0M283.5 435.6h0M281.9 434.7h0M283.3 438.6h0M265.6 432.5h0M266.1 432.4h0M262.9 433.3h0M264.4 431.1h0M266.0 431.4h0M265.4 430.4h0M264.8 430.3h0M266.9 431.5h0M266.2 433.2h0M269.8 432.8h0M268.4 430.7h0M270.0 432.9h0M269.3 432.6h0M269.9 433.2h0M270.9 433.4h0M275.3 433.7h0M274.0 433.5h0M271.5 433.2h0M275.4 434.4h0M272.9 433.2h0M273.1 433.1h0M272.5 433.7h0M271.6 433.4h0M279.8 430.9h0M276.0 432.6h0M277.0 434.4h0M277.0 431.6h0M280.0 431.5h0M280.7 430.8h0M282.9 430.3h0M266.6 427.6h0M263.3 427.7h0M265.6 428.4h0M263.4 430.1h0M266.9 429.0h0M265.9 430.2h0M266.9 429.1h0M265.4 426.7h0M263.4 430.0h0M268.3 429.5h0M270.0 427.5h0M267.4 430.2h0M271.4 426.7h0M272.3 426.1h0M275.1 426.6h0M273.5 428.4h0M278.3 428.3h0M276.9 428.9h0M276.7 426.0h0M279.2 429.9h0M282.9 430.1h0M281.5 428.3h0M281.2 428.1h0M282.1 428.4h0M282.8 426.9h0M280.5 426.3h0M288.3 443.4h0M288.1 443.5h0M289.1 445.5h0M292.0 447.4h0M296.6 444.7h0M299.6 446.4h0M297.8 443.9h0M303.7 447.1h0M284.9 442.0h0M286.2 439.5h0M287.6 440.3h0M284.5 440.3h0M288.3 442.3h0M292.9 441.6h0M289.2 443.1h0M291.1 442.2h0M296.3 439.4h0M305.8 441.1h0M303.3 442.9h0M302.6 442.8h0M286.8 437.1h0M285.7 435.5h0M286.5 436.5h0M284.6 435.8h0M287.9 434.7h0M292.7 435.3h0M291.5 435.3h0M293.0 436.9h0M289.0 438.5h0M289.5 438.6h0M294.5 434.9h0M293.2 436.2h0M301.2 436.0h0M299.4 438.1h0M288.5 431.8h0M284.5 433.2h0M288.4 434.4h0M292.3 432.4h0M296.0 431.3h0M294.8 432.3h0M293.7 433.1h0M295.2 431.8h0M287.3 429.7h0M284.6 430.0h0M287.3 428.0h0M289.1 429.7h0M295.2 429.3h0M296.0 429.5h0M295.5 428.2h0M293.3 429.4h0M296.8 428.9h0M297.2 428.3h0M300.7 426.9h0M304.3 428.2h0M305.6 426.7h0M314.0 444.4h0M324.5 443.9h0M306.6 440.9h0M313.1 433.7h0M85.8 467.8h0M79.0 463.2h0M81.9 460.9h0M73.5 457.6h0M72.7 459.0h0M79.1 458.5h0M80.9 457.3h0M82.6 457.1h0M78.1 453.4h0M87.3 455.5h0M80.1 447.9h0M82.4 449.4h0M87.5 449.8h0M98.7 465.6h0M106.2 469.0h0M106.3 468.1h0M93.6 464.9h0M99.4 464.0h0M98.4 461.3h0M104.2 462.6h0M110.0 464.0h0M93.3 459.0h0M95.3 460.1h0M94.3 458.2h0M100.2 459.9h0M102.9 457.5h0M103.7 457.8h0M92.3 454.8h0M89.7 450.1h0M90.6 449.4h0M99.7 448.9h0M98.2 448.4h0M102.3 452.0h0M117.3 465.5h0M117.6 469.3h0M118.5 467.7h0M119.2 469.0h0M128.1 467.3h0M131.0 467.4h0M129.0 467.8h0M130.2 467.7h0M132.4 468.9h0M112.6 464.3h0M114.7 461.8h0M115.5 462.3h0M115.6 461.0h0M126.3 462.7h0M125.6 463.2h0M125.8 464.5h0M132.3 463.0h0M128.6 457.6h0M131.7 460.4h0M119.8 452.6h0M122.5 454.4h0M122.8 454.9h0M127.0 455.1h0M126.9 454.3h0M124.3 455.7h0M128.4 452.1h0M112.7 450.4h0M124.2 451.2h0M135.7 469.3h0M135.5 468.1h0M138.9 467.0h0M145.3 467.1h0M142.8 466.4h0M143.9 469.1h0M148.2 466.9h0M149.9 469.2h0M149.7 466.6h0M151.2 467.3h0M154.2 465.4h0M152.1 467.7h0M136.6 464.4h0M134.4 464.1h0M145.2 463.6h0M143.9 464.1h0M150.1 462.7h0M133.2 457.1h0M135.0 457.3h0M139.5 456.8h0M137.4 459.6h0M138.0 456.9h0M144.9 458.5h0M142.8 456.4h0M141.4 460.6h0M152.7 459.8h0M152.5 457.7h0M141.6 452.9h0M142.0 455.4h0M145.7 452.7h0M147.3 452.3h0M154.1 454.9h0M151.3 455.7h0M150.5 456.2h0M137.4 449.4h0M146.9 449.8h0M146.1 449.3h0M153.7 450.0h0M150.0 448.2h0M150.4 450.8h0M159.1 468.5h0M159.0 467.2h0M163.5 469.1h0M166.3 469.2h0M166.4 466.9h0M166.1 465.9h0M166.0 466.9h0M168.1 467.5h0M167.9 466.5h0M167.5 467.1h0M172.3 467.2h0M173.0 469.1h0M175.2 465.5h0M174.2 465.4h0M172.3 466.7h0M172.3 469.3h0M174.9 466.1h0M154.8 461.5h0M156.1 463.5h0M156.2 464.7h0M159.6 461.9h0M159.6 464.6h0M166.3 462.7h0M168.8 460.9h0M167.4 463.9h0M168.4 461.6h0M171.4 461.2h0M175.9 460.7h0M156.6 457.6h0M155.0 458.8h0M158.1 459.4h0M160.6 457.6h0M165.2 457.3h0M166.3 459.7h0M162.9 457.7h0M169.8 457.5h0M168.3 458.5h0M170.7 460.3h0M170.0 457.9h0M174.9 457.1h0M158.0 453.1h0M156.4 453.0h0M158.2 452.3h0M155.2 453.3h0M154.7 452.9h0M160.7 455.6h0M159.4 452.3h0M164.3 456.0h0M162.9 454.6h0M166.0 453.5h0M164.8 453.8h0M166.9 454.5h0M165.8 453.0h0M166.5 453.3h0M168.7 456.0h0M175.4 455.5h0M172.6 452.9h0M175.4 455.3h0M173.3 452.3h0M174.7 454.7h0M174.9 453.0h0M172.9 453.8h0M157.0 451.2h0M156.9 450.0h0M157.8 449.7h0M160.7 451.1h0M161.1 449.5h0M165.0 449.4h0M163.7 451.4h0M167.9 451.2h0M169.6 447.8h0M167.9 450.4h0M167.7 448.5h0M171.0 449.7h0M170.7 447.8h0M175.7 452.0h0M175.8 450.3h0M172.1 451.6h0M177.4 469.1h0M178.9 467.4h0M176.7 466.0h0M178.4 466.5h0M176.4 466.3h0M177.6 468.0h0M180.4 467.9h0M187.3 467.3h0M187.5 467.5h0M185.4 465.4h0M188.7 467.6h0M193.1 465.4h0M190.3 467.1h0M196.0 467.6h0M194.0 467.5h0M194.1 465.2h0M197.1 468.8h0M195.7 467.3h0M180.2 460.9h0M179.0 465.1h0M181.3 463.9h0M184.0 463.2h0M184.1 461.1h0M180.7 461.7h0M188.6 464.1h0M186.4 462.0h0M186.0 464.6h0M186.6 462.9h0M191.2 463.7h0M191.5 461.4h0M190.7 461.0h0M194.8 464.1h0M196.7 461.3h0M193.6 461.5h0M197.6 463.9h0M197.5 464.8h0M194.9 461.4h0M177.2 458.3h0M179.1 458.0h0M183.7 460.3h0M183.3 460.7h0M181.2 457.2h0M187.0 458.3h0M187.0 458.0h0M187.6 456.9h0M185.3 460.1h0M186.1 457.7h0M188.6 457.3h0M186.6 457.9h0M192.1 459.7h0M197.3 457.1h0M195.0 458.5h0M179.9 454.6h0M179.0 453.9h0M177.5 455.9h0M178.6 452.3h0M180.1 453.8h0M177.1 454.9h0M181.9 455.5h0M180.8 455.8h0M180.9 452.5h0M181.2 454.0h0M186.1 455.0h0M186.2 455.6h0M184.8 454.2h0M189.5 455.8h0M193.0 454.1h0M188.9 453.1h0M189.6 452.7h0M194.3 453.0h0M177.9 451.9h0M177.2 448.3h0M180.3 451.8h0M180.7 451.5h0M183.8 450.5h0M182.8 450.0h0M182.2 451.6h0M184.3 448.1h0M186.2 450.2h0M186.6 450.6h0M193.0 450.4h0M192.3 450.7h0M192.9 448.2h0M197.6 451.1h0M194.9 450.8h0M198.4 465.2h0M200.3 467.6h0M198.9 466.2h0M204.4 466.8h0M203.9 467.0h0M205.3 467.5h0M208.2 465.1h0M209.8 469.2h0M208.7 465.1h0M206.4 466.6h0M211.1 465.4h0M213.9 468.4h0M213.3 467.9h0M215.7 468.6h0M217.8 467.0h0M219.0 469.4h0M216.5 467.5h0M216.7 467.9h0M217.1 466.7h0M215.3 468.5h0M217.9 469.3h0M201.4 463.2h0M198.8 463.6h0M202.1 463.3h0M204.5 464.6h0M203.9 463.4h0M206.9 461.1h0M208.1 461.9h0M208.9 461.4h0M206.5 463.2h0M213.9 463.1h0M214.3 460.9h0M211.8 462.7h0M214.6 462.4h0M213.3 461.5h0M213.3 463.0h0M214.7 463.8h0M215.6 460.8h0M215.9 461.7h0M200.2 457.0h0M201.7 457.2h0M201.7 458.4h0M202.6 457.2h0M206.2 459.4h0M202.5 460.5h0M203.6 459.1h0M204.3 458.7h0M207.5 460.3h0M208.1 456.8h0M206.7 459.4h0M206.4 459.4h0M211.8 458.6h0M212.2 459.5h0M213.3 459.4h0M213.3 459.9h0M213.8 460.2h0M218.2 457.7h0M218.7 457.2h0M217.0 459.8h0M217.3 460.6h0M216.9 458.3h0M215.7 456.5h0M201.9 452.6h0M200.8 454.2h0M199.2 455.6h0M197.7 453.2h0M201.2 452.4h0M203.9 453.4h0M204.1 455.1h0M202.5 456.2h0M204.6 454.3h0M205.9 454.0h0M208.7 456.0h0M207.2 453.6h0M209.5 452.2h0M214.5 455.6h0M211.0 452.3h0M213.0 452.1h0M210.8 452.2h0M213.7 455.2h0M216.0 456.0h0M219.0 455.5h0M218.2 455.5h0M198.1 448.2h0M200.8 450.1h0M198.6 448.0h0M203.3 448.3h0M202.4 448.0h0M203.2 450.3h0M208.6 447.8h0M211.8 449.5h0M212.6 447.7h0M216.1 451.1h0M215.3 450.5h0M217.3 451.3h0M223.3 466.4h0M219.5 467.7h0M219.4 469.0h0M221.0 466.0h0M222.2 467.9h0M223.5 468.2h0M221.2 466.4h0M223.5 468.1h0M220.9 467.9h0M219.7 465.4h0M219.7 466.0h0M220.5 468.9h0M227.9 467.8h0M227.9 468.9h0M224.8 465.9h0M224.8 468.1h0M226.5 466.2h0M225.4 469.4h0M226.3 466.6h0M224.3 467.6h0M224.7 465.6h0M224.5 466.8h0M229.6 466.1h0M230.8 466.1h0M230.8 466.7h0M231.9 468.0h0M229.4 466.7h0M230.4 469.3h0M230.4 468.6h0M229.7 467.1h0M231.5 467.7h0M229.4 469.3h0M228.0 467.0h0M228.8 469.2h0M233.1 465.9h0M233.2 466.9h0M233.8 468.0h0M233.0 468.2h0M232.5 468.7h0M233.5 466.9h0M240.6 465.4h0M238.7 465.7h0M237.4 469.1h0M237.2 466.9h0M237.9 467.4h0M239.3 466.7h0M238.0 465.9h0M240.5 467.6h0M219.5 461.7h0M219.5 461.9h0M220.9 462.2h0M219.7 464.2h0M219.8 464.0h0M219.8 460.8h0M219.6 463.6h0M223.2 461.2h0M222.7 464.3h0M223.2 463.1h0M220.9 461.4h0M219.5 464.9h0M222.2 460.9h0M224.6 461.2h0M226.9 460.7h0M227.7 460.9h0M225.6 461.1h0M225.6 463.6h0M227.4 464.6h0M224.0 461.1h0M225.8 462.7h0M223.9 462.0h0M229.6 464.1h0M230.0 464.1h0M230.3 464.9h0M229.7 464.9h0M230.0 463.0h0M231.1 461.4h0M230.6 463.9h0M232.9 462.6h0M233.9 461.5h0M236.4 461.5h0M235.8 462.1h0M233.6 462.7h0M237.7 462.4h0M238.6 462.9h0M237.4 463.1h0M238.2 463.6h0M239.4 463.3h0M236.6 461.4h0M240.0 462.0h0M240.5 464.6h0M238.5 461.8h0M222.4 459.1h0M222.2 459.7h0M220.9 457.5h0M222.9 457.4h0M222.6 457.4h0M223.5 459.5h0M222.3 456.4h0M222.3 457.9h0M226.6 458.6h0M227.6 458.9h0M227.6 457.4h0M224.6 458.5h0M226.5 460.2h0M227.0 459.2h0M228.9 460.3h0M231.8 458.3h0M230.7 457.2h0M230.2 460.4h0M234.7 458.1h0M235.7 457.9h0M232.5 457.1h0M236.5 459.0h0M234.3 460.3h0M240.1 460.0h0M237.3 457.0h0M239.2 457.5h0M236.8 460.7h0M222.2 452.5h0M220.6 455.8h0M222.3 456.1h0M225.2 452.5h0M226.8 452.7h0M226.6 455.1h0M225.4 453.1h0M225.1 453.0h0M229.9 453.4h0M231.9 452.8h0M228.2 453.9h0M231.0 455.6h0M229.5 454.3h0M229.6 453.5h0M231.4 456.4h0M229.8 453.1h0M236.2 453.0h0M232.6 454.5h0M235.6 453.2h0M232.8 455.6h0M233.5 453.9h0M233.1 456.2h0M234.1 453.9h0M233.2 453.3h0M235.2 452.7h0M237.6 454.2h0M239.2 454.8h0M239.0 453.1h0M236.9 456.3h0M239.3 455.3h0M236.7 454.3h0M222.0 449.3h0M222.5 450.4h0M228.7 452.0h0M229.6 451.9h0M231.7 448.9h0M231.8 447.7h0M228.2 448.8h0M231.5 448.5h0M229.3 450.6h0M234.5 448.5h0M233.5 447.9h0M233.4 448.9h0M236.2 450.4h0M236.0 447.7h0M232.5 451.2h0M233.7 448.9h0M233.4 450.4h0M240.0 450.3h0M240.1 451.9h0M240.8 450.8h0M238.3 449.2h0M245.1 465.2h0M242.7 467.0h0M241.3 468.9h0M242.6 467.9h0M245.4 468.5h0M248.7 468.7h0M245.4 468.8h0M247.0 466.2h0M248.1 467.2h0M245.6 466.5h0M247.1 466.9h0M247.9 465.1h0M245.8 468.2h0M251.6 465.7h0M249.7 465.7h0M253.1 467.4h0M251.4 467.7h0M252.4 466.4h0M250.3 468.3h0M255.5 465.2h0M256.4 466.8h0M256.2 469.4h0M260.8 468.9h0M259.8 466.3h0M260.3 467.2h0M258.3 466.1h0M260.0 467.7h0M244.7 463.2h0M242.1 461.1h0M243.6 461.4h0M243.2 464.4h0M242.7 464.5h0M249.3 463.5h0M246.9 465.0h0M246.8 463.1h0M246.6 463.0h0M246.1 462.8h0M252.8 465.0h0M251.1 463.8h0M251.6 462.4h0M250.2 461.9h0M252.9 461.8h0M251.3 461.7h0M250.3 461.8h0M250.0 464.2h0M255.7 460.8h0M254.8 461.8h0M256.1 462.6h0M254.0 464.7h0M258.1 462.7h0M258.3 464.0h0M254.8 463.4h0M256.8 463.9h0M262.6 462.3h0M262.1 461.7h0M261.1 462.4h0M262.2 463.2h0M258.7 464.2h0M259.1 461.0h0M261.9 462.5h0M260.9 462.4h0M244.1 457.0h0M245.2 458.3h0M243.5 456.5h0M243.7 457.9h0M242.4 458.2h0M244.4 457.2h0M245.3 459.1h0M241.9 458.3h0M244.0 457.6h0M242.1 456.4h0M248.5 457.9h0M249.2 456.9h0M249.3 458.9h0M248.3 457.4h0M249.2 456.5h0M250.5 459.6h0M251.0 460.1h0M253.5 460.4h0M252.8 460.7h0M252.8 457.2h0M250.8 460.5h0M251.0 457.8h0M249.9 459.3h0M255.2 458.3h0M254.4 460.7h0M256.6 456.4h0M257.6 456.7h0M255.1 457.3h0M256.4 458.3h0M258.3 458.5h0M256.9 459.3h0M256.0 456.8h0M254.4 457.7h0M257.1 458.0h0M254.8 459.7h0M260.2 457.6h0M260.6 458.8h0M259.8 459.3h0M258.7 460.7h0M258.5 459.7h0M261.4 460.6h0M259.3 460.6h0M258.9 458.7h0M242.0 452.2h0M242.0 454.2h0M242.5 452.9h0M243.1 455.4h0M243.2 455.4h0M243.7 455.8h0M243.3 455.5h0M242.7 455.4h0M246.5 454.2h0M247.4 456.3h0M249.4 455.9h0M247.3 452.7h0M247.4 454.1h0M247.8 453.9h0M251.6 452.7h0M252.0 453.4h0M252.4 454.9h0M252.9 452.1h0M250.7 453.8h0M251.8 456.1h0M253.6 455.4h0M252.2 455.4h0M255.7 455.3h0M254.5 454.5h0M257.1 455.5h0M254.7 456.3h0M255.0 453.0h0M257.2 452.8h0M254.9 453.7h0M257.8 452.8h0M257.2 454.7h0M261.5 455.5h0M259.1 456.3h0M260.0 454.3h0M260.4 452.6h0M259.3 452.5h0M261.3 454.4h0M262.5 453.6h0M262.6 456.3h0M259.0 454.9h0M260.0 453.7h0M261.1 454.2h0M262.2 454.2h0M243.2 452.0h0M244.2 448.3h0M244.0 451.8h0M241.6 448.0h0M241.5 451.6h0M241.2 449.4h0M241.3 447.9h0M249.2 447.9h0M245.5 448.6h0M248.5 448.3h0M245.6 449.7h0M246.7 449.4h0M253.3 450.2h0M250.2 447.9h0M251.3 450.4h0M250.7 450.7h0M254.4 449.0h0M254.9 448.0h0M254.5 449.9h0M256.9 451.9h0M255.8 449.3h0M259.5 450.5h0M261.8 449.4h0M262.2 449.9h0M260.3 449.6h0M259.4 451.3h0M261.4 447.7h0M262.3 448.6h0M258.8 452.0h0M262.0 448.6h0M259.6 451.1h0M259.2 448.7h0M262.6 450.3h0M265.3 467.3h0M264.8 466.1h0M270.4 465.1h0M269.2 468.8h0M271.3 467.2h0M267.5 465.4h0M273.5 467.3h0M272.1 466.2h0M275.4 467.1h0M276.7 468.1h0M279.8 465.6h0M277.3 467.1h0M283.5 466.5h0M283.6 468.6h0M263.4 462.0h0M264.4 461.7h0M263.0 461.1h0M264.4 461.8h0M265.9 461.8h0M269.0 462.0h0M267.8 463.6h0M270.9 461.0h0M274.9 464.0h0M274.1 462.0h0M274.2 462.3h0M271.7 464.7h0M277.2 462.4h0M276.5 463.7h0M275.7 462.2h0M265.6 458.2h0M263.8 460.6h0M266.6 458.6h0M263.2 459.0h0M266.6 456.9h0M265.7 459.3h0M266.8 457.5h0M265.8 459.5h0M267.6 458.1h0M269.3 457.5h0M268.1 458.5h0M267.7 457.7h0M267.7 458.6h0M270.8 456.9h0M273.9 460.2h0M275.4 460.2h0M275.5 459.9h0M280.2 456.8h0M281.6 459.7h0M283.6 459.8h0M284.0 458.8h0M281.2 457.7h0M266.2 453.2h0M264.9 453.8h0M262.8 453.8h0M264.7 455.2h0M262.7 452.2h0M269.1 453.3h0M271.1 454.1h0M270.0 453.2h0M267.3 455.2h0M268.0 454.5h0M269.6 453.6h0M275.6 454.1h0M274.2 455.9h0M273.0 452.7h0M272.2 456.0h0M275.0 455.4h0M273.9 453.2h0M273.7 454.3h0M278.0 455.4h0M279.0 452.4h0M279.9 455.1h0M279.1 455.9h0M281.2 453.1h0M280.2 452.6h0M282.9 454.6h0M280.8 455.9h0M263.1 450.4h0M265.4 448.4h0M264.5 447.9h0M265.8 447.9h0M265.4 451.0h0M266.8 452.0h0M262.9 450.8h0M263.2 451.3h0M264.5 448.8h0M266.4 450.7h0M266.5 451.4h0M268.3 451.6h0M270.2 452.0h0M267.1 450.9h0M271.2 451.2h0M273.1 448.2h0M272.6 448.4h0M279.9 447.8h0M277.6 449.0h0M283.3 449.0h0M281.1 447.8h0M282.3 447.9h0M283.1 450.2h0M287.7 467.2h0M295.7 466.5h0M284.4 462.1h0M284.8 461.7h0M287.1 461.6h0M287.2 457.1h0M285.9 456.6h0M289.4 457.9h0M290.9 456.6h0M290.6 460.0h0M299.7 457.7h0M305.2 457.5h0M293.1 453.0h0M288.7 449.3h0M292.3 451.9h0M293.8 448.7h0M296.5 447.9h0M297.0 449.5h0M301.7 450.7h0M304.5 450.4h0M310.8 457.4h0M310.1 448.2h0M74.6 489.0h0M72.9 487.0h0M81.1 488.9h0M88.4 487.1h0M87.7 487.2h0M69.7 485.1h0M78.2 485.1h0M80.0 484.9h0M82.9 484.2h0M87.7 485.1h0M73.9 480.3h0M77.6 481.0h0M79.0 480.6h0M82.1 481.1h0M71.5 476.0h0M76.6 476.9h0M95.2 486.9h0M93.8 489.1h0M95.2 487.6h0M98.5 490.3h0M101.6 489.0h0M95.7 485.6h0M101.2 484.2h0M102.5 483.5h0M91.9 480.7h0M97.6 480.0h0M99.4 481.8h0M90.0 475.5h0M94.9 473.8h0M97.3 474.1h0M93.7 475.4h0M104.1 476.4h0M103.2 476.0h0M110.5 475.2h0M90.8 471.2h0M90.3 472.9h0M96.1 472.6h0M99.8 471.4h0M105.9 470.5h0M111.2 489.5h0M119.1 489.0h0M116.3 487.0h0M121.1 489.1h0M125.6 490.6h0M129.6 490.2h0M129.4 488.3h0M112.7 484.4h0M121.2 483.5h0M129.8 483.7h0M129.7 485.6h0M129.6 484.8h0M113.3 479.3h0M119.1 479.3h0M116.6 479.3h0M119.8 478.8h0M120.5 480.8h0M126.2 481.9h0M124.5 481.8h0M130.0 480.2h0M132.4 479.9h0M112.7 477.9h0M114.1 476.2h0M116.9 476.6h0M123.5 475.2h0M126.9 475.1h0M124.6 477.3h0M110.9 470.6h0M115.0 471.8h0M115.4 469.9h0M116.4 473.5h0M122.6 471.3h0M119.6 471.4h0M127.5 472.9h0M132.1 470.8h0M133.1 490.0h0M132.9 487.1h0M136.5 490.3h0M140.5 488.7h0M140.3 490.3h0M140.3 489.5h0M139.1 487.6h0M145.2 490.6h0M145.2 488.4h0M146.0 487.4h0M147.2 489.0h0M148.6 487.2h0M148.1 488.2h0M149.0 491.1h0M150.4 487.8h0M151.5 487.8h0M136.3 484.5h0M133.1 484.9h0M142.1 483.2h0M148.0 486.2h0M148.9 485.3h0M151.2 483.2h0M150.9 484.5h0M133.0 480.9h0M145.0 482.1h0M145.1 480.3h0M143.3 480.1h0M148.0 478.8h0M152.9 481.9h0M150.8 479.7h0M138.9 474.0h0M144.9 477.2h0M141.3 474.6h0M148.1 474.9h0M146.8 475.5h0M133.6 472.8h0M134.7 472.0h0M136.0 473.4h0M140.3 473.4h0M144.9 471.1h0M143.6 471.8h0M148.2 473.7h0M148.2 470.1h0M147.5 472.7h0M148.8 472.4h0M163.5 490.3h0M165.4 489.1h0M169.1 489.0h0M170.8 488.5h0M169.1 487.5h0M170.3 490.1h0M170.5 489.6h0M174.0 489.5h0M172.2 488.7h0M173.3 491.0h0M171.8 488.5h0M173.4 488.0h0M174.7 487.8h0M156.5 484.0h0M155.3 485.3h0M158.6 483.6h0M162.2 482.8h0M162.7 482.9h0M159.6 484.7h0M158.6 485.1h0M167.1 486.4h0M165.9 484.6h0M169.8 485.1h0M168.9 483.5h0M173.8 484.9h0M172.7 486.8h0M172.2 483.1h0M172.8 483.0h0M156.0 480.0h0M155.6 482.0h0M157.4 482.3h0M162.1 481.7h0M159.9 479.6h0M166.1 479.7h0M167.3 479.7h0M173.0 482.2h0M172.6 478.6h0M174.9 480.4h0M172.0 482.3h0M173.8 479.8h0M174.0 479.8h0M173.9 479.9h0M154.3 475.1h0M156.8 474.3h0M156.8 478.0h0M156.3 477.2h0M158.2 476.7h0M154.7 474.8h0M157.6 477.4h0M161.4 474.9h0M166.2 475.4h0M163.2 474.0h0M167.2 477.0h0M164.9 476.6h0M168.9 474.7h0M171.1 474.2h0M168.1 476.3h0M167.8 476.9h0M175.6 476.6h0M175.0 476.3h0M172.6 475.3h0M172.0 475.5h0M171.7 474.6h0M175.8 476.6h0M172.4 474.4h0M175.7 476.3h0M175.8 476.6h0M154.9 471.9h0M157.2 470.2h0M154.7 470.3h0M156.7 472.6h0M155.6 473.7h0M154.3 469.8h0M162.0 470.8h0M164.7 471.8h0M165.0 471.7h0M164.9 473.3h0M163.8 472.0h0M163.9 473.3h0M163.7 473.6h0M164.4 473.1h0M170.5 473.7h0M168.0 471.6h0M168.2 472.3h0M170.2 471.1h0M168.5 470.7h0M172.7 470.7h0M175.3 470.0h0M172.8 470.3h0M171.8 473.4h0M179.4 489.0h0M178.1 487.8h0M177.1 487.5h0M179.5 489.9h0M178.9 488.1h0M179.1 491.0h0M183.9 489.7h0M184.0 487.3h0M181.4 488.9h0M183.7 488.6h0M187.0 491.0h0M189.0 491.1h0M191.6 490.8h0M191.6 490.5h0M193.8 490.5h0M195.3 487.6h0M195.8 488.5h0M175.9 484.6h0M179.5 486.4h0M179.9 484.2h0M180.7 484.0h0M183.1 483.6h0M182.9 485.8h0M182.5 484.2h0M181.6 485.8h0M183.7 486.3h0M185.1 485.4h0M186.3 483.2h0M188.7 485.9h0M185.1 486.0h0M185.4 486.4h0M185.2 486.4h0M187.1 484.3h0M185.9 483.3h0M192.2 486.2h0M192.6 483.4h0M190.9 486.7h0M191.4 485.3h0M194.4 482.8h0M196.8 482.6h0M193.7 483.5h0M195.7 484.9h0M197.4 483.3h0M177.5 481.3h0M179.1 478.1h0M179.1 481.4h0M178.0 480.9h0M180.9 478.2h0M185.0 479.5h0M188.5 479.1h0M187.4 479.3h0M185.7 482.0h0M189.0 481.3h0M193.0 479.8h0M190.4 481.5h0M192.8 479.3h0M194.6 482.1h0M197.4 480.9h0M194.7 478.8h0M197.0 479.6h0M195.0 480.1h0M196.3 480.7h0M179.0 477.9h0M177.6 474.8h0M177.2 476.3h0M176.2 476.7h0M177.4 477.1h0M176.7 478.1h0M182.9 477.4h0M181.0 475.5h0M183.4 476.5h0M181.8 474.2h0M180.4 474.5h0M182.8 476.0h0M188.3 477.2h0M187.9 476.2h0M186.2 474.8h0M186.1 476.3h0M186.9 475.5h0M188.2 474.4h0M193.6 476.9h0M197.0 474.0h0M197.0 475.0h0M194.3 474.1h0M193.3 475.6h0M195.1 475.1h0M179.3 472.9h0M179.5 469.9h0M177.4 473.7h0M177.2 473.7h0M179.2 473.1h0M178.4 472.0h0M176.9 473.2h0M181.2 473.5h0M181.6 472.3h0M184.2 472.1h0M187.2 472.4h0M187.6 470.1h0M187.9 473.5h0M185.1 473.1h0M191.5 470.2h0M189.4 472.4h0M194.8 471.4h0M196.6 470.0h0M196.8 472.4h0M194.0 470.2h0M193.6 469.8h0M196.0 472.7h0M194.4 473.3h0M196.7 470.4h0M201.7 488.8h0M197.9 489.2h0M199.6 488.3h0M199.7 491.0h0M200.6 490.0h0M198.0 487.2h0M203.2 489.8h0M205.3 488.6h0M209.4 490.4h0M210.2 486.8h0M208.0 490.8h0M208.3 490.7h0M211.7 488.0h0M213.8 489.4h0M212.8 489.8h0M211.9 490.6h0M211.6 490.7h0M212.6 490.2h0M214.1 487.0h0M214.8 489.7h0M218.4 489.9h0M218.8 486.9h0M198.1 485.6h0M200.6 485.0h0M199.4 484.5h0M198.0 484.4h0M201.9 485.9h0M198.8 484.0h0M198.7 486.6h0M203.3 484.2h0M204.5 484.9h0M203.1 484.4h0M202.5 484.6h0M206.7 484.3h0M207.0 484.6h0M209.6 484.4h0M214.0 484.1h0M210.8 485.0h0M213.2 482.6h0M215.5 483.3h0M216.2 486.0h0M216.0 485.0h0M218.9 484.1h0M217.2 486.1h0M217.0 485.8h0M218.9 484.7h0M199.6 479.1h0M201.4 480.4h0M201.9 481.2h0M199.9 480.6h0M198.6 482.1h0M198.2 480.5h0M201.3 481.2h0M200.1 478.8h0M203.1 479.4h0M205.6 478.4h0M202.5 479.4h0M202.7 482.1h0M206.7 481.7h0M207.1 479.0h0M206.6 480.2h0M209.6 481.9h0M209.4 481.3h0M206.9 479.9h0M206.3 481.6h0M213.6 479.5h0M214.8 478.5h0M210.8 482.0h0M211.3 478.3h0M213.1 479.4h0M212.3 478.7h0M213.2 482.2h0M212.4 478.5h0M213.6 479.3h0M219.0 481.5h0M219.1 481.4h0M215.7 482.2h0M201.9 474.1h0M200.5 477.9h0M200.5 476.3h0M198.1 475.5h0M200.7 476.9h0M198.6 474.4h0M198.2 476.9h0M199.5 478.0h0M202.2 477.3h0M206.1 476.4h0M202.0 474.9h0M206.1 475.0h0M206.0 476.1h0M202.7 474.4h0M203.9 474.2h0M206.2 474.7h0M204.3 477.5h0M208.4 474.7h0M207.1 477.2h0M210.1 474.8h0M210.3 476.5h0M209.8 475.8h0M209.3 473.9h0M210.5 477.8h0M209.8 477.3h0M207.1 476.3h0M212.3 476.5h0M211.7 477.7h0M211.2 476.2h0M213.0 477.3h0M211.8 473.9h0M214.0 474.7h0M214.9 477.7h0M215.4 477.4h0M217.2 473.8h0M217.2 477.8h0M215.0 477.7h0M218.2 474.4h0M217.0 475.8h0M215.9 473.9h0M218.9 474.3h0M218.0 478.0h0M198.8 471.8h0M199.6 470.5h0M197.6 469.7h0M201.8 472.3h0M206.1 473.7h0M204.1 473.1h0M205.2 470.9h0M205.2 472.4h0M208.3 471.0h0M210.5 470.8h0M210.5 473.2h0M206.8 473.7h0M210.4 473.6h0M211.1 470.8h0M213.7 470.5h0M211.8 470.0h0M214.1 470.8h0M215.7 473.6h0M216.7 470.5h0M216.6 472.8h0M216.4 472.7h0M221.1 488.0h0M223.6 489.2h0M220.8 490.3h0M221.9 489.9h0M221.3 487.3h0M222.6 490.9h0M225.5 489.8h0M225.0 489.9h0M226.3 489.5h0M224.8 487.7h0M227.4 488.6h0M229.1 487.6h0M230.0 491.0h0M230.5 491.0h0M228.6 487.6h0M232.0 488.8h0M235.8 489.3h0M233.1 490.7h0M232.5 487.7h0M238.9 490.9h0M237.0 487.5h0M240.4 490.5h0M220.0 485.6h0M222.2 484.3h0M222.2 483.5h0M222.4 484.0h0M219.4 486.8h0M227.1 486.7h0M225.8 486.7h0M226.2 483.7h0M227.0 485.1h0M225.6 483.2h0M226.0 486.1h0M225.3 483.7h0M226.7 482.8h0M227.4 484.2h0M225.6 486.1h0M225.4 484.7h0M228.5 483.5h0M231.6 486.1h0M229.0 484.6h0M232.1 484.6h0M230.9 486.4h0M236.0 484.1h0M233.1 483.8h0M232.5 485.3h0M233.8 485.2h0M240.7 483.1h0M237.9 486.3h0M237.9 483.3h0M238.4 483.0h0M220.1 479.0h0M222.1 479.4h0M225.8 482.4h0M225.4 480.1h0M224.9 478.7h0M225.5 479.4h0M229.6 478.3h0M230.8 479.1h0M228.5 480.2h0M229.7 478.3h0M231.1 480.0h0M233.8 479.0h0M233.3 481.7h0M232.7 482.1h0M236.3 479.4h0M233.8 481.0h0M233.2 478.2h0M232.6 481.7h0M234.2 481.7h0M232.7 481.2h0M236.2 479.5h0M239.5 482.2h0M238.0 479.2h0M239.1 480.7h0M239.7 480.3h0M240.0 481.2h0M237.5 481.8h0M239.6 479.0h0M236.7 479.9h0M238.2 480.1h0M222.8 475.7h0M220.7 475.3h0M220.2 475.9h0M222.5 477.7h0M222.8 475.0h0M221.3 477.4h0M221.4 475.6h0M223.2 475.4h0M222.9 475.6h0M219.8 474.5h0M221.9 477.4h0M227.4 475.6h0M226.6 478.1h0M227.3 477.6h0M231.5 474.3h0M228.9 474.8h0M229.1 477.1h0M230.3 476.9h0M229.2 474.4h0M230.6 476.4h0M230.0 477.3h0M229.8 474.9h0M234.7 476.7h0M233.4 476.9h0M233.0 477.8h0M240.7 474.1h0M238.6 474.2h0M239.2 478.0h0M239.9 476.6h0M237.3 475.9h0M222.5 469.8h0M221.6 473.5h0M223.4 471.3h0M223.3 472.7h0M226.7 471.0h0M225.2 473.4h0M227.4 473.1h0M225.6 472.1h0M230.8 470.9h0M231.5 471.5h0M230.7 471.6h0M231.7 472.8h0M231.6 472.2h0M228.0 471.2h0M232.3 471.1h0M228.8 471.9h0M231.0 470.9h0M235.8 470.5h0M233.1 469.7h0M232.4 471.5h0M238.3 469.7h0M240.5 473.5h0M238.8 471.0h0M238.6 473.3h0M245.0 487.7h0M242.8 487.4h0M244.0 489.8h0M241.5 487.8h0M250.7 488.2h0M253.8 489.3h0M254.4 488.7h0M254.5 487.9h0M260.5 489.2h0M243.7 485.8h0M243.4 483.5h0M243.9 482.7h0M244.6 485.3h0M247.9 484.5h0M248.2 482.8h0M248.3 484.5h0M247.1 485.5h0M246.9 483.2h0M250.1 485.4h0M257.8 482.7h0M258.6 484.0h0M241.8 481.4h0M241.7 482.2h0M241.4 480.5h0M241.7 481.6h0M242.4 481.2h0M241.8 478.2h0M243.6 480.6h0M241.6 482.1h0M248.6 482.4h0M247.5 479.9h0M248.0 478.2h0M252.3 478.2h0M250.6 480.6h0M251.3 479.1h0M252.7 479.8h0M251.8 481.4h0M254.5 478.8h0M255.5 479.3h0M254.1 481.5h0M255.7 479.0h0M259.0 478.4h0M259.5 482.0h0M242.6 476.3h0M244.2 475.1h0M243.7 476.0h0M245.0 477.2h0M241.6 475.2h0M247.5 475.0h0M246.6 475.2h0M247.1 476.6h0M251.5 476.5h0M251.7 474.9h0M253.0 476.4h0M251.7 474.1h0M253.8 476.7h0M256.3 475.8h0M254.4 477.9h0M259.1 477.4h0M262.1 478.1h0M262.4 476.0h0M241.8 470.8h0M245.1 473.1h0M241.0 471.2h0M241.5 471.4h0M243.2 470.2h0M244.0 473.2h0M242.2 473.1h0M247.5 471.1h0M248.1 470.0h0M251.3 469.9h0M253.5 469.5h0M252.3 472.0h0M256.0 470.5h0M258.0 470.3h0M260.0 470.8h0M261.3 470.1h0M259.9 471.0h0M259.3 472.7h0M259.5 471.5h0M268.6 488.7h0M282.4 489.3h0M270.4 478.2h0M269.0 478.4h0M274.4 478.4h0M263.0 475.6h0M264.6 474.0h0M266.3 476.7h0M267.8 476.0h0M270.7 475.3h0M278.5 475.2h0M277.6 475.1h0M282.1 476.3h0M280.0 475.4h0M268.0 470.7h0M268.6 471.4h0M270.5 470.9h0M274.3 472.9h0M276.9 473.8h0M279.3 471.0h0M286.7 488.9h0M296.3 490.0h0M292.3 481.5h0M291.5 476.3h0M300.1 470.0h0M324.3 483.2h0M69.1 508.8h0M71.1 510.5h0M78.3 512.5h0M83.8 508.9h0M86.4 509.6h0M76.0 505.5h0M86.7 507.8h0M71.3 502.7h0M73.2 503.1h0M70.0 496.4h0M70.6 496.9h0M73.8 497.5h0M79.4 496.0h0M80.3 499.7h0M84.5 498.5h0M80.6 494.2h0M93.7 510.1h0M97.6 511.8h0M98.0 510.1h0M90.6 507.5h0M93.4 508.1h0M94.0 507.6h0M97.8 507.8h0M104.8 504.8h0M104.9 507.2h0M106.1 506.1h0M110.3 507.9h0M99.6 500.7h0M104.2 503.8h0M108.8 504.0h0M89.4 495.6h0M96.8 496.6h0M101.3 496.6h0M105.0 497.3h0M104.6 499.0h0M109.8 498.2h0M109.7 499.9h0M107.4 499.8h0M93.9 493.1h0M97.3 492.2h0M98.6 491.7h0M99.7 493.4h0M102.2 493.5h0M101.4 492.7h0M107.8 493.4h0M112.2 511.2h0M112.2 512.0h0M114.0 511.1h0M116.8 509.2h0M123.1 511.1h0M129.3 512.7h0M128.6 512.4h0M130.5 512.1h0M114.7 508.0h0M116.0 505.6h0M116.5 505.1h0M117.6 508.6h0M117.8 507.3h0M115.9 504.5h0M116.8 508.3h0M121.7 506.1h0M122.6 506.0h0M124.5 505.1h0M132.0 507.9h0M130.2 507.4h0M112.9 501.9h0M114.0 500.2h0M119.5 502.3h0M120.5 501.9h0M122.6 501.6h0M124.7 500.7h0M127.8 500.3h0M132.3 500.1h0M112.8 498.2h0M118.7 497.3h0M122.7 499.3h0M121.0 495.9h0M124.1 498.9h0M126.7 495.8h0M128.8 499.7h0M131.6 498.1h0M131.0 495.9h0M113.3 494.7h0M114.6 495.1h0M110.9 492.2h0M114.3 494.3h0M114.3 495.4h0M124.8 491.8h0M128.2 492.4h0M128.9 492.4h0M135.0 510.7h0M135.4 511.2h0M136.4 509.2h0M136.4 510.7h0M136.1 511.3h0M136.8 511.8h0M134.4 510.4h0M139.7 509.3h0M144.5 512.5h0M142.1 512.3h0M141.8 510.3h0M145.4 512.6h0M148.1 509.9h0M146.1 509.1h0M153.0 509.7h0M135.1 504.9h0M134.9 505.0h0M132.8 505.7h0M134.8 504.8h0M134.0 507.8h0M136.5 504.4h0M136.3 505.4h0M139.4 508.1h0M141.0 506.4h0M140.9 508.6h0M138.9 507.4h0M140.3 506.8h0M140.9 504.4h0M149.7 506.1h0M152.3 506.3h0M152.9 505.5h0M150.3 507.8h0M151.1 508.0h0M152.7 506.6h0M138.7 503.3h0M146.1 500.9h0M153.0 500.3h0M152.1 500.5h0M136.4 496.6h0M133.4 499.6h0M134.9 497.0h0M136.1 497.6h0M134.9 496.5h0M140.3 499.9h0M144.3 498.4h0M144.9 496.1h0M144.0 498.8h0M148.5 499.8h0M146.8 497.9h0M149.5 498.9h0M150.8 497.0h0M152.6 498.2h0M151.2 496.2h0M134.6 493.3h0M133.0 494.2h0M134.8 492.0h0M136.7 491.7h0M137.1 492.3h0M137.9 494.3h0M145.4 493.3h0M144.8 491.7h0M142.9 491.7h0M146.6 495.3h0M147.2 495.0h0M146.2 494.9h0M149.4 491.5h0M148.0 493.9h0M148.2 495.0h0M148.6 495.3h0M152.8 491.4h0M156.8 509.0h0M157.1 510.7h0M162.6 510.0h0M160.4 509.5h0M159.7 510.0h0M164.1 510.5h0M164.5 511.5h0M163.0 508.9h0M165.8 512.4h0M163.7 512.6h0M169.9 508.7h0M167.6 510.7h0M168.2 509.8h0M168.0 512.2h0M168.2 510.1h0M172.4 512.8h0M172.5 512.2h0M174.7 509.0h0M173.1 511.7h0M173.4 511.2h0M174.6 512.5h0M175.8 509.3h0M174.0 508.8h0M155.7 505.6h0M157.7 506.5h0M162.7 506.9h0M159.3 506.4h0M161.6 506.4h0M161.0 505.7h0M160.2 506.5h0M162.7 506.8h0M158.6 504.3h0M160.3 505.9h0M166.6 505.9h0M165.5 505.5h0M167.1 505.0h0M170.8 508.2h0M168.6 504.4h0M169.3 505.3h0M167.5 506.3h0M169.3 507.3h0M174.0 507.3h0M174.0 504.5h0M172.2 504.3h0M157.2 504.0h0M154.6 501.5h0M156.7 503.2h0M161.4 500.2h0M162.7 501.0h0M162.5 500.6h0M160.3 502.8h0M163.3 501.8h0M164.0 503.0h0M164.9 503.5h0M163.0 499.9h0M167.2 503.7h0M170.5 500.8h0M168.0 502.2h0M168.6 500.1h0M175.0 501.6h0M160.8 498.8h0M162.6 495.6h0M161.5 495.6h0M162.0 498.8h0M161.5 496.6h0M165.6 499.2h0M164.1 496.4h0M170.3 495.7h0M172.2 497.4h0M175.1 496.7h0M155.1 492.7h0M154.7 492.4h0M157.7 493.9h0M161.0 491.6h0M160.8 491.6h0M162.1 493.3h0M160.6 493.9h0M165.1 494.2h0M165.6 494.3h0M164.4 493.4h0M166.7 494.4h0M169.4 495.4h0M170.1 494.9h0M170.0 493.1h0M167.3 493.3h0M167.9 494.4h0M174.7 493.0h0M171.6 493.4h0M173.2 495.5h0M171.9 491.5h0M177.3 512.6h0M178.8 510.2h0M176.7 512.3h0M176.6 509.7h0M176.0 510.1h0M177.4 510.4h0M180.8 512.1h0M182.8 510.9h0M184.4 512.8h0M183.0 509.4h0M181.4 509.8h0M182.9 511.1h0M182.6 509.1h0M187.7 508.6h0M188.0 509.3h0M188.0 511.6h0M187.8 512.6h0M187.2 509.9h0M189.1 510.5h0M189.1 511.0h0M192.9 510.3h0M191.1 510.4h0M191.5 509.8h0M194.8 510.3h0M194.4 510.9h0M194.1 508.8h0M194.4 511.0h0M194.7 511.5h0M176.3 505.9h0M179.8 508.3h0M177.5 505.8h0M178.5 505.1h0M177.2 506.8h0M182.6 506.4h0M183.7 508.0h0M182.6 507.7h0M182.5 506.9h0M182.0 506.2h0M184.9 507.8h0M188.2 505.9h0M186.6 504.3h0M187.1 506.7h0M184.7 504.3h0M187.3 506.9h0M191.0 507.3h0M192.8 508.6h0M192.1 507.3h0M192.6 505.4h0M192.9 507.7h0M189.4 508.5h0M194.0 505.3h0M194.0 505.8h0M193.7 505.8h0M194.6 507.2h0M195.9 504.8h0M194.1 506.7h0M177.3 503.7h0M177.4 500.2h0M179.2 501.5h0M179.2 503.5h0M183.0 501.9h0M182.6 502.8h0M184.6 502.1h0M181.2 502.2h0M184.2 503.9h0M182.9 501.1h0M181.9 502.2h0M182.3 500.6h0M187.6 501.7h0M184.9 501.8h0M187.0 500.2h0M186.6 502.7h0M185.8 503.0h0M188.7 500.2h0M186.2 502.2h0M190.9 502.3h0M189.2 500.7h0M192.9 501.3h0M194.8 503.5h0M194.3 501.9h0M197.6 500.0h0M194.7 502.0h0M197.4 501.7h0M194.1 500.2h0M196.7 504.0h0M177.9 498.6h0M176.5 496.6h0M181.0 497.8h0M182.6 499.7h0M182.5 499.1h0M182.0 496.1h0M180.4 496.0h0M181.0 499.6h0M183.2 496.3h0M181.1 496.9h0M186.0 496.2h0M187.7 496.1h0M187.9 495.9h0M188.2 496.6h0M185.1 498.2h0M188.0 496.9h0M193.2 499.8h0M190.1 499.4h0M192.4 497.6h0M195.8 496.2h0M197.3 496.7h0M194.2 499.9h0M195.3 499.7h0M194.5 499.5h0M178.3 494.0h0M179.9 491.7h0M176.5 492.2h0M178.3 491.5h0M181.7 492.3h0M182.9 492.8h0M182.6 494.4h0M181.8 491.7h0M181.2 491.8h0M180.6 491.9h0M184.8 494.4h0M188.3 492.7h0M186.0 491.7h0M184.9 494.6h0M189.3 491.9h0M191.3 494.2h0M190.7 492.5h0M197.1 493.4h0M193.8 494.7h0M194.1 491.4h0M195.3 495.3h0M201.5 509.1h0M199.4 509.9h0M197.7 509.8h0M198.0 512.1h0M201.8 510.8h0M200.1 509.8h0M200.1 509.0h0M198.4 512.4h0M198.7 511.9h0M202.6 511.5h0M202.6 511.2h0M205.6 508.6h0M204.2 512.9h0M205.8 511.7h0M209.5 512.0h0M210.3 510.6h0M207.5 511.9h0M210.1 509.7h0M213.1 512.6h0M211.3 508.7h0M214.7 512.1h0M218.4 509.1h0M215.7 512.7h0M218.7 509.9h0M215.0 510.3h0M217.3 508.9h0M200.8 507.1h0M200.3 506.2h0M201.6 507.3h0M200.4 505.8h0M199.6 506.1h0M204.0 507.7h0M203.9 504.9h0M205.5 504.4h0M210.2 506.0h0M209.1 505.1h0M208.4 507.5h0M206.7 505.3h0M208.5 504.9h0M210.1 508.6h0M206.4 505.3h0M208.6 506.9h0M207.4 505.4h0M209.5 506.3h0M208.3 504.9h0M212.6 506.3h0M210.7 507.2h0M214.5 507.6h0M212.3 508.0h0M211.7 507.5h0M217.1 505.6h0M216.6 507.9h0M215.2 508.5h0M217.7 505.3h0M217.9 508.3h0M218.3 508.0h0M217.0 507.4h0M218.2 505.1h0M203.0 501.5h0M204.7 501.8h0M203.6 501.6h0M207.9 504.0h0M208.7 503.6h0M206.4 502.6h0M210.2 503.2h0M209.4 503.4h0M208.7 501.3h0M208.2 501.9h0M210.0 503.1h0M206.5 501.2h0M206.6 500.5h0M207.4 502.7h0M211.7 500.9h0M213.5 503.0h0M214.6 500.2h0M211.6 503.0h0M211.1 504.1h0M213.7 501.8h0M213.1 504.1h0M213.3 502.3h0M218.1 500.2h0M216.7 503.2h0M217.3 500.6h0M216.3 503.5h0M216.0 503.9h0M216.2 501.3h0M199.4 498.4h0M199.5 497.3h0M201.1 496.2h0M200.8 499.0h0M198.7 499.5h0M203.9 499.7h0M203.4 498.7h0M205.1 496.8h0M203.0 498.6h0M210.1 496.9h0M210.3 498.5h0M210.1 497.8h0M208.7 498.3h0M209.2 495.8h0M209.0 498.0h0M209.3 497.9h0M208.3 498.2h0M208.0 496.3h0M207.0 495.8h0M208.4 496.8h0M210.4 498.7h0M212.1 499.7h0M212.4 497.0h0M216.5 499.5h0M215.1 497.0h0M217.9 499.8h0M215.8 496.2h0M218.7 498.1h0M215.3 497.1h0M218.3 497.5h0M201.9 495.1h0M200.8 492.1h0M200.9 492.5h0M201.4 492.6h0M198.6 493.6h0M198.9 493.6h0M197.7 495.4h0M206.2 491.2h0M203.0 493.5h0M203.0 492.7h0M202.4 493.6h0M202.1 494.9h0M202.3 492.1h0M208.9 495.5h0M208.7 491.9h0M206.6 494.1h0M210.3 492.3h0M210.0 494.6h0M208.4 492.9h0M206.4 494.6h0M207.6 491.5h0M209.3 493.8h0M208.1 491.2h0M209.3 493.3h0M208.9 494.3h0M213.2 491.6h0M213.9 492.8h0M214.8 491.7h0M213.5 491.4h0M211.5 492.4h0M211.0 491.3h0M213.0 491.4h0M214.7 493.3h0M217.7 492.1h0M222.4 509.7h0M226.2 510.3h0M227.3 512.8h0M223.7 511.7h0M224.1 510.7h0M225.7 510.1h0M230.7 511.0h0M231.1 510.7h0M228.9 508.6h0M236.8 510.2h0M237.5 509.5h0M219.4 505.7h0M221.0 506.3h0M222.8 506.6h0M226.2 505.1h0M225.5 506.8h0M225.6 505.9h0M231.5 504.9h0M229.5 505.2h0M232.6 506.8h0M234.7 505.2h0M233.9 504.3h0M235.4 504.4h0M237.7 507.1h0M238.2 504.7h0M236.8 507.0h0M239.7 505.3h0M219.6 501.8h0M223.0 500.6h0M220.2 501.7h0M222.7 501.2h0M220.0 501.4h0M221.7 501.3h0M221.9 503.4h0M224.0 502.6h0M225.8 500.1h0M223.7 503.7h0M224.3 500.5h0M226.1 504.2h0M223.8 501.5h0M228.2 500.5h0M228.3 504.2h0M233.2 502.8h0M238.5 502.5h0M236.8 502.7h0M223.6 496.3h0M220.4 497.9h0M222.8 495.7h0M224.4 499.0h0M225.3 496.7h0M227.5 497.5h0M227.3 497.0h0M225.9 497.1h0M225.0 499.0h0M225.1 496.6h0M226.1 499.8h0M229.3 496.9h0M235.6 499.1h0M235.6 497.2h0M239.9 496.3h0M221.9 491.4h0M220.8 493.3h0M220.5 494.4h0M220.4 492.9h0M221.9 495.4h0M227.6 493.6h0M223.7 491.5h0M227.5 493.6h0M226.4 494.6h0M224.8 493.6h0M226.2 492.0h0M230.2 493.5h0M230.6 495.5h0M230.6 495.1h0M235.7 493.0h0M234.7 491.6h0M234.3 491.3h0M235.7 493.2h0M233.9 492.9h0M236.6 491.3h0M236.7 493.3h0M237.5 494.0h0M240.6 493.8h0M239.1 491.6h0M236.9 495.4h0M249.8 511.7h0M257.8 511.9h0M244.8 505.4h0M241.1 504.7h0M249.5 506.7h0M250.4 506.8h0M251.1 508.4h0M249.8 508.1h0M254.6 508.4h0M254.3 506.1h0M262.4 507.2h0M242.1 500.5h0M246.9 502.4h0M255.3 501.6h0M262.1 501.9h0M261.2 500.5h0M244.2 496.8h0M248.9 498.1h0M247.5 497.3h0M250.4 499.8h0M251.4 495.7h0M256.5 496.5h0M261.9 499.6h0M259.9 496.1h0M242.4 493.9h0M241.8 493.7h0M244.3 492.7h0M246.3 492.6h0M248.1 491.2h0M251.6 491.7h0M253.1 494.8h0M255.2 491.8h0M255.6 494.8h0M260.9 493.6h0M261.7 494.4h0M266.3 512.4h0M267.9 510.5h0M265.4 505.7h0M269.8 504.6h0M269.2 505.1h0M279.3 504.3h0M280.0 503.6h0M265.9 498.3h0M265.8 496.7h0M270.7 498.4h0M272.8 495.8h0M278.3 497.2h0M265.3 492.3h0M276.3 494.5h0M289.4 501.1h0M291.2 499.0h0M293.5 499.9h0M294.8 492.7h0M299.4 495.3h0M72.0 533.8h0M72.6 532.9h0M76.0 531.8h0M77.2 531.1h0M70.1 526.1h0M73.6 527.4h0M69.3 523.6h0M73.5 522.2h0M79.9 523.9h0M78.9 521.8h0M69.0 518.0h0M70.1 517.9h0M69.2 518.1h0M76.2 518.6h0M87.5 520.0h0M71.1 516.0h0M75.4 515.4h0M76.2 516.5h0M86.9 513.4h0M85.6 516.3h0M93.4 532.2h0M90.2 531.4h0M98.5 533.5h0M101.1 532.0h0M105.1 533.0h0M104.6 532.8h0M105.4 534.5h0M106.7 533.6h0M106.7 530.4h0M89.7 529.2h0M92.4 529.5h0M94.6 530.0h0M93.6 529.6h0M98.9 528.5h0M100.8 528.7h0M105.4 526.3h0M103.3 529.1h0M109.5 526.6h0M91.4 522.1h0M91.6 525.6h0M92.5 523.9h0M96.4 521.9h0M100.8 522.9h0M99.1 522.7h0M104.9 524.0h0M95.6 521.0h0M99.5 519.5h0M100.4 519.8h0M104.5 521.6h0M104.6 518.9h0M107.5 518.2h0M110.7 518.4h0M90.3 513.4h0M92.1 516.3h0M90.3 513.5h0M99.9 516.4h0M104.5 516.9h0M102.9 514.3h0M108.5 513.8h0M111.4 534.4h0M114.5 532.8h0M114.2 530.7h0M111.2 530.8h0M113.4 530.5h0M111.7 531.2h0M114.1 531.9h0M117.9 532.1h0M115.3 534.7h0M115.4 531.3h0M116.8 534.2h0M118.5 534.2h0M121.3 531.6h0M121.0 530.7h0M122.5 533.6h0M125.6 532.0h0M126.3 530.4h0M132.3 531.1h0M131.7 533.7h0M131.6 533.8h0M128.7 530.4h0M115.1 530.2h0M117.5 527.6h0M115.4 528.9h0M115.9 530.1h0M117.8 530.2h0M121.6 527.5h0M128.9 528.6h0M130.8 527.2h0M128.3 530.3h0M131.8 527.1h0M112.0 523.1h0M117.0 522.8h0M118.5 525.6h0M122.4 525.9h0M121.0 522.4h0M123.0 522.5h0M124.2 522.2h0M125.7 525.4h0M124.0 525.7h0M126.5 523.7h0M128.0 522.6h0M129.9 521.9h0M131.6 525.9h0M112.6 520.1h0M117.1 518.2h0M117.9 518.6h0M118.7 520.6h0M116.5 520.4h0M119.6 518.9h0M122.3 517.6h0M120.1 521.0h0M123.3 520.4h0M122.2 519.4h0M122.6 517.8h0M127.3 517.9h0M132.1 520.2h0M132.3 521.1h0M131.5 521.3h0M131.6 520.1h0M113.3 513.9h0M119.5 516.1h0M119.1 516.4h0M121.6 515.0h0M120.1 513.9h0M121.9 516.1h0M120.2 516.3h0M127.1 516.4h0M131.8 514.0h0M129.5 513.2h0M134.6 533.7h0M134.0 532.7h0M136.7 531.4h0M133.0 534.3h0M134.0 534.4h0M140.3 534.4h0M140.8 530.7h0M145.0 531.0h0M144.4 531.9h0M145.0 533.4h0M144.6 531.1h0M142.5 533.2h0M143.6 530.8h0M146.6 534.5h0M149.9 531.1h0M146.0 531.2h0M149.4 534.2h0M146.2 530.8h0M154.0 533.1h0M136.1 528.0h0M136.1 527.9h0M133.0 528.2h0M133.4 530.2h0M134.3 526.7h0M138.1 526.2h0M140.4 526.5h0M137.9 526.5h0M140.1 530.2h0M139.3 528.8h0M141.7 527.9h0M142.7 528.8h0M142.8 528.1h0M141.4 529.2h0M144.0 529.3h0M147.7 527.6h0M146.8 527.2h0M146.7 528.6h0M147.4 530.2h0M153.5 530.2h0M153.7 529.9h0M150.6 528.1h0M152.9 529.8h0M150.8 529.5h0M149.9 527.2h0M133.3 522.8h0M136.5 523.5h0M138.2 524.6h0M140.1 525.0h0M138.8 524.3h0M142.8 522.2h0M141.5 524.4h0M142.1 524.8h0M142.8 522.3h0M146.2 525.1h0M145.7 524.0h0M148.3 524.7h0M149.1 522.7h0M150.8 522.8h0M153.3 524.7h0M152.3 522.5h0M152.0 525.0h0M153.6 522.5h0M151.3 523.9h0M132.6 517.5h0M136.7 518.7h0M139.2 520.8h0M139.0 519.5h0M140.0 521.7h0M138.5 519.8h0M143.5 521.5h0M146.6 520.2h0M146.4 520.3h0M148.1 521.1h0M145.6 519.9h0M149.4 520.9h0M133.8 516.5h0M134.6 513.1h0M134.4 513.0h0M133.8 514.7h0M138.5 515.9h0M139.7 515.3h0M141.0 513.4h0M144.0 515.9h0M143.5 514.9h0M144.1 515.9h0M141.4 515.3h0M143.7 513.3h0M149.0 514.4h0M148.9 513.9h0M145.7 514.0h0M148.3 513.8h0M148.0 515.1h0M154.2 513.0h0M151.4 516.1h0M152.5 513.3h0M157.6 530.7h0M158.1 531.1h0M157.8 531.9h0M158.7 534.4h0M161.6 533.6h0M161.2 533.0h0M162.1 532.1h0M159.1 531.2h0M160.3 531.1h0M163.2 534.1h0M165.7 533.2h0M164.1 532.8h0M165.1 533.4h0M166.8 530.4h0M165.5 534.5h0M167.0 533.7h0M169.5 531.0h0M170.2 534.3h0M169.3 533.3h0M168.8 534.2h0M170.5 532.8h0M170.1 530.8h0M169.6 534.1h0M168.9 534.4h0M168.6 532.1h0M171.9 532.7h0M175.1 532.7h0M175.3 530.7h0M174.8 530.5h0M175.9 533.2h0M173.3 533.6h0M171.8 530.4h0M172.7 533.4h0M157.1 527.4h0M158.4 528.5h0M157.0 526.7h0M155.7 529.3h0M155.9 529.1h0M154.3 529.4h0M154.6 528.5h0M156.7 526.3h0M159.0 530.1h0M159.3 528.4h0M160.6 526.5h0M160.6 526.6h0M161.9 527.2h0M160.5 527.4h0M158.6 529.9h0M160.0 526.6h0M167.0 526.4h0M164.2 526.7h0M163.0 527.4h0M163.5 526.4h0M167.9 526.2h0M170.0 526.1h0M171.2 530.2h0M170.7 526.4h0M169.9 529.9h0M169.4 528.5h0M169.3 527.0h0M173.7 527.7h0M175.3 528.9h0M174.3 529.5h0M174.8 527.3h0M156.9 524.4h0M158.0 525.8h0M156.7 525.2h0M156.3 524.9h0M161.8 524.9h0M159.1 522.7h0M161.5 521.7h0M161.6 522.4h0M161.5 522.4h0M162.6 522.6h0M160.1 522.2h0M161.9 522.2h0M160.9 523.9h0M159.9 525.9h0M165.7 524.1h0M164.8 524.1h0M167.7 522.9h0M169.8 524.2h0M167.8 525.1h0M171.3 525.2h0M173.9 525.7h0M172.4 524.9h0M174.8 523.7h0M173.6 521.7h0M172.3 524.7h0M175.6 523.2h0M175.2 523.3h0M157.4 520.5h0M156.2 520.3h0M157.0 518.7h0M156.2 517.8h0M156.5 518.0h0M160.0 519.3h0M159.0 518.3h0M160.6 518.5h0M160.1 520.7h0M160.8 520.8h0M159.1 520.8h0M165.7 518.9h0M164.4 517.8h0M163.5 520.4h0M163.2 519.3h0M165.6 517.5h0M165.3 520.5h0M163.2 519.4h0M164.8 519.0h0M163.1 517.4h0M171.1 520.0h0M171.0 518.6h0M168.7 517.9h0M173.2 520.1h0M172.7 520.6h0M172.6 520.4h0M174.1 521.0h0M173.0 517.7h0M175.4 520.7h0M173.1 520.6h0M158.3 513.4h0M155.0 515.1h0M161.9 516.8h0M160.3 514.0h0M161.0 513.9h0M159.9 513.8h0M159.4 516.5h0M162.0 513.5h0M159.7 515.6h0M162.5 515.5h0M162.1 513.6h0M162.8 515.4h0M160.3 514.1h0M163.0 514.3h0M165.1 515.6h0M165.1 514.8h0M163.7 516.5h0M164.4 515.6h0M168.6 513.1h0M170.7 514.2h0M171.2 513.6h0M170.1 514.0h0M174.3 515.3h0M172.3 514.3h0M174.7 514.9h0M173.6 517.3h0M175.6 515.3h0M174.7 516.4h0M172.0 514.1h0M179.0 530.5h0M179.5 531.3h0M178.6 534.1h0M176.0 532.3h0M178.4 533.1h0M183.6 533.7h0M182.2 532.6h0M182.3 530.6h0M183.8 531.7h0M183.6 533.4h0M184.1 531.5h0M185.6 532.9h0M184.8 534.4h0M184.7 533.3h0M186.0 532.8h0M185.6 534.6h0M185.1 531.4h0M193.0 531.1h0M191.4 533.2h0M192.1 531.7h0M190.6 531.9h0M197.1 534.0h0M195.0 532.2h0M178.9 527.0h0M178.3 529.9h0M178.8 528.8h0M176.3 528.6h0M183.3 530.2h0M182.8 530.2h0M182.1 529.6h0M182.1 530.2h0M183.3 529.6h0M181.9 529.8h0M182.8 530.0h0M183.0 529.2h0M183.7 527.1h0M183.8 527.3h0M181.7 526.9h0M182.1 528.6h0M188.7 528.3h0M186.0 527.2h0M185.5 526.5h0M186.9 529.2h0M186.4 528.5h0M187.9 529.3h0M188.3 528.4h0M188.5 529.2h0M191.3 528.6h0M193.2 528.9h0M193.0 528.3h0M189.0 526.8h0M191.9 528.2h0M189.7 527.5h0M189.2 527.5h0M194.0 530.2h0M194.1 528.1h0M194.2 529.6h0M196.6 527.0h0M177.7 525.3h0M178.7 522.8h0M179.2 525.9h0M178.2 522.8h0M176.4 525.6h0M182.7 524.8h0M180.7 523.0h0M183.6 522.7h0M181.6 524.7h0M183.8 525.5h0M181.0 524.7h0M186.8 524.3h0M184.9 525.7h0M186.6 523.7h0M185.0 522.0h0M185.3 525.3h0M187.2 525.4h0M189.3 523.6h0M190.9 525.8h0M191.1 524.2h0M194.9 523.5h0M176.1 521.5h0M176.8 519.1h0M180.2 521.6h0M178.0 519.0h0M176.9 520.8h0M180.7 520.9h0M184.5 520.4h0M182.7 521.3h0M180.5 521.6h0M183.6 518.3h0M185.2 518.5h0M187.2 521.5h0M187.9 517.8h0M188.4 520.1h0M186.2 520.0h0M185.4 520.0h0M187.9 518.4h0M185.4 518.0h0M188.5 519.2h0M188.3 518.3h0M189.3 521.6h0M190.3 518.8h0M190.0 521.2h0M189.6 520.9h0M190.3 521.4h0M191.9 518.8h0M191.2 518.1h0M190.6 518.9h0M192.5 517.8h0M193.3 518.7h0M196.8 520.5h0M195.5 520.6h0M176.6 516.0h0M178.8 514.9h0M176.8 513.9h0M179.8 517.3h0M176.1 516.9h0M176.3 515.2h0M176.7 514.3h0M182.1 513.9h0M180.7 515.6h0M180.8 515.1h0M183.7 514.6h0M181.1 514.7h0M183.0 516.4h0M182.9 516.5h0M186.4 515.4h0M188.4 517.0h0M188.1 515.6h0M185.4 516.6h0M185.4 517.1h0M184.7 515.3h0M186.2 514.2h0M192.2 513.1h0M189.2 516.8h0M189.3 515.8h0M189.8 514.5h0M190.8 513.4h0M191.7 516.0h0M189.2 513.6h0M190.5 515.9h0M189.4 515.7h0M192.2 515.2h0M197.2 513.3h0M193.5 513.4h0M193.5 513.9h0M194.3 514.3h0M193.7 517.1h0M195.3 517.0h0M196.6 516.9h0M195.6 516.9h0M198.9 534.3h0M198.0 531.4h0M197.7 533.6h0M201.6 531.9h0M204.7 530.9h0M203.9 532.7h0M203.0 531.2h0M206.2 532.2h0M204.8 533.1h0M209.2 534.6h0M210.3 534.1h0M212.9 531.4h0M215.7 530.9h0M218.2 533.4h0M201.1 526.6h0M198.9 527.8h0M197.8 526.4h0M202.7 528.6h0M204.1 528.7h0M203.5 530.2h0M205.2 530.2h0M203.3 529.3h0M207.4 528.2h0M210.1 526.7h0M208.1 529.4h0M209.8 528.8h0M214.2 526.1h0M212.1 527.7h0M212.3 527.4h0M211.8 528.2h0M214.9 529.2h0M218.0 527.4h0M217.1 526.5h0M217.3 529.0h0M216.9 527.1h0M200.0 523.7h0M199.8 523.0h0M201.0 524.2h0M198.2 523.0h0M204.3 525.5h0M204.1 523.0h0M214.5 522.4h0M214.0 523.6h0M214.2 525.2h0M218.0 524.4h0M218.2 524.5h0M216.9 525.8h0M201.4 518.8h0M201.2 521.5h0M202.9 518.0h0M205.2 520.7h0M204.7 518.2h0M204.0 519.0h0M208.7 521.0h0M206.8 517.7h0M210.4 518.3h0M211.3 517.9h0M211.0 518.1h0M213.4 519.7h0M215.1 520.8h0M218.2 520.7h0M217.3 517.6h0M197.7 516.7h0M201.3 517.2h0M198.0 517.3h0M198.2 516.8h0M205.7 515.7h0M207.6 514.1h0M209.3 514.5h0M207.8 514.4h0M206.8 515.5h0M208.4 515.0h0M215.5 516.3h0M215.4 515.0h0M218.0 515.2h0M221.9 531.6h0M221.3 531.1h0M223.0 533.0h0M225.0 531.8h0M224.9 533.6h0M226.2 530.6h0M236.4 530.4h0M232.6 530.4h0M239.7 530.5h0M239.7 533.2h0M221.2 528.1h0M225.0 529.2h0M225.7 529.5h0M231.5 526.3h0M235.2 528.8h0M237.0 529.7h0M238.4 528.3h0M220.3 525.8h0M220.3 525.8h0M228.7 522.2h0M231.6 522.3h0M238.5 525.1h0M222.9 519.1h0M227.2 518.2h0M224.7 518.1h0M223.7 519.7h0M223.9 519.5h0M231.2 519.6h0M232.4 518.5h0M237.2 519.7h0M238.0 519.0h0M219.3 515.2h0M219.3 516.4h0M224.8 514.1h0M223.9 514.9h0M224.0 516.7h0M228.5 514.3h0M230.5 514.7h0M229.6 516.5h0M229.2 515.8h0M229.9 513.2h0M237.5 515.2h0M239.7 516.4h0M239.9 515.6h0M238.8 513.4h0M244.8 533.3h0M247.8 534.6h0M261.0 533.3h0M260.7 526.4h0M243.9 523.7h0M242.8 522.0h0M245.2 525.7h0M241.9 522.0h0M258.8 524.1h0M246.2 518.5h0M248.7 521.6h0M255.8 517.6h0M259.8 520.4h0M251.7 514.5h0M268.7 529.1h0M278.8 529.0h0M264.3 523.1h0M266.1 523.0h0M262.9 518.7h0M269.5 519.4h0M282.5 520.8h0M263.1 515.2h0M271.7 514.9h0M279.6 515.3h0M285.9 528.5h0M304.4 529.6h0M284.7 522.7h0M290.3 517.0h0M70.8 555.9h0M70.3 552.2h0M79.2 552.2h0M79.8 553.2h0M87.5 552.4h0M88.2 555.6h0M86.0 556.1h0M86.6 556.1h0M68.7 548.0h0M74.5 551.9h0M80.8 550.2h0M84.4 548.0h0M82.3 549.6h0M80.0 547.2h0M77.2 546.8h0M83.1 544.7h0M85.5 547.4h0M83.0 540.9h0M70.3 538.3h0M89.0 537.5h0M91.2 552.9h0M90.3 554.7h0M90.6 556.3h0M89.3 554.5h0M93.2 554.1h0M95.5 556.4h0M95.0 554.8h0M96.7 552.9h0M101.1 553.0h0M100.2 556.0h0M104.9 554.0h0M105.5 556.1h0M109.8 552.8h0M109.6 554.3h0M108.0 555.7h0M110.6 555.7h0M89.6 548.0h0M90.0 551.0h0M97.9 548.0h0M95.8 548.5h0M93.5 547.9h0M94.5 547.8h0M95.3 549.7h0M99.3 550.6h0M101.3 551.8h0M102.0 549.3h0M99.5 550.7h0M103.7 548.7h0M106.3 549.1h0M102.8 549.5h0M103.4 549.7h0M110.4 550.5h0M108.8 550.2h0M109.7 550.8h0M110.4 550.7h0M90.6 547.5h0M97.7 544.9h0M98.6 544.5h0M99.6 543.6h0M105.9 545.0h0M104.3 543.6h0M91.2 540.4h0M93.9 542.3h0M94.0 539.6h0M101.6 542.0h0M100.7 542.0h0M99.4 539.1h0M102.9 542.0h0M104.5 539.5h0M103.9 539.4h0M108.1 540.5h0M107.4 540.0h0M110.7 541.4h0M90.6 535.0h0M96.2 538.4h0M101.5 538.7h0M100.0 535.3h0M98.6 538.2h0M100.9 535.0h0M106.3 535.7h0M105.2 537.2h0M103.1 537.9h0M104.8 536.8h0M109.1 536.1h0M110.7 536.8h0M113.7 553.8h0M112.7 553.0h0M116.9 556.0h0M117.1 553.7h0M118.4 553.9h0M118.9 553.1h0M119.9 555.5h0M119.6 555.5h0M122.0 552.8h0M121.0 552.5h0M119.8 553.3h0M124.7 553.4h0M125.4 554.7h0M124.7 554.0h0M127.1 554.5h0M126.5 553.7h0M126.1 555.5h0M125.4 553.4h0M124.4 552.8h0M128.8 552.9h0M131.6 552.8h0M131.4 554.5h0M129.0 555.1h0M112.7 549.2h0M111.5 548.6h0M110.9 550.3h0M112.8 550.6h0M113.2 550.8h0M113.1 548.3h0M116.4 548.3h0M116.2 549.2h0M118.8 550.1h0M117.8 548.4h0M121.6 550.7h0M122.3 549.5h0M120.0 551.2h0M121.8 550.8h0M125.8 549.3h0M126.6 551.5h0M125.5 551.5h0M127.6 547.9h0M125.3 549.1h0M125.3 548.7h0M127.7 550.5h0M124.8 550.1h0M126.5 548.0h0M125.2 548.7h0M128.8 549.3h0M128.8 549.0h0M129.2 551.0h0M131.9 550.8h0M130.3 548.9h0M129.8 551.1h0M128.3 547.8h0M129.3 550.0h0M131.8 550.5h0M130.4 548.9h0M128.2 547.9h0M131.4 550.7h0M111.5 546.2h0M114.7 546.3h0M111.3 543.4h0M113.2 547.5h0M114.1 546.5h0M111.3 544.7h0M113.0 545.5h0M115.7 545.1h0M115.6 546.6h0M117.1 546.4h0M117.5 547.0h0M117.0 546.2h0M123.2 545.8h0M120.5 545.4h0M123.2 545.6h0M121.7 545.8h0M119.8 545.7h0M126.9 547.6h0M126.4 543.5h0M126.2 544.8h0M124.0 547.2h0M131.6 546.0h0M114.2 540.8h0M114.8 542.9h0M117.1 541.7h0M116.3 542.5h0M123.4 542.8h0M123.7 543.2h0M120.9 539.8h0M120.1 540.6h0M122.7 539.4h0M120.6 540.1h0M121.6 543.2h0M123.8 539.3h0M121.5 540.4h0M127.6 541.9h0M130.7 543.3h0M129.8 543.3h0M113.9 538.4h0M113.5 536.5h0M112.5 535.3h0M116.3 535.0h0M117.1 535.2h0M116.8 538.2h0M115.4 535.8h0M119.3 537.6h0M118.0 537.9h0M120.4 538.6h0M123.0 537.1h0M123.7 537.3h0M123.2 537.0h0M124.6 537.4h0M124.8 536.2h0M125.1 538.8h0M126.6 537.6h0M125.1 536.3h0M125.1 535.4h0M129.9 535.4h0M129.1 538.8h0M129.8 534.9h0M130.8 534.9h0M134.8 554.8h0M133.2 556.1h0M136.6 552.5h0M136.9 555.3h0M133.2 552.6h0M139.9 556.2h0M140.0 554.7h0M137.0 556.4h0M137.0 556.1h0M139.4 555.5h0M140.4 553.8h0M139.3 553.9h0M141.8 553.6h0M144.4 554.1h0M143.4 554.8h0M148.5 553.7h0M149.6 554.8h0M149.3 554.0h0M149.3 555.6h0M147.6 552.8h0M153.1 554.6h0M152.3 553.1h0M150.5 554.0h0M152.1 554.1h0M153.2 553.6h0M152.2 553.3h0M152.1 555.0h0M150.3 553.9h0M151.3 552.9h0M153.5 553.4h0M154.1 555.8h0M153.0 554.3h0M132.7 551.7h0M135.8 548.2h0M134.6 552.0h0M134.7 549.6h0M136.5 549.5h0M134.5 551.3h0M137.5 551.1h0M137.1 551.0h0M138.4 549.6h0M139.7 548.7h0M139.2 551.8h0M143.7 551.5h0M144.8 549.7h0M145.6 550.8h0M147.5 549.8h0M148.7 548.7h0M148.1 547.9h0M149.2 548.3h0M147.1 549.5h0M149.2 550.5h0M145.9 548.1h0M151.6 549.6h0M150.7 551.6h0M154.1 549.3h0M152.4 550.4h0M151.7 551.6h0M153.9 551.3h0M150.1 550.9h0M136.5 545.7h0M134.0 547.4h0M133.3 544.7h0M134.2 547.6h0M135.6 546.8h0M133.7 543.4h0M133.0 545.0h0M134.6 544.3h0M134.5 544.3h0M140.5 544.9h0M140.2 547.6h0M138.1 543.7h0M139.9 547.2h0M140.8 544.8h0M138.4 546.4h0M136.9 547.7h0M137.7 547.6h0M138.8 545.2h0M140.6 546.7h0M142.0 544.2h0M145.2 545.1h0M142.2 545.8h0M142.1 546.7h0M145.3 546.2h0M142.7 546.3h0M144.7 547.5h0M145.9 544.1h0M146.7 546.1h0M146.9 546.1h0M146.1 546.6h0M146.7 544.7h0M146.9 544.1h0M149.9 545.5h0M148.5 546.6h0M150.6 543.9h0M152.0 546.5h0M153.0 546.6h0M151.7 547.4h0M152.7 546.0h0M151.6 543.6h0M151.7 547.5h0M153.7 546.8h0M150.6 547.6h0M151.2 546.2h0M135.3 541.3h0M134.3 540.3h0M136.0 540.2h0M136.4 540.5h0M138.3 541.7h0M140.7 542.2h0M139.2 539.7h0M137.3 539.6h0M143.2 540.5h0M143.9 539.7h0M142.1 541.8h0M141.3 541.7h0M147.7 543.4h0M147.6 540.0h0M146.5 540.8h0M145.8 541.9h0M148.2 542.0h0M146.9 542.4h0M153.7 539.3h0M151.3 542.9h0M153.5 540.0h0M154.1 541.5h0M137.1 536.7h0M139.0 534.8h0M139.3 537.0h0M137.8 538.8h0M137.8 534.7h0M140.1 536.2h0M140.3 536.6h0M138.5 538.9h0M143.6 537.5h0M143.5 538.6h0M142.6 537.8h0M141.7 535.7h0M142.8 534.8h0M146.3 535.7h0M149.9 536.3h0M149.0 536.0h0M146.4 536.8h0M147.7 536.4h0M149.2 537.0h0M147.1 536.0h0M148.0 535.3h0M153.1 535.7h0M153.3 535.9h0M152.1 537.8h0M157.6 555.4h0M156.6 553.8h0M156.3 552.4h0M154.3 554.8h0M155.0 554.7h0M155.9 553.1h0M156.4 552.5h0M162.2 556.1h0M159.6 556.0h0M160.9 555.7h0M162.1 555.3h0M165.9 553.5h0M163.7 553.1h0M164.5 556.4h0M165.9 552.3h0M163.1 555.9h0M170.2 553.3h0M170.9 552.7h0M169.9 555.8h0M170.3 553.4h0M167.7 553.0h0M170.8 554.3h0M167.5 555.6h0M169.4 552.8h0M175.2 555.8h0M174.1 552.9h0M172.5 555.4h0M172.3 554.8h0M174.6 552.8h0M174.7 553.2h0M175.6 556.0h0M157.3 548.9h0M156.7 548.4h0M157.2 548.6h0M157.4 551.6h0M157.6 549.1h0M155.8 550.9h0M155.6 548.1h0M160.9 548.2h0M159.3 548.0h0M160.4 551.5h0M158.7 551.2h0M166.1 549.6h0M166.4 549.7h0M163.5 549.5h0M163.0 548.8h0M164.7 551.0h0M170.7 548.3h0M170.7 549.6h0M168.8 549.0h0M170.4 548.9h0M168.7 550.7h0M171.5 551.8h0M169.2 551.3h0M171.1 548.8h0M171.2 549.6h0M170.6 548.8h0M174.9 550.1h0M175.7 548.1h0M158.5 547.3h0M155.0 544.5h0M158.4 547.6h0M156.9 547.3h0M156.6 545.2h0M157.4 545.2h0M156.5 546.2h0M160.7 546.2h0M160.9 545.4h0M162.2 544.8h0M162.4 546.3h0M162.2 547.1h0M159.6 545.8h0M159.2 545.3h0M159.8 547.1h0M162.1 545.3h0M166.8 544.6h0M165.9 546.5h0M168.8 544.2h0M171.4 547.1h0M171.1 547.0h0M168.3 543.9h0M174.7 546.6h0M174.8 545.5h0M174.9 544.6h0M172.5 544.6h0M171.9 547.4h0M175.3 545.9h0M157.0 539.3h0M156.1 539.4h0M154.6 542.9h0M158.1 539.8h0M156.7 539.9h0M155.4 539.5h0M156.1 540.6h0M158.0 541.1h0M159.5 542.2h0M159.1 541.6h0M159.9 539.8h0M162.0 539.8h0M159.4 541.2h0M159.3 540.4h0M159.3 539.8h0M160.6 542.6h0M161.3 543.0h0M165.2 539.4h0M164.0 540.5h0M163.0 540.0h0M165.2 542.3h0M164.0 541.3h0M166.3 540.2h0M162.9 543.1h0M166.0 539.6h0M163.2 541.0h0M165.3 540.6h0M165.4 541.4h0M163.5 539.6h0M170.6 539.3h0M170.0 541.3h0M168.1 542.7h0M170.1 542.7h0M171.3 541.2h0M171.3 540.9h0M172.5 543.3h0M172.3 540.5h0M175.3 540.0h0M175.9 542.0h0M171.7 543.2h0M173.5 541.7h0M174.1 542.8h0M174.4 540.9h0M175.5 541.1h0M175.7 541.3h0M156.7 535.4h0M156.5 535.3h0M156.3 537.6h0M157.4 536.6h0M158.4 536.6h0M156.5 534.7h0M157.8 535.0h0M158.8 536.3h0M161.3 535.7h0M159.6 536.7h0M159.0 536.6h0M158.7 538.0h0M162.7 535.1h0M160.6 537.0h0M166.2 537.4h0M164.5 535.9h0M165.4 537.8h0M164.3 535.3h0M163.4 537.5h0M166.9 537.3h0M166.4 537.2h0M164.5 535.3h0M169.9 536.1h0M170.6 539.0h0M171.1 538.7h0M168.1 535.0h0M170.9 538.3h0M175.4 535.7h0M177.2 554.0h0M179.5 552.6h0M179.4 554.6h0M176.4 554.8h0M177.7 552.7h0M180.2 552.9h0M177.8 555.4h0M182.8 556.4h0M180.5 555.6h0M180.3 554.1h0M183.5 555.6h0M185.1 555.1h0M186.0 552.7h0M186.2 555.0h0M192.5 555.8h0M189.7 553.7h0M192.9 552.9h0M189.1 553.5h0M191.0 554.8h0M196.6 555.8h0M193.7 553.3h0M176.9 551.8h0M178.1 551.1h0M177.7 551.9h0M177.7 548.1h0M181.2 551.8h0M182.9 550.8h0M183.0 549.6h0M182.4 548.0h0M180.3 551.3h0M181.3 550.3h0M182.3 548.7h0M182.5 551.0h0M187.5 550.1h0M185.1 551.9h0M187.4 548.5h0M192.4 550.6h0M190.3 550.1h0M192.9 551.5h0M191.5 548.1h0M190.2 550.3h0M194.1 548.2h0M194.1 551.9h0M195.0 551.8h0M176.0 547.2h0M176.2 545.1h0M176.0 544.9h0M179.6 544.4h0M183.7 544.4h0M182.8 546.3h0M181.3 545.2h0M180.8 547.2h0M184.6 547.1h0M183.8 544.8h0M183.8 547.6h0M181.1 546.3h0M186.1 547.7h0M186.6 544.6h0M186.6 546.3h0M187.1 545.5h0M187.6 545.0h0M189.0 546.9h0M192.4 544.0h0M189.1 544.7h0M192.2 545.2h0M189.6 544.9h0M196.2 546.1h0M194.1 543.5h0M195.6 543.9h0M180.1 543.1h0M176.6 540.8h0M178.8 543.4h0M177.7 539.2h0M181.9 541.3h0M184.4 541.0h0M184.4 539.6h0M184.3 541.8h0M186.3 540.4h0M190.6 543.1h0M189.8 539.4h0M189.8 543.2h0M193.1 539.6h0M192.1 541.6h0M192.3 543.3h0M190.6 540.3h0M193.4 540.9h0M195.3 542.3h0M193.7 541.9h0M196.5 542.0h0M193.6 539.3h0M196.9 541.7h0M176.2 537.7h0M176.2 537.5h0M180.1 534.9h0M176.9 535.9h0M179.7 536.7h0M183.7 535.3h0M182.6 538.8h0M181.3 536.3h0M180.5 537.7h0M183.0 537.0h0M186.9 536.3h0M187.0 536.6h0M188.1 536.1h0M188.2 537.0h0M189.8 538.3h0M191.6 538.5h0M189.2 535.1h0M192.1 536.1h0M192.4 535.3h0M194.6 536.4h0M194.4 536.2h0M194.6 537.7h0M197.6 535.5h0M196.1 537.5h0M198.7 552.6h0M201.5 553.0h0M210.4 554.4h0M208.9 554.4h0M197.6 547.8h0M199.4 551.9h0M197.9 550.7h0M197.7 549.6h0M205.7 549.0h0M203.0 549.7h0M208.4 550.4h0M199.5 546.6h0M200.1 544.0h0M198.4 543.6h0M200.5 545.4h0M201.1 543.6h0M198.3 546.7h0M203.3 544.2h0M204.1 545.5h0M202.8 544.4h0M202.3 545.0h0M215.4 545.2h0M217.8 547.6h0M204.1 543.4h0M203.8 542.0h0M208.8 540.6h0M209.9 543.2h0M211.2 539.2h0M213.8 539.2h0M214.7 541.9h0M217.3 542.1h0M215.4 542.5h0M202.3 535.6h0M203.8 536.1h0M209.8 536.1h0M209.5 536.0h0M206.8 537.8h0M207.0 537.9h0M208.5 535.4h0M213.2 537.7h0M214.4 536.5h0M212.5 538.7h0M213.9 536.5h0M216.9 537.6h0M216.4 537.9h0M225.7 553.1h0M240.7 556.1h0M229.7 549.0h0M239.7 551.2h0M220.0 547.7h0M227.2 547.3h0M230.4 547.3h0M229.7 547.6h0M222.0 541.1h0M221.6 542.0h0M219.8 543.1h0M232.7 541.2h0M233.8 539.6h0M236.3 541.2h0M234.2 542.1h0M238.2 542.1h0M220.9 539.0h0M220.3 535.0h0M225.9 536.2h0M225.2 536.6h0M225.3 538.9h0M232.0 535.5h0M231.6 535.2h0M235.3 536.6h0M235.2 539.0h0M243.9 556.2h0M242.7 554.3h0M248.1 553.8h0M254.6 553.3h0M248.8 549.2h0M244.1 545.3h0M250.3 546.5h0M253.1 545.9h0M255.1 546.7h0M257.3 539.4h0M258.1 541.6h0M256.8 538.5h0M268.7 553.5h0M275.3 553.7h0M264.7 549.6h0M275.0 550.2h0M267.4 541.2h0M281.6 539.4h0M265.9 534.8h0M277.8 535.7h0M288.0 553.5h0M285.6 535.5h0M297.5 536.2h0M69.3 577.5h0M69.0 576.1h0M68.4 575.1h0M70.5 577.6h0M74.3 574.5h0M72.2 577.1h0M81.0 575.9h0M81.5 574.2h0M81.3 574.3h0M81.6 575.2h0M84.6 574.5h0M85.5 575.8h0M87.2 576.4h0M67.8 572.4h0M69.7 570.7h0M68.0 572.4h0M74.9 570.3h0M72.0 572.7h0M78.9 571.9h0M79.2 571.2h0M77.3 570.4h0M76.2 570.0h0M82.0 570.5h0M87.3 571.5h0M88.9 569.9h0M86.3 572.7h0M89.1 572.9h0M71.6 567.9h0M72.6 568.0h0M74.2 567.7h0M72.7 568.0h0M72.1 568.8h0M78.6 569.0h0M76.4 568.2h0M83.2 568.2h0M88.4 568.2h0M85.1 566.4h0M86.7 568.7h0M68.7 561.3h0M68.5 563.9h0M69.2 561.2h0M73.0 561.1h0M72.1 562.8h0M74.6 562.9h0M72.6 561.8h0M76.3 561.1h0M78.0 562.8h0M79.8 564.7h0M81.3 562.6h0M82.0 561.9h0M87.1 561.8h0M87.2 562.6h0M85.4 564.4h0M89.0 563.3h0M85.9 561.6h0M74.2 559.2h0M77.5 560.0h0M76.5 558.7h0M89.1 558.4h0M88.9 559.1h0M90.9 574.3h0M90.6 574.1h0M93.5 575.1h0M90.5 576.6h0M92.0 575.7h0M91.4 575.5h0M90.8 575.5h0M93.4 576.8h0M92.0 574.2h0M89.4 576.1h0M96.4 575.7h0M96.4 577.2h0M94.1 574.5h0M96.3 575.0h0M96.6 577.9h0M96.3 573.9h0M94.9 578.0h0M93.8 576.8h0M94.7 574.0h0M100.3 574.5h0M98.5 575.4h0M101.5 574.5h0M99.1 577.1h0M98.9 575.6h0M99.0 574.9h0M106.3 575.0h0M102.9 578.1h0M104.9 575.0h0M106.4 576.4h0M103.7 575.6h0M106.6 575.9h0M108.9 575.9h0M106.9 576.0h0M108.1 578.0h0M108.5 575.2h0M110.1 577.7h0M107.8 574.5h0M110.2 576.6h0M109.6 577.0h0M110.3 577.7h0M92.3 571.4h0M90.1 569.6h0M90.8 573.4h0M92.5 570.5h0M97.7 571.0h0M94.4 573.6h0M94.7 571.1h0M94.0 572.1h0M93.6 570.4h0M93.8 573.8h0M96.6 572.3h0M101.0 573.4h0M99.5 570.1h0M101.5 573.4h0M98.8 569.8h0M98.4 573.2h0M98.3 570.8h0M103.4 572.1h0M105.9 573.1h0M104.9 570.4h0M106.2 571.5h0M106.5 570.6h0M107.4 570.7h0M109.2 571.2h0M107.1 572.2h0M109.8 569.6h0M108.7 573.0h0M109.4 571.8h0M110.2 571.5h0M107.3 570.0h0M108.0 571.7h0M107.4 572.8h0M110.6 573.3h0M109.1 570.8h0M109.2 569.6h0M91.3 565.9h0M92.2 568.7h0M92.8 567.2h0M89.9 566.3h0M90.4 567.9h0M97.2 566.0h0M94.9 569.2h0M96.8 568.0h0M96.0 566.6h0M96.3 567.8h0M95.1 567.6h0M94.4 566.6h0M96.5 568.6h0M101.0 566.0h0M100.1 569.2h0M100.2 565.7h0M100.0 566.2h0M98.1 566.6h0M98.7 565.2h0M99.1 568.5h0M101.5 565.9h0M102.8 565.9h0M105.3 566.2h0M104.5 568.1h0M102.6 565.4h0M105.7 568.3h0M103.4 566.5h0M104.8 565.8h0M107.9 567.0h0M107.6 567.7h0M107.5 569.3h0M110.8 566.8h0M89.7 563.0h0M89.7 562.0h0M93.1 563.7h0M89.4 563.8h0M91.9 564.8h0M91.1 564.8h0M97.4 562.7h0M97.4 562.7h0M95.2 562.1h0M94.1 561.1h0M99.7 561.2h0M98.5 561.3h0M98.0 561.4h0M100.5 562.0h0M100.7 562.8h0M99.4 561.7h0M98.0 564.8h0M100.4 565.0h0M106.4 563.8h0M104.6 562.9h0M103.4 564.3h0M109.8 561.0h0M106.8 562.1h0M108.6 564.1h0M89.4 560.5h0M96.9 560.3h0M96.3 560.7h0M96.2 560.0h0M95.6 558.8h0M97.7 558.3h0M97.7 558.8h0M95.3 558.3h0M96.1 560.0h0M94.1 560.8h0M96.5 558.9h0M97.9 559.4h0M100.7 557.4h0M101.7 559.6h0M102.5 559.9h0M103.0 558.1h0M102.8 559.8h0M106.2 560.2h0M105.9 559.7h0M104.6 558.6h0M104.8 558.1h0M103.7 556.7h0M110.0 560.6h0M109.8 556.6h0M108.4 557.9h0M110.3 560.3h0M108.4 557.8h0M108.0 559.1h0M109.6 559.9h0M113.6 575.5h0M114.9 576.3h0M114.1 576.2h0M112.1 577.7h0M112.9 576.7h0M111.5 576.6h0M112.2 576.7h0M112.1 574.8h0M111.7 576.4h0M113.4 577.9h0M112.1 577.4h0M113.5 577.1h0M111.0 577.9h0M119.2 576.3h0M119.5 576.4h0M116.6 576.7h0M117.4 576.7h0M119.2 578.1h0M115.3 575.1h0M120.3 577.5h0M123.5 576.5h0M121.7 574.7h0M123.2 574.6h0M121.8 574.5h0M124.2 574.5h0M128.0 577.6h0M127.9 577.6h0M126.5 576.5h0M124.4 574.8h0M126.2 576.3h0M127.9 578.0h0M130.2 575.7h0M129.0 578.0h0M129.5 574.3h0M129.3 575.9h0M131.7 574.2h0M130.9 575.8h0M130.5 576.4h0M130.2 578.2h0M130.5 576.6h0M112.4 572.6h0M111.4 573.3h0M115.0 570.0h0M114.6 573.5h0M113.4 570.2h0M113.2 570.9h0M113.6 572.8h0M113.8 571.6h0M114.3 569.5h0M111.4 572.1h0M118.7 573.0h0M117.9 569.7h0M116.0 572.5h0M119.0 572.8h0M119.8 569.6h0M120.4 570.8h0M122.3 573.7h0M123.6 570.0h0M120.5 573.2h0M121.6 571.2h0M121.4 573.7h0M122.2 570.5h0M120.2 572.7h0M122.3 570.3h0M119.8 572.1h0M123.8 573.4h0M127.7 569.9h0M127.3 573.2h0M126.0 571.2h0M125.7 573.4h0M130.2 571.4h0M130.8 569.6h0M129.8 571.5h0M130.4 570.9h0M128.7 573.0h0M129.0 572.2h0M129.3 571.6h0M130.8 571.9h0M114.0 566.8h0M111.7 565.9h0M113.1 567.9h0M114.6 567.0h0M112.7 567.3h0M113.4 565.9h0M114.0 568.4h0M112.2 566.6h0M112.8 565.2h0M112.1 567.4h0M118.4 567.7h0M117.3 567.6h0M117.0 569.5h0M118.5 566.9h0M118.1 568.0h0M120.0 568.9h0M123.6 568.4h0M121.7 567.4h0M119.9 566.5h0M120.8 568.7h0M120.8 565.3h0M121.4 569.0h0M120.4 569.1h0M121.1 566.3h0M126.6 569.4h0M124.2 565.9h0M125.3 567.7h0M124.4 565.4h0M125.9 567.0h0M126.4 567.7h0M127.6 567.4h0M127.2 569.5h0M127.0 568.4h0M125.5 566.8h0M124.2 568.2h0M125.4 566.9h0M132.2 566.0h0M130.7 566.9h0M131.2 566.7h0M128.3 566.1h0M131.1 567.2h0M130.1 566.8h0M129.8 568.6h0M128.7 569.4h0M128.7 569.5h0M128.3 566.8h0M113.8 562.0h0M114.0 563.2h0M111.4 564.8h0M114.4 562.8h0M112.3 561.2h0M111.8 561.0h0M115.8 564.0h0M115.5 562.3h0M117.9 564.1h0M118.1 563.8h0M116.6 564.0h0M117.0 561.4h0M119.2 561.3h0M117.3 561.8h0M119.6 561.0h0M122.0 562.2h0M120.3 562.6h0M123.2 561.5h0M122.1 562.9h0M121.0 561.4h0M127.4 563.5h0M124.5 561.7h0M125.9 561.3h0M126.5 563.3h0M125.0 564.9h0M127.3 560.8h0M127.1 565.1h0M124.7 564.3h0M130.9 561.5h0M129.3 564.8h0M128.7 561.2h0M128.4 562.4h0M131.1 561.0h0M129.5 562.5h0M128.8 564.2h0M131.0 561.5h0M129.4 561.2h0M132.5 561.0h0M111.7 556.8h0M115.1 560.8h0M111.5 558.3h0M115.0 556.7h0M112.2 558.2h0M113.9 558.4h0M111.1 559.3h0M118.6 558.2h0M115.9 559.7h0M116.4 557.4h0M116.6 558.2h0M118.0 560.2h0M117.9 557.8h0M121.4 558.0h0M121.7 558.8h0M122.7 558.6h0M122.0 556.8h0M126.6 558.5h0M124.9 558.3h0M125.9 557.2h0M127.6 558.1h0M126.2 556.6h0M127.5 556.7h0M130.2 559.0h0M131.4 557.1h0M130.8 557.2h0M130.3 559.8h0M129.9 559.5h0M134.5 576.1h0M136.3 577.9h0M134.1 577.8h0M132.9 577.8h0M140.9 576.4h0M139.3 577.9h0M141.2 578.2h0M137.1 576.6h0M137.2 576.9h0M136.9 574.9h0M140.5 575.0h0M140.7 576.8h0M139.8 574.4h0M137.4 577.9h0M137.4 577.9h0M139.2 575.3h0M139.3 574.8h0M139.5 574.7h0M137.6 577.4h0M141.2 575.5h0M137.7 576.1h0M144.3 576.6h0M145.4 575.4h0M143.7 577.5h0M145.1 576.8h0M144.4 577.9h0M144.6 576.0h0M145.0 575.1h0M142.1 575.6h0M146.1 575.4h0M147.3 576.2h0M146.1 576.5h0M146.4 575.0h0M148.8 577.9h0M146.3 576.4h0M146.7 577.5h0M149.3 577.6h0M133.8 570.6h0M136.1 572.4h0M135.7 571.6h0M136.0 571.2h0M134.0 572.7h0M136.5 570.4h0M136.6 571.1h0M135.8 571.6h0M140.1 571.8h0M141.0 571.6h0M139.7 571.2h0M139.7 569.7h0M137.4 571.9h0M138.6 571.2h0M140.6 570.1h0M139.6 573.5h0M137.0 573.6h0M140.3 573.2h0M144.4 572.2h0M141.5 570.2h0M142.3 570.4h0M142.0 570.8h0M144.9 570.3h0M146.9 569.7h0M149.6 573.4h0M147.9 571.2h0M148.1 570.9h0M148.1 573.3h0M151.4 573.0h0M132.8 566.3h0M136.4 567.2h0M137.3 569.0h0M137.4 566.2h0M138.5 565.8h0M139.8 568.4h0M139.0 568.6h0M138.3 569.4h0M143.6 568.7h0M144.9 567.2h0M142.0 567.5h0M144.4 568.0h0M143.5 567.4h0M143.8 568.7h0M142.8 569.1h0M144.4 566.0h0M148.8 569.5h0M147.7 568.1h0M148.6 565.3h0M148.7 568.4h0M150.0 567.4h0M150.9 565.8h0M152.5 565.3h0M150.9 567.4h0M152.9 567.7h0M133.4 561.9h0M134.1 561.7h0M134.0 565.1h0M136.5 561.5h0M136.4 563.9h0M135.3 562.5h0M136.5 562.1h0M133.4 561.9h0M136.1 563.1h0M139.8 561.9h0M141.1 562.0h0M139.1 562.9h0M139.0 561.7h0M141.1 563.5h0M138.9 563.6h0M141.2 563.1h0M137.6 564.9h0M139.3 564.5h0M140.9 563.7h0M141.3 562.3h0M144.0 563.9h0M142.1 561.3h0M144.4 563.6h0M142.7 564.3h0M141.2 563.5h0M141.7 564.9h0M144.0 563.2h0M145.8 563.4h0M147.6 565.0h0M146.5 564.8h0M148.3 561.2h0M147.2 563.7h0M146.6 564.7h0M148.5 563.1h0M149.4 564.4h0M147.8 562.7h0M146.6 561.0h0M151.9 563.6h0M150.4 563.5h0M151.5 565.0h0M153.4 561.1h0M135.6 558.1h0M133.1 557.1h0M134.2 558.3h0M135.3 558.5h0M135.8 556.9h0M135.7 560.6h0M136.0 559.3h0M134.7 557.2h0M141.0 557.6h0M140.4 559.5h0M137.4 559.5h0M139.3 558.3h0M140.4 559.8h0M138.3 556.7h0M138.1 560.2h0M137.0 556.8h0M141.6 560.4h0M144.7 560.8h0M145.5 558.1h0M144.7 559.6h0M141.5 557.7h0M141.4 559.6h0M149.5 557.0h0M149.8 557.7h0M146.8 558.4h0M145.7 558.0h0M148.9 559.0h0M148.0 557.5h0M146.8 559.7h0M153.6 556.6h0M152.9 559.3h0M153.2 560.6h0M150.2 559.5h0M151.8 558.7h0M151.9 557.1h0M153.5 557.5h0M153.9 558.3h0M152.2 556.8h0M158.5 574.1h0M157.3 576.2h0M154.9 576.2h0M157.4 574.9h0M158.2 577.6h0M154.6 577.1h0M159.5 576.2h0M158.7 575.7h0M163.7 577.3h0M163.4 577.4h0M168.7 575.6h0M168.6 576.8h0M172.5 574.8h0M175.1 576.6h0M171.7 578.1h0M174.9 575.6h0M158.5 572.1h0M157.9 572.4h0M155.7 570.8h0M154.9 573.6h0M157.5 573.2h0M156.7 571.0h0M161.8 570.7h0M160.2 571.7h0M162.2 570.5h0M164.4 570.5h0M167.1 571.9h0M167.2 573.4h0M163.3 570.9h0M167.6 572.1h0M168.8 572.3h0M170.3 573.2h0M167.8 573.8h0M172.6 572.1h0M154.2 568.0h0M156.8 567.7h0M155.8 565.5h0M160.8 565.5h0M162.7 569.2h0M159.6 565.3h0M160.0 566.5h0M166.5 566.7h0M165.4 565.3h0M171.4 566.3h0M171.5 566.7h0M169.9 566.4h0M173.8 568.8h0M171.7 567.8h0M154.6 563.3h0M155.1 562.2h0M157.1 564.7h0M156.3 561.9h0M159.6 564.4h0M167.1 561.9h0M167.2 564.9h0M166.0 563.1h0M167.2 563.3h0M171.3 563.7h0M156.8 558.8h0M158.2 557.7h0M161.7 559.7h0M161.6 557.3h0M160.7 557.2h0M165.4 557.3h0M163.7 558.7h0M163.7 560.7h0M165.1 560.6h0M165.7 560.0h0M166.0 556.9h0M163.7 556.9h0M166.3 556.8h0M169.7 559.6h0M172.9 558.4h0M175.1 557.3h0M173.1 559.0h0M177.5 576.2h0M178.2 576.4h0M177.6 576.4h0M180.8 577.2h0M181.6 575.4h0M184.9 577.3h0M190.7 577.5h0M196.0 578.1h0M176.5 572.0h0M177.9 573.3h0M190.4 570.2h0M176.8 567.2h0M178.1 567.3h0M177.7 568.8h0M176.7 567.2h0M180.8 569.0h0M186.6 565.8h0M185.6 567.0h0M194.6 565.7h0M179.3 561.4h0M184.6 562.4h0M181.2 565.0h0M183.0 563.8h0M185.6 561.5h0M185.2 563.8h0M195.8 562.8h0M195.4 561.5h0M197.5 561.5h0M179.6 558.2h0M177.2 556.9h0M176.0 558.0h0M176.5 557.0h0M184.3 559.6h0M181.8 556.7h0M180.7 559.1h0M186.9 557.9h0M185.5 560.7h0M188.8 556.6h0M185.9 557.3h0M191.6 558.0h0M210.3 576.9h0M206.6 575.1h0M210.1 574.3h0M202.3 573.2h0M207.5 571.2h0M208.9 573.4h0M216.0 570.3h0M206.0 566.8h0M213.3 566.8h0M215.5 565.5h0M200.9 561.5h0M200.6 562.6h0M213.4 561.3h0M199.7 557.2h0M200.6 558.6h0M203.3 558.5h0M210.5 557.9h0M210.3 557.0h0M211.1 559.3h0M216.9 558.3h0M235.5 575.4h0M236.8 578.0h0M219.5 571.8h0M221.8 569.7h0M231.8 570.4h0M228.5 572.9h0M234.1 570.5h0M236.0 572.4h0M219.9 568.2h0M223.1 566.4h0M222.9 567.5h0M239.1 567.7h0M237.0 568.7h0M238.2 567.5h0M239.4 567.6h0M225.0 563.6h0M235.1 564.0h0M238.4 562.5h0M223.6 557.8h0M240.5 559.6h0M255.6 577.5h0M242.8 571.3h0M260.2 573.5h0M260.5 562.1h0M261.7 564.6h0M253.8 559.1h0M268.8 571.3h0M276.3 571.1h0M279.2 567.8h0M282.8 565.6h0M276.6 560.2h0M70.4 595.7h0M68.0 599.0h0M71.2 599.9h0M71.6 598.6h0M69.1 596.3h0M74.7 597.9h0M75.4 597.5h0M72.7 597.2h0M74.3 595.9h0M78.9 599.4h0M78.9 599.9h0M77.9 595.8h0M78.9 599.5h0M78.6 599.4h0M82.3 596.9h0M84.7 599.0h0M83.2 595.9h0M84.5 596.6h0M87.7 597.5h0M87.5 598.7h0M69.6 593.9h0M68.5 593.5h0M69.0 595.1h0M69.6 595.4h0M74.9 593.0h0M75.3 592.9h0M74.1 593.8h0M76.7 594.8h0M82.4 592.3h0M85.5 592.6h0M86.8 594.9h0M89.1 591.7h0M86.6 595.5h0M87.6 592.8h0M86.7 594.5h0M69.7 591.0h0M70.0 588.4h0M76.4 589.1h0M77.3 588.7h0M80.2 589.1h0M79.8 589.0h0M88.9 588.7h0M88.8 588.8h0M86.9 588.0h0M86.3 589.6h0M88.6 589.2h0M73.0 586.2h0M73.7 585.7h0M78.9 585.0h0M76.7 585.7h0M81.6 584.5h0M82.5 585.4h0M81.2 586.1h0M85.4 583.9h0M86.0 585.8h0M85.2 584.9h0M70.0 578.4h0M69.9 578.3h0M69.4 581.3h0M71.3 582.0h0M74.7 580.2h0M78.3 581.9h0M76.6 580.2h0M78.0 581.4h0M77.6 581.2h0M81.6 578.4h0M80.7 581.3h0M86.3 581.4h0M85.0 580.4h0M87.8 581.9h0M89.0 581.4h0M85.8 580.7h0M85.6 580.9h0M87.8 580.7h0M88.7 580.3h0M90.4 597.5h0M90.6 599.6h0M92.8 598.6h0M90.4 598.2h0M91.3 596.4h0M93.2 595.9h0M89.8 598.8h0M92.5 597.9h0M90.2 598.1h0M97.7 597.4h0M97.2 596.1h0M96.7 598.5h0M94.8 599.0h0M97.1 597.8h0M93.7 596.5h0M97.5 596.0h0M94.6 597.4h0M98.2 597.0h0M102.2 598.3h0M101.7 597.8h0M102.1 598.2h0M98.5 599.3h0M99.4 597.8h0M99.4 597.0h0M98.7 599.5h0M101.7 596.6h0M98.7 599.6h0M101.6 597.7h0M104.9 596.5h0M106.3 599.3h0M104.0 598.2h0M106.0 597.1h0M104.7 598.7h0M105.0 598.7h0M106.4 595.8h0M106.0 599.7h0M103.4 597.5h0M104.9 596.4h0M108.3 599.5h0M109.3 598.9h0M92.3 591.6h0M92.9 592.9h0M91.4 593.3h0M92.9 592.8h0M92.9 595.1h0M89.8 595.5h0M94.6 593.1h0M94.9 593.7h0M97.0 591.7h0M96.5 593.4h0M96.0 592.3h0M95.9 595.3h0M96.0 594.5h0M96.4 594.1h0M96.7 592.5h0M97.3 591.3h0M97.0 593.3h0M97.0 593.7h0M94.2 593.9h0M95.5 594.7h0M99.3 591.5h0M98.0 595.2h0M100.7 592.1h0M100.7 591.3h0M100.9 592.9h0M101.4 594.3h0M99.5 593.9h0M99.1 592.9h0M102.1 595.3h0M100.3 593.9h0M101.5 594.7h0M98.4 592.2h0M102.7 591.9h0M103.6 592.3h0M102.9 591.3h0M102.4 591.7h0M105.9 594.7h0M106.3 592.1h0M103.4 592.3h0M105.2 594.2h0M105.7 592.2h0M105.6 591.5h0M103.1 592.3h0M106.5 592.8h0M108.8 595.3h0M107.1 594.8h0M109.1 595.5h0M106.5 592.6h0M108.3 594.6h0M90.0 590.1h0M92.2 590.6h0M93.4 587.8h0M91.8 590.3h0M92.8 587.0h0M89.6 587.3h0M94.3 588.7h0M97.8 591.1h0M96.5 589.7h0M97.0 591.2h0M94.5 590.7h0M94.1 589.7h0M95.7 589.5h0M93.5 590.7h0M93.8 589.1h0M95.4 589.1h0M102.1 588.1h0M102.1 587.9h0M98.1 590.7h0M98.1 590.7h0M98.5 588.5h0M97.9 591.1h0M100.5 590.9h0M98.6 587.7h0M105.4 589.9h0M106.2 589.1h0M104.2 587.5h0M103.5 587.7h0M104.2 590.9h0M102.3 588.8h0M103.4 591.2h0M110.7 587.8h0M107.8 590.1h0M109.4 590.9h0M108.5 589.8h0M110.7 587.6h0M107.8 590.2h0M106.6 588.7h0M107.8 588.1h0M107.1 590.1h0M90.2 585.1h0M92.9 583.8h0M89.8 585.4h0M93.1 584.7h0M92.7 585.4h0M89.8 585.2h0M93.5 585.4h0M91.0 586.0h0M97.2 583.6h0M94.6 583.8h0M96.6 585.4h0M96.9 583.2h0M101.8 582.6h0M99.4 585.1h0M102.1 584.3h0M101.5 584.0h0M101.6 584.0h0M100.1 582.7h0M100.6 585.6h0M101.3 584.7h0M102.0 583.8h0M98.7 584.0h0M104.6 585.4h0M106.1 586.3h0M105.8 586.7h0M104.3 583.9h0M105.4 584.6h0M105.8 583.8h0M106.7 583.0h0M108.9 585.8h0M108.5 582.8h0M107.4 586.6h0M109.5 584.7h0M109.0 583.6h0M106.8 585.7h0M110.5 584.0h0M106.6 583.0h0M107.3 586.7h0M108.0 584.3h0M92.9 582.4h0M91.2 581.3h0M93.2 578.2h0M91.8 578.8h0M91.9 582.0h0M91.3 581.5h0M89.5 581.2h0M90.9 582.4h0M92.7 580.1h0M95.1 580.6h0M96.7 580.6h0M94.1 579.8h0M97.9 580.1h0M97.6 579.9h0M93.9 578.8h0M95.1 582.4h0M97.4 581.2h0M98.9 582.3h0M98.1 581.9h0M101.3 581.4h0M99.3 580.7h0M98.0 581.9h0M99.3 579.4h0M103.8 582.1h0M105.1 578.7h0M103.9 578.8h0M105.8 581.0h0M105.5 580.5h0M104.6 578.8h0M104.7 582.0h0M105.8 581.3h0M105.2 578.3h0M106.2 581.9h0M107.8 580.3h0M110.3 580.0h0M110.7 580.5h0M107.5 579.6h0M108.3 581.2h0M106.9 581.4h0M106.9 579.2h0M108.9 581.2h0M107.0 579.2h0M113.8 596.2h0M112.7 597.9h0M111.2 596.0h0M113.8 596.4h0M113.6 596.7h0M111.3 597.7h0M112.7 598.9h0M112.6 598.3h0M113.9 599.1h0M118.2 596.6h0M116.8 599.8h0M118.0 597.5h0M115.9 595.7h0M116.4 598.4h0M122.8 598.3h0M123.7 596.7h0M121.7 598.8h0M121.1 598.4h0M119.7 597.5h0M123.2 599.9h0M119.9 599.3h0M124.0 598.9h0M126.8 598.1h0M124.9 596.9h0M125.4 596.4h0M126.2 597.3h0M124.5 595.8h0M131.7 598.2h0M130.6 598.7h0M129.5 596.1h0M129.0 596.5h0M130.1 598.1h0M130.1 597.5h0M129.3 596.0h0M130.0 599.2h0M130.1 598.6h0M128.6 597.5h0M114.1 592.5h0M112.4 594.8h0M111.6 593.7h0M112.5 593.3h0M113.2 591.6h0M114.3 594.0h0M112.8 591.4h0M111.0 593.1h0M115.7 592.1h0M115.4 593.6h0M118.7 591.5h0M118.1 594.7h0M117.0 591.4h0M119.1 592.4h0M116.6 593.9h0M118.8 592.6h0M119.3 595.0h0M115.6 592.9h0M122.4 593.3h0M123.5 593.9h0M119.9 593.1h0M125.9 592.6h0M126.6 595.5h0M124.7 595.2h0M125.1 591.5h0M125.6 594.1h0M124.5 595.4h0M125.0 595.0h0M123.9 594.6h0M125.9 595.2h0M125.8 595.3h0M129.4 592.0h0M128.3 591.5h0M129.7 592.8h0M130.7 593.1h0M130.6 593.8h0M129.8 592.8h0M130.5 591.8h0M132.4 594.0h0M129.9 591.8h0M114.8 589.9h0M114.9 589.9h0M112.1 588.7h0M111.9 588.5h0M112.0 589.8h0M112.0 587.5h0M111.9 588.1h0M116.9 588.5h0M116.5 591.0h0M119.3 587.7h0M117.0 589.0h0M117.5 588.1h0M122.6 587.7h0M122.7 587.5h0M120.6 587.8h0M120.1 588.3h0M121.8 589.6h0M120.3 588.9h0M120.6 588.9h0M121.3 588.1h0M119.9 589.5h0M128.0 587.6h0M128.2 587.6h0M126.0 590.5h0M127.8 588.6h0M128.1 590.7h0M128.1 588.4h0M124.4 588.5h0M130.1 589.6h0M130.8 588.8h0M131.1 587.6h0M128.8 588.3h0M128.6 590.6h0M111.0 584.4h0M112.5 586.1h0M111.1 584.6h0M111.1 584.9h0M111.8 583.6h0M114.7 583.0h0M113.1 583.1h0M115.0 586.3h0M114.0 584.0h0M114.5 583.2h0M114.4 586.4h0M114.7 583.1h0M113.4 586.4h0M114.5 586.8h0M116.3 586.2h0M116.5 583.3h0M115.8 585.6h0M119.2 583.3h0M117.4 586.8h0M118.5 586.2h0M119.4 584.3h0M115.3 584.7h0M121.8 586.8h0M121.3 584.1h0M122.9 585.8h0M123.2 585.9h0M120.6 584.5h0M123.1 586.2h0M122.4 583.0h0M122.8 584.9h0M119.7 585.5h0M122.2 584.0h0M123.5 584.5h0M126.6 583.5h0M126.3 584.0h0M126.3 586.2h0M126.8 582.7h0M126.8 586.0h0M124.3 585.4h0M126.5 585.6h0M124.9 584.9h0M127.4 583.0h0M125.0 584.0h0M126.3 583.6h0M125.6 584.9h0M125.4 585.8h0M130.3 583.4h0M129.5 584.3h0M132.5 584.4h0M129.3 583.3h0M130.8 582.8h0M132.4 585.9h0M114.7 579.9h0M112.2 581.7h0M114.6 581.5h0M114.8 581.0h0M111.3 581.5h0M113.5 580.6h0M116.1 579.6h0M116.6 581.7h0M116.2 582.2h0M116.4 582.1h0M119.0 580.9h0M117.8 582.2h0M117.7 580.1h0M121.2 579.7h0M121.8 580.3h0M121.2 580.5h0M120.2 580.2h0M121.1 579.9h0M122.1 582.2h0M125.3 580.7h0M124.0 581.4h0M126.0 581.2h0M126.0 580.1h0M125.8 581.1h0M128.1 578.4h0M124.6 581.4h0M126.9 582.0h0M124.2 578.3h0M129.2 578.7h0M129.7 579.3h0M132.5 580.1h0M129.9 582.5h0M130.0 580.1h0M130.7 578.8h0M132.4 580.3h0M130.4 579.8h0M130.6 579.6h0M129.5 581.6h0M135.1 596.6h0M134.9 596.1h0M133.8 599.0h0M134.3 595.8h0M133.3 597.9h0M136.4 599.5h0M136.2 596.6h0M135.9 597.5h0M140.7 598.7h0M139.7 599.6h0M140.9 598.8h0M140.5 598.4h0M137.0 600.0h0M142.0 598.1h0M143.7 595.7h0M149.6 599.0h0M148.7 599.4h0M148.9 599.0h0M146.1 596.4h0M153.1 597.1h0M150.8 597.5h0M151.2 599.9h0M150.4 597.9h0M135.5 592.0h0M135.8 591.3h0M135.7 595.5h0M139.8 593.8h0M138.3 592.6h0M137.8 592.7h0M141.9 594.6h0M142.2 593.6h0M142.2 592.8h0M143.8 593.1h0M145.5 593.4h0M144.4 592.3h0M145.9 592.9h0M148.9 595.5h0M148.0 593.9h0M136.4 587.2h0M135.3 586.9h0M136.5 590.6h0M136.6 588.1h0M136.4 590.5h0M134.0 589.1h0M136.3 587.9h0M137.6 589.9h0M140.3 587.0h0M138.7 589.6h0M141.2 588.1h0M137.1 587.1h0M142.2 589.1h0M141.6 588.4h0M144.0 587.5h0M143.7 587.6h0M147.6 587.4h0M146.1 588.9h0M147.3 588.5h0M146.0 591.0h0M150.7 590.9h0M153.2 589.3h0M153.6 590.2h0M136.6 583.6h0M134.5 584.3h0M134.4 585.5h0M135.7 584.9h0M134.4 585.1h0M134.3 585.5h0M137.4 586.5h0M137.8 586.7h0M137.8 586.8h0M140.7 585.7h0M138.8 583.1h0M140.9 583.9h0M139.9 583.2h0M142.0 584.2h0M143.9 583.0h0M142.1 583.4h0M141.5 584.5h0M143.8 586.8h0M148.9 582.9h0M148.3 585.2h0M146.4 584.0h0M152.7 584.2h0M151.2 586.9h0M150.0 586.3h0M152.9 585.9h0M150.4 586.3h0M136.3 581.6h0M134.9 579.8h0M133.5 582.4h0M134.7 582.3h0M134.7 579.5h0M137.2 581.0h0M141.1 581.2h0M137.4 579.4h0M139.6 581.2h0M138.8 582.5h0M139.0 579.6h0M138.5 579.4h0M138.6 578.4h0M142.8 581.9h0M144.6 579.6h0M146.9 579.6h0M147.6 580.0h0M149.4 578.4h0M147.4 580.9h0M148.7 582.2h0M151.1 580.5h0M151.9 580.4h0M154.1 580.0h0M155.9 597.6h0M158.0 596.9h0M156.7 597.3h0M157.3 597.1h0M157.2 597.5h0M156.6 599.0h0M163.1 599.7h0M164.4 597.0h0M166.3 598.3h0M168.1 596.9h0M170.7 599.9h0M171.5 596.5h0M157.9 594.3h0M154.9 592.2h0M156.2 592.4h0M161.4 592.1h0M159.0 595.5h0M166.1 592.0h0M163.7 595.2h0M170.3 592.3h0M169.0 592.1h0M172.2 591.8h0M161.4 588.9h0M159.2 587.9h0M159.5 588.6h0M159.9 589.3h0M161.2 590.4h0M165.8 590.8h0M167.7 588.2h0M170.7 587.4h0M175.8 590.4h0M154.6 584.8h0M157.2 583.7h0M157.4 586.5h0M161.6 583.2h0M161.1 583.0h0M162.7 586.6h0M160.7 583.7h0M166.6 586.3h0M172.9 583.4h0M171.9 583.5h0M156.4 578.8h0M154.4 581.6h0M156.3 581.0h0M155.6 580.7h0M160.4 581.8h0M159.9 581.1h0M162.4 579.5h0M166.0 578.7h0M169.6 579.1h0M177.8 597.6h0M186.3 598.5h0M190.8 595.9h0M193.3 597.2h0M178.0 592.0h0M178.9 591.9h0M180.3 595.1h0M182.1 592.2h0M182.3 595.2h0M184.0 591.6h0M181.4 592.5h0M178.0 589.8h0M182.1 587.1h0M193.3 589.1h0M177.3 583.8h0M178.0 585.7h0M177.6 584.1h0M186.1 586.8h0M192.0 586.3h0M190.3 582.6h0M176.9 582.2h0M177.6 579.9h0M183.2 578.4h0M182.0 578.5h0M188.2 579.1h0M189.5 582.2h0M189.9 580.4h0M192.9 581.8h0M195.4 582.4h0M197.0 578.4h0M202.3 599.0h0M210.4 599.1h0M214.5 598.4h0M198.0 594.9h0M211.5 594.4h0M214.3 587.5h0M215.4 589.8h0M216.9 590.9h0M200.3 586.1h0M199.9 585.1h0M207.4 585.1h0M206.4 584.4h0M218.4 586.3h0M203.1 582.1h0M205.4 581.3h0M202.5 582.2h0M207.9 578.9h0M208.3 580.6h0M210.3 581.3h0M213.1 579.2h0M221.8 596.9h0M230.6 599.9h0M229.2 598.0h0M237.9 599.9h0M231.1 594.4h0M221.4 587.5h0M223.2 587.7h0M225.5 589.6h0M229.7 589.2h0M229.2 591.0h0M237.7 589.8h0M237.9 584.4h0M240.1 585.8h0M232.2 579.5h0M237.5 578.3h0M241.0 582.4h0M248.3 599.9h0M248.7 593.8h0M260.0 592.7h0M258.1 587.4h0M253.0 580.5h0M259.7 580.8h0M272.4 596.3h0M263.1 588.4h0M267.5 588.3h0M267.8 578.6h0M279.8 581.2h0M287.4 592.3h0M311.9 593.1h0M70.1 618.6h0M67.6 619.3h0M69.6 620.3h0M68.7 618.8h0M70.8 621.1h0M68.7 621.2h0M73.5 620.5h0M75.9 618.9h0M73.8 618.4h0M73.6 617.5h0M75.6 617.7h0M75.4 619.1h0M73.7 620.5h0M72.1 620.6h0M71.9 619.1h0M75.4 617.8h0M74.1 621.7h0M79.5 621.1h0M76.7 619.3h0M77.7 621.3h0M77.1 617.4h0M76.9 618.4h0M76.7 618.7h0M84.5 620.6h0M81.1 617.6h0M83.4 621.7h0M84.3 620.9h0M82.5 621.6h0M84.3 620.0h0M84.2 617.7h0M89.0 620.5h0M87.4 620.4h0M86.2 621.4h0M88.3 620.4h0M87.2 619.1h0M87.3 618.6h0M69.3 615.0h0M68.0 616.3h0M69.5 615.5h0M72.9 614.1h0M73.7 614.3h0M72.4 617.4h0M74.7 614.9h0M79.5 615.0h0M77.1 616.3h0M77.9 615.9h0M76.6 613.8h0M82.7 617.1h0M82.4 614.3h0M83.6 615.6h0M82.7 613.7h0M82.7 615.9h0M83.0 616.5h0M81.4 616.4h0M81.2 617.2h0M87.6 616.2h0M86.3 613.8h0M88.0 613.6h0M87.5 614.4h0M85.0 615.4h0M69.1 612.6h0M71.2 610.5h0M69.8 610.8h0M76.1 609.6h0M75.1 611.9h0M74.3 609.9h0M76.5 610.8h0M79.8 609.1h0M80.2 608.7h0M79.4 611.4h0M78.7 608.9h0M82.0 612.4h0M80.7 611.7h0M82.5 611.9h0M83.7 612.6h0M81.4 611.8h0M83.8 609.9h0M83.1 612.8h0M83.2 612.1h0M85.4 610.8h0M85.0 609.9h0M88.3 611.5h0M87.6 611.2h0M85.5 611.1h0M87.3 609.0h0M85.5 609.0h0M70.4 607.6h0M69.2 604.8h0M71.2 608.3h0M67.6 605.1h0M68.5 605.7h0M68.1 605.8h0M75.6 606.2h0M72.0 606.1h0M73.6 605.0h0M75.7 605.3h0M76.0 607.3h0M75.4 605.2h0M78.5 604.7h0M80.3 607.5h0M78.3 607.2h0M83.2 604.9h0M83.3 606.5h0M84.6 606.1h0M87.4 604.4h0M85.5 607.2h0M88.9 608.0h0M85.9 605.0h0M68.1 601.9h0M68.4 603.6h0M68.7 601.2h0M70.1 602.0h0M73.2 604.3h0M71.9 600.9h0M78.8 601.7h0M78.1 600.6h0M76.9 602.7h0M78.4 600.4h0M79.4 600.6h0M83.7 602.3h0M81.7 600.3h0M82.7 602.2h0M84.0 601.2h0M84.0 603.7h0M87.6 602.3h0M87.2 602.4h0M89.2 602.2h0M87.3 601.6h0M87.3 604.3h0M88.0 603.7h0M89.3 617.6h0M90.2 620.9h0M91.1 620.8h0M91.8 620.0h0M91.9 618.8h0M92.0 618.2h0M90.7 619.2h0M91.6 617.8h0M90.2 619.8h0M90.0 619.5h0M94.6 617.5h0M95.8 619.9h0M97.2 621.5h0M96.7 619.1h0M96.6 619.5h0M93.6 619.0h0M97.8 618.0h0M93.9 617.4h0M96.4 620.5h0M99.5 620.7h0M98.3 621.0h0M101.9 620.5h0M101.1 620.7h0M101.9 619.3h0M100.0 618.0h0M100.5 617.7h0M101.0 618.4h0M97.9 620.0h0M102.0 620.2h0M98.4 621.5h0M99.1 618.7h0M103.3 617.6h0M103.0 618.7h0M106.4 619.7h0M105.0 620.8h0M102.4 620.0h0M102.9 619.0h0M104.8 617.6h0M103.6 618.1h0M105.9 620.1h0M104.8 619.3h0M104.7 620.2h0M103.7 618.2h0M110.8 618.0h0M109.9 619.6h0M110.6 621.5h0M108.0 617.6h0M107.0 620.5h0M93.1 615.3h0M91.3 613.7h0M89.4 616.8h0M89.2 615.8h0M93.2 613.2h0M89.6 617.0h0M90.3 614.4h0M92.6 615.2h0M90.4 616.7h0M89.5 616.3h0M89.4 613.5h0M93.4 614.3h0M94.1 614.5h0M95.1 615.7h0M97.1 613.3h0M96.0 614.2h0M96.3 615.1h0M96.9 614.3h0M95.7 615.6h0M97.8 614.0h0M96.3 617.0h0M96.3 613.3h0M97.5 615.4h0M94.8 614.4h0M96.1 613.4h0M94.8 616.0h0M101.0 614.8h0M100.5 616.8h0M99.2 614.5h0M98.3 613.4h0M100.1 614.3h0M101.5 613.5h0M101.6 613.1h0M100.5 617.1h0M98.5 614.8h0M98.2 616.4h0M98.0 616.4h0M100.1 615.6h0M99.0 617.3h0M103.0 613.5h0M104.0 614.3h0M105.2 617.1h0M103.1 615.2h0M106.5 615.1h0M105.4 617.3h0M103.6 613.6h0M102.2 617.4h0M108.4 616.2h0M108.0 614.8h0M107.4 615.3h0M106.7 616.9h0M106.5 617.1h0M90.5 611.0h0M90.0 612.1h0M91.1 611.7h0M90.1 612.0h0M93.2 609.6h0M89.9 608.7h0M96.8 611.9h0M94.0 610.9h0M94.6 609.7h0M95.4 610.8h0M94.9 612.4h0M99.6 611.7h0M102.2 611.8h0M101.3 609.7h0M98.9 612.1h0M97.9 611.1h0M99.9 609.8h0M101.0 609.9h0M98.3 611.7h0M98.8 610.6h0M98.6 612.0h0M99.0 612.6h0M100.1 609.0h0M106.2 609.5h0M105.9 609.8h0M105.7 611.4h0M105.0 611.8h0M105.4 609.0h0M102.9 612.4h0M103.2 612.3h0M104.5 610.5h0M104.9 608.7h0M102.3 610.5h0M104.1 609.8h0M103.1 608.7h0M103.0 610.6h0M103.8 610.2h0M106.2 613.0h0M102.4 611.3h0M104.2 610.9h0M107.6 611.2h0M92.4 607.6h0M91.9 607.2h0M90.9 605.9h0M91.0 607.6h0M90.1 605.8h0M92.2 606.1h0M92.0 605.5h0M89.3 604.5h0M93.5 605.7h0M96.8 608.5h0M96.4 604.9h0M94.1 604.8h0M94.3 607.2h0M94.3 606.9h0M96.7 608.0h0M96.5 608.1h0M98.8 608.3h0M100.3 605.6h0M98.0 607.4h0M101.4 605.7h0M100.6 605.5h0M100.6 606.6h0M100.5 606.3h0M102.1 605.5h0M101.5 607.8h0M99.7 604.3h0M102.1 607.4h0M105.3 607.6h0M104.8 606.9h0M105.1 605.4h0M105.8 604.5h0M102.6 605.0h0M106.5 605.1h0M104.3 604.4h0M106.3 607.1h0M106.3 604.8h0M105.9 606.6h0M102.7 605.2h0M108.3 605.9h0M106.5 607.8h0M108.0 607.8h0M106.8 607.8h0M108.1 607.9h0M107.8 604.5h0M108.7 607.2h0M107.4 605.4h0M108.7 604.7h0M108.3 605.6h0M109.2 604.6h0M106.9 606.2h0M110.7 606.7h0M89.5 601.3h0M89.2 601.2h0M90.1 603.0h0M91.0 604.1h0M91.0 603.4h0M94.1 601.7h0M97.6 603.2h0M97.7 603.2h0M97.8 600.3h0M95.5 602.9h0M93.6 603.1h0M99.9 600.2h0M98.1 600.5h0M99.9 601.5h0M102.2 603.8h0M101.2 603.6h0M98.4 601.8h0M99.2 601.1h0M101.7 602.2h0M99.0 601.4h0M106.3 602.2h0M105.2 600.5h0M103.7 603.1h0M104.7 601.0h0M105.6 601.0h0M107.8 600.1h0M108.5 603.7h0M107.3 601.9h0M108.1 601.4h0M106.6 602.4h0M110.1 600.8h0M108.7 602.6h0M109.6 602.5h0M109.6 602.9h0M107.3 600.2h0M106.8 602.6h0M108.1 601.2h0M110.0 601.4h0M112.1 620.1h0M112.2 619.1h0M112.1 621.5h0M111.9 618.8h0M114.1 621.0h0M110.9 617.4h0M119.2 620.2h0M118.8 617.9h0M118.8 620.1h0M115.9 621.7h0M117.5 617.9h0M119.5 618.7h0M119.0 619.3h0M119.7 620.0h0M119.7 619.0h0M120.1 618.2h0M126.2 618.2h0M127.8 619.9h0M124.6 617.9h0M128.0 618.8h0M128.9 620.2h0M131.5 620.8h0M128.9 619.0h0M130.5 617.9h0M111.8 617.3h0M112.1 615.1h0M111.9 616.9h0M112.5 613.8h0M117.4 615.4h0M115.7 615.0h0M118.5 617.1h0M119.4 616.7h0M116.7 616.7h0M116.9 616.3h0M120.8 613.6h0M120.8 617.3h0M120.9 614.9h0M121.6 614.4h0M126.2 614.9h0M125.3 617.2h0M131.6 615.4h0M114.2 610.1h0M111.3 610.9h0M114.2 609.3h0M114.3 611.9h0M114.4 609.4h0M113.5 611.1h0M114.3 611.5h0M112.2 610.0h0M111.3 611.7h0M115.1 612.6h0M118.6 611.8h0M116.9 609.7h0M116.3 611.7h0M115.8 609.0h0M117.8 608.9h0M116.5 610.7h0M123.2 610.6h0M122.9 612.6h0M123.9 612.0h0M120.5 612.4h0M123.1 608.9h0M119.8 610.1h0M121.4 611.8h0M121.6 612.8h0M122.3 611.0h0M127.3 612.7h0M126.3 611.4h0M127.9 612.9h0M125.6 609.6h0M125.8 610.2h0M127.8 610.7h0M132.2 612.8h0M129.7 613.0h0M132.4 612.2h0M111.8 606.1h0M113.0 605.7h0M113.3 608.6h0M114.2 606.1h0M116.8 605.4h0M116.2 607.5h0M116.6 608.0h0M115.5 605.3h0M118.5 606.3h0M120.4 605.2h0M123.4 604.7h0M122.8 608.0h0M119.6 606.2h0M120.3 607.2h0M120.9 607.5h0M124.4 606.7h0M124.7 605.4h0M128.0 607.3h0M124.0 604.4h0M124.1 608.4h0M128.2 607.6h0M131.3 604.6h0M131.8 607.5h0M130.3 606.7h0M112.4 600.6h0M112.1 601.2h0M114.2 603.6h0M111.8 604.1h0M112.8 600.3h0M113.0 603.0h0M115.1 602.3h0M111.5 600.1h0M114.9 600.0h0M113.1 603.0h0M116.6 603.5h0M119.4 600.9h0M117.6 601.2h0M115.5 601.1h0M119.8 602.6h0M123.4 600.7h0M120.2 601.0h0M123.6 603.3h0M119.6 603.1h0M124.9 603.4h0M127.4 602.3h0M124.3 602.6h0M128.2 602.6h0M125.0 601.0h0M125.9 601.9h0M124.1 601.9h0M125.2 603.2h0M125.8 600.9h0M128.7 601.4h0M131.6 600.8h0M131.4 602.8h0M136.2 619.6h0M134.7 619.4h0M134.1 620.7h0M134.9 619.3h0M135.8 620.1h0M134.6 621.0h0M132.8 619.1h0M137.7 621.0h0M138.4 618.2h0M139.3 620.8h0M143.0 617.7h0M147.2 619.5h0M148.9 618.9h0M149.5 621.6h0M153.6 621.1h0M152.8 617.8h0M152.8 618.0h0M152.8 619.5h0M151.9 618.1h0M151.6 617.8h0M151.4 620.1h0M133.9 615.4h0M134.8 615.0h0M141.0 616.5h0M138.8 615.1h0M139.1 613.6h0M142.8 615.0h0M144.8 614.3h0M144.3 616.8h0M143.7 614.9h0M144.4 616.0h0M147.2 616.2h0M149.6 614.0h0M146.9 617.0h0M148.8 613.6h0M136.0 611.9h0M140.5 612.7h0M138.6 611.0h0M145.5 611.6h0M141.3 609.3h0M150.9 610.3h0M152.4 612.5h0M151.6 609.9h0M136.6 604.9h0M136.7 606.6h0M134.3 607.7h0M132.8 606.9h0M133.6 605.1h0M133.2 606.1h0M139.7 606.8h0M137.8 606.6h0M140.6 606.1h0M141.2 606.4h0M142.6 606.3h0M144.7 604.9h0M145.1 608.5h0M142.7 607.8h0M143.8 608.4h0M144.6 604.4h0M145.0 606.8h0M143.7 608.5h0M142.1 604.9h0M146.7 606.0h0M149.6 607.2h0M148.9 605.1h0M149.5 606.3h0M148.2 605.2h0M152.9 605.1h0M135.6 601.1h0M134.9 600.1h0M135.9 604.2h0M133.1 604.1h0M136.0 604.0h0M140.8 603.5h0M138.0 600.0h0M138.2 603.0h0M143.2 603.2h0M144.3 602.1h0M146.9 600.5h0M145.6 602.2h0M151.6 602.1h0M153.6 601.2h0M152.2 603.8h0M154.2 602.8h0M154.2 600.3h0M156.0 619.8h0M154.7 620.2h0M166.7 621.6h0M166.1 618.4h0M163.9 619.9h0M168.8 620.7h0M168.9 618.6h0M173.7 619.9h0M173.5 618.7h0M158.3 614.7h0M162.3 614.3h0M173.5 616.6h0M158.3 611.2h0M167.6 612.8h0M171.0 609.6h0M168.3 609.8h0M175.1 612.8h0M173.1 612.0h0M156.6 605.2h0M154.7 605.9h0M164.9 606.5h0M166.8 604.9h0M165.5 606.3h0M172.0 605.9h0M155.8 600.5h0M157.9 603.1h0M158.2 600.2h0M155.3 603.0h0M156.1 603.7h0M159.4 601.0h0M164.4 601.3h0M166.4 600.7h0M166.3 600.8h0M172.7 602.8h0M173.3 603.5h0M180.4 621.5h0M189.1 620.2h0M193.1 620.6h0M196.7 619.6h0M184.0 613.1h0M183.2 615.0h0M182.3 616.6h0M188.2 615.7h0M189.2 615.2h0M183.4 610.4h0M183.6 608.8h0M183.9 613.0h0M176.3 605.7h0M178.7 605.0h0M176.0 606.5h0M192.6 604.6h0M194.6 607.1h0M178.6 601.9h0M180.4 603.2h0M184.7 601.7h0M187.3 600.5h0M185.4 600.2h0M210.3 620.9h0M206.7 619.1h0M213.0 620.2h0M201.9 614.3h0M215.5 614.4h0M218.3 616.6h0M216.0 614.8h0M199.2 609.1h0M211.2 611.9h0M199.4 604.7h0M204.1 605.2h0M208.9 606.8h0M213.1 608.4h0M211.4 606.9h0M213.0 604.5h0M215.3 608.2h0M202.3 602.3h0M202.7 601.8h0M230.9 618.6h0M235.1 609.9h0M223.6 606.7h0M224.7 606.4h0M232.3 605.3h0M232.6 607.7h0M238.6 608.0h0M240.4 607.0h0M237.7 604.6h0M226.4 602.5h0M228.4 601.7h0M232.2 601.3h0M237.0 603.1h0M242.8 618.3h0M256.8 621.2h0M252.5 615.4h0M260.2 617.1h0M242.9 608.9h0M248.7 611.0h0M259.6 610.3h0M245.2 606.1h0M267.3 618.7h0M283.9 608.4h0M263.4 600.0h0M268.5 601.8h0M69.0 640.5h0M68.9 641.1h0M70.4 640.5h0M68.3 640.8h0M70.0 640.7h0M68.6 641.3h0M71.7 640.3h0M69.3 641.6h0M70.4 641.0h0M68.5 643.5h0M70.3 643.5h0M71.8 640.9h0M70.8 639.3h0M69.2 641.3h0M67.8 642.8h0M75.4 639.6h0M75.7 642.1h0M73.3 641.0h0M74.4 641.5h0M74.8 642.2h0M72.6 640.1h0M72.3 639.7h0M75.6 642.4h0M74.1 642.0h0M74.1 641.1h0M77.5 641.6h0M77.1 639.8h0M77.4 642.2h0M78.7 639.6h0M80.3 640.1h0M79.9 642.1h0M80.1 643.2h0M79.7 639.5h0M76.7 639.8h0M79.1 640.9h0M76.9 640.1h0M78.1 642.5h0M81.6 643.5h0M82.6 641.3h0M84.6 641.2h0M82.3 641.7h0M83.5 640.9h0M81.9 641.5h0M81.8 640.8h0M81.4 640.7h0M84.4 641.2h0M83.8 642.7h0M83.9 641.3h0M80.5 643.3h0M82.5 640.7h0M81.1 640.9h0M82.6 639.4h0M89.1 641.1h0M85.0 643.0h0M88.4 640.2h0M87.3 640.9h0M84.9 641.7h0M85.2 639.9h0M86.3 640.8h0M89.1 639.8h0M86.5 640.3h0M85.8 640.5h0M86.4 641.8h0M85.3 641.2h0M84.9 642.7h0M87.3 641.5h0M89.1 641.3h0M87.3 642.3h0M89.1 639.9h0M68.0 635.0h0M69.8 635.1h0M69.7 636.2h0M70.7 639.1h0M70.5 638.3h0M69.5 636.3h0M70.2 637.6h0M68.0 637.2h0M71.8 637.7h0M67.8 635.5h0M71.0 634.9h0M73.5 638.2h0M73.4 637.7h0M74.1 638.1h0M74.1 637.8h0M74.4 638.2h0M72.5 635.2h0M72.2 638.7h0M75.8 637.1h0M72.5 635.8h0M76.5 635.7h0M80.4 635.3h0M79.7 637.6h0M79.0 636.6h0M78.2 634.8h0M78.7 637.8h0M80.3 635.7h0M78.8 638.0h0M76.3 637.2h0M80.2 636.9h0M78.5 638.7h0M80.5 637.7h0M78.7 638.0h0M77.0 636.1h0M80.6 635.8h0M83.3 636.7h0M83.8 636.3h0M83.8 636.1h0M82.5 635.2h0M84.3 638.8h0M84.0 638.6h0M84.3 635.6h0M81.7 637.2h0M84.8 637.2h0M82.8 635.7h0M83.3 635.0h0M81.0 635.0h0M84.7 635.8h0M81.9 635.3h0M88.3 637.6h0M88.9 638.9h0M85.2 637.9h0M87.1 635.8h0M85.7 635.0h0M85.8 635.4h0M85.0 635.7h0M87.2 637.3h0M85.9 635.8h0M84.9 636.9h0M87.0 635.9h0M88.7 638.1h0M85.5 635.8h0M86.3 637.2h0M87.7 637.6h0M69.3 634.3h0M69.2 634.6h0M70.9 633.5h0M71.4 632.7h0M71.0 631.1h0M69.4 631.1h0M69.2 631.3h0M71.0 633.3h0M71.4 632.7h0M70.4 632.1h0M69.2 631.1h0M71.7 634.3h0M68.7 633.2h0M67.6 630.5h0M70.9 631.5h0M72.2 634.2h0M75.3 633.4h0M72.0 632.1h0M75.8 632.5h0M73.2 631.0h0M73.1 632.4h0M75.7 631.4h0M74.8 630.5h0M75.4 632.3h0M72.6 630.7h0M75.2 632.3h0M73.5 633.9h0M74.5 630.5h0M77.8 633.2h0M78.4 630.5h0M80.1 631.6h0M80.2 634.4h0M77.6 630.9h0M79.1 632.0h0M78.6 634.6h0M80.4 631.6h0M79.4 634.6h0M76.9 633.8h0M82.8 634.3h0M82.9 630.6h0M84.8 631.5h0M83.3 633.5h0M83.8 632.7h0M80.9 632.3h0M83.8 630.9h0M84.7 632.5h0M84.4 632.0h0M80.8 630.5h0M82.1 634.1h0M80.9 634.2h0M82.9 634.6h0M81.3 633.6h0M82.1 631.2h0M81.6 631.4h0M81.7 633.2h0M82.0 630.5h0M80.9 632.9h0M85.1 634.0h0M88.1 634.8h0M84.9 632.2h0M85.5 633.4h0M86.8 631.8h0M87.5 633.6h0M85.4 631.5h0M86.2 632.6h0M87.4 631.2h0M69.6 626.5h0M71.2 629.7h0M68.5 630.4h0M68.9 629.9h0M70.7 629.9h0M67.8 629.8h0M70.5 628.2h0M70.1 628.5h0M71.5 626.8h0M67.9 627.4h0M69.0 626.1h0M73.9 630.3h0M72.9 626.4h0M74.6 628.8h0M76.0 629.7h0M75.8 629.5h0M72.3 629.7h0M72.9 628.0h0M75.9 628.8h0M72.1 628.8h0M75.2 630.1h0M78.5 629.7h0M79.4 629.9h0M78.0 629.8h0M76.6 627.6h0M77.7 627.4h0M79.7 626.9h0M79.3 627.8h0M78.3 629.2h0M76.8 628.4h0M77.9 627.5h0M76.4 629.2h0M77.0 629.1h0M79.1 627.8h0M79.3 627.1h0M76.3 627.6h0M77.2 630.0h0M80.5 630.0h0M80.7 628.8h0M80.9 626.3h0M81.2 627.1h0M82.8 626.4h0M83.2 626.2h0M81.6 630.1h0M83.2 630.2h0M82.6 628.4h0M84.9 629.5h0M85.7 627.4h0M85.3 626.5h0M87.5 627.5h0M86.7 629.3h0M87.5 629.6h0M87.3 627.9h0M87.2 626.9h0M88.3 627.7h0M88.4 627.7h0M85.1 626.6h0M85.1 629.5h0M68.8 624.6h0M71.1 625.7h0M70.8 622.1h0M68.9 625.7h0M71.6 624.5h0M70.2 623.3h0M67.7 622.7h0M71.7 623.8h0M69.1 622.9h0M68.5 625.9h0M68.8 625.0h0M72.3 622.5h0M74.7 622.1h0M72.7 623.4h0M73.5 624.5h0M72.9 624.4h0M74.6 622.5h0M74.0 624.5h0M76.1 624.6h0M72.7 624.8h0M75.0 625.3h0M76.1 625.6h0M74.6 624.3h0M78.8 624.3h0M78.4 622.8h0M80.0 622.0h0M77.2 622.0h0M79.0 624.0h0M77.5 622.7h0M76.8 625.7h0M84.6 623.5h0M83.9 625.9h0M80.6 622.6h0M82.3 621.9h0M81.0 622.3h0M82.2 624.0h0M86.8 624.4h0M86.0 624.6h0M87.9 622.5h0M86.2 623.0h0M88.2 623.2h0M88.0 623.2h0M85.6 624.9h0M90.1 641.8h0M92.3 641.6h0M90.9 640.5h0M90.1 641.2h0M92.9 641.3h0M93.4 641.5h0M91.9 641.1h0M91.3 642.7h0M92.9 642.2h0M92.8 641.6h0M92.5 643.3h0M91.4 639.2h0M89.8 641.3h0M89.2 640.0h0M92.3 641.7h0M90.8 640.7h0M90.8 642.4h0M93.4 642.8h0M89.7 641.5h0M93.0 639.9h0M90.0 641.1h0M89.3 639.5h0M91.3 639.5h0M94.7 640.7h0M93.7 639.3h0M96.1 643.3h0M95.1 641.8h0M97.5 639.2h0M95.2 643.4h0M93.6 643.1h0M95.3 639.4h0M95.1 639.8h0M99.5 640.6h0M101.0 641.3h0M101.3 640.2h0M101.7 640.5h0M99.9 641.7h0M106.2 642.5h0M103.2 641.0h0M103.7 640.3h0M103.1 640.7h0M102.4 641.0h0M104.6 641.3h0M103.2 639.5h0M103.0 642.9h0M103.3 640.0h0M103.1 643.3h0M104.7 642.6h0M107.5 640.3h0M107.1 640.8h0M110.4 642.4h0M109.0 643.2h0M109.0 642.7h0M90.2 638.7h0M93.5 635.1h0M89.7 639.1h0M90.5 634.9h0M93.5 638.6h0M91.6 635.5h0M90.5 636.4h0M91.3 636.5h0M91.1 638.0h0M90.0 635.7h0M89.9 637.8h0M91.9 636.7h0M95.4 635.5h0M97.2 636.2h0M97.3 637.3h0M97.3 637.7h0M97.4 638.6h0M95.5 635.3h0M93.6 637.4h0M95.6 638.3h0M95.4 636.9h0M99.1 638.6h0M100.5 636.5h0M102.2 637.1h0M99.8 637.2h0M101.8 638.4h0M101.2 637.7h0M99.6 636.5h0M101.5 635.9h0M105.2 639.1h0M106.3 638.1h0M102.6 637.7h0M106.2 638.8h0M103.5 639.0h0M102.4 635.7h0M110.3 638.2h0M110.3 634.9h0M92.9 632.8h0M90.3 632.6h0M91.5 632.3h0M89.5 634.8h0M93.2 631.9h0M92.5 634.5h0M91.5 633.6h0M91.6 634.1h0M91.9 633.7h0M95.8 634.2h0M97.3 634.8h0M95.3 630.7h0M97.1 634.3h0M93.8 631.6h0M93.6 632.1h0M96.4 634.2h0M97.2 632.8h0M96.7 631.6h0M94.1 634.3h0M93.9 632.5h0M101.8 633.4h0M98.0 631.9h0M101.3 630.5h0M100.5 630.9h0M99.6 633.6h0M101.7 631.4h0M99.8 633.8h0M97.9 631.2h0M97.9 631.1h0M103.3 633.2h0M104.7 631.6h0M103.9 632.5h0M102.7 633.7h0M105.7 631.1h0M106.0 632.4h0M103.2 630.9h0M106.5 633.6h0M106.1 634.4h0M103.0 632.4h0M110.5 632.8h0M110.8 634.6h0M108.9 634.6h0M106.9 634.6h0M109.9 633.0h0M110.1 634.0h0M109.6 632.7h0M110.0 633.7h0M109.5 631.9h0M89.8 626.4h0M91.2 628.6h0M89.3 627.6h0M89.4 630.0h0M91.7 629.1h0M89.4 628.2h0M90.9 628.3h0M92.6 628.2h0M91.5 629.4h0M90.2 626.3h0M91.1 628.3h0M91.9 626.3h0M96.0 629.6h0M96.5 626.7h0M95.4 627.4h0M96.1 629.9h0M93.7 627.2h0M95.1 627.2h0M96.7 626.5h0M95.8 628.3h0M96.9 629.5h0M94.9 628.1h0M94.0 628.3h0M97.7 628.4h0M98.3 626.2h0M99.2 626.4h0M100.8 626.3h0M101.6 630.0h0M100.1 627.1h0M98.6 628.4h0M100.7 629.5h0M100.6 626.2h0M98.5 626.3h0M106.1 628.6h0M104.1 628.1h0M106.5 630.3h0M103.3 627.6h0M108.8 628.2h0M107.1 630.3h0M109.3 630.4h0M110.4 628.3h0M109.6 628.1h0M90.1 625.4h0M90.0 624.5h0M93.1 622.9h0M90.9 625.4h0M89.5 624.1h0M90.6 624.5h0M94.7 625.3h0M96.8 623.9h0M95.0 624.7h0M95.5 625.4h0M96.0 622.8h0M96.3 625.5h0M96.2 624.0h0M94.3 623.3h0M95.5 624.0h0M95.7 622.2h0M101.0 625.0h0M100.4 622.8h0M99.9 624.7h0M100.1 624.7h0M101.3 626.0h0M101.8 623.0h0M99.3 625.2h0M99.7 623.3h0M99.3 622.2h0M99.4 623.3h0M101.4 622.7h0M105.7 623.5h0M104.1 623.6h0M104.8 622.2h0M105.4 625.3h0M103.7 623.5h0M105.0 624.9h0M102.7 622.3h0M106.3 623.7h0M105.9 624.6h0M105.6 622.4h0M102.7 622.9h0M105.8 623.5h0M106.3 624.0h0M106.8 622.4h0M107.6 625.1h0M108.0 624.6h0M109.1 623.0h0M109.7 624.1h0M109.1 622.8h0M110.1 622.3h0M107.3 623.1h0M107.6 624.3h0M107.1 625.5h0M112.6 643.1h0M114.0 640.0h0M115.2 639.2h0M111.6 640.1h0M112.6 640.1h0M116.2 641.6h0M116.8 641.2h0M116.3 641.1h0M116.7 641.9h0M117.0 639.5h0M120.2 640.7h0M121.9 639.7h0M122.7 642.0h0M125.7 642.4h0M127.0 640.9h0M126.8 639.4h0M127.2 639.9h0M129.1 642.8h0M114.1 638.7h0M113.3 634.8h0M113.6 638.8h0M112.3 637.5h0M111.9 636.5h0M112.1 635.7h0M114.3 635.9h0M113.5 635.5h0M111.8 635.9h0M112.0 636.1h0M117.5 638.8h0M119.2 637.5h0M116.1 635.9h0M115.2 636.0h0M115.3 636.1h0M122.6 636.5h0M121.2 637.3h0M124.8 637.9h0M128.1 635.3h0M114.9 633.7h0M112.7 634.4h0M114.0 634.2h0M115.6 634.6h0M118.9 634.6h0M118.2 633.7h0M118.7 632.5h0M120.4 632.2h0M122.6 632.7h0M120.5 634.4h0M122.9 634.7h0M120.0 634.5h0M127.9 634.0h0M128.1 630.5h0M131.7 633.4h0M129.2 633.7h0M132.1 632.5h0M129.5 632.6h0M111.4 629.3h0M113.0 628.7h0M114.9 628.7h0M118.4 629.3h0M116.2 627.3h0M116.3 627.2h0M117.9 629.3h0M119.2 629.4h0M115.2 628.1h0M115.7 626.1h0M123.8 628.6h0M120.2 627.5h0M120.1 628.1h0M126.3 629.4h0M124.7 628.2h0M125.2 627.8h0M129.0 629.9h0M130.3 628.4h0M112.7 624.1h0M113.9 623.9h0M111.5 622.0h0M111.4 624.3h0M112.0 624.5h0M115.5 625.7h0M117.2 622.6h0M117.8 624.7h0M117.5 625.7h0M116.5 624.2h0M118.1 624.7h0M119.9 624.8h0M121.0 623.9h0M123.4 623.6h0M120.7 626.0h0M123.2 622.1h0M127.6 625.3h0M127.6 625.5h0M127.2 623.3h0M130.4 625.5h0M132.3 623.2h0M131.6 622.4h0M133.2 639.2h0M134.3 642.5h0M140.9 641.3h0M140.1 642.8h0M137.2 642.1h0M145.4 640.7h0M149.1 640.7h0M133.0 636.3h0M133.7 637.8h0M139.7 637.8h0M140.3 638.4h0M141.5 638.1h0M142.2 636.1h0M147.4 636.1h0M148.3 635.5h0M146.8 636.4h0M154.0 636.9h0M152.9 636.3h0M135.1 631.7h0M136.6 630.8h0M138.4 633.0h0M139.2 634.3h0M144.4 632.0h0M144.0 632.0h0M144.4 631.6h0M148.5 630.8h0M151.5 632.8h0M136.0 626.9h0M134.4 629.5h0M135.0 628.4h0M133.7 628.4h0M133.8 629.1h0M132.8 627.2h0M133.5 629.0h0M138.5 626.8h0M138.3 627.2h0M143.4 628.9h0M141.5 628.5h0M141.4 629.9h0M149.9 628.7h0M147.0 627.6h0M146.8 627.0h0M147.1 626.5h0M152.2 628.0h0M153.9 628.4h0M153.6 626.6h0M152.6 630.1h0M151.5 630.0h0M151.9 629.0h0M132.6 623.0h0M136.1 624.0h0M134.8 623.4h0M134.3 623.2h0M138.5 624.9h0M140.9 625.2h0M137.0 624.5h0M145.5 623.9h0M143.1 623.8h0M142.2 625.2h0M146.0 622.4h0M145.7 622.3h0M146.2 622.7h0M152.6 621.9h0M150.8 623.7h0M149.9 624.6h0M162.7 641.8h0M160.6 641.0h0M170.3 640.3h0M169.5 641.5h0M174.5 641.0h0M154.7 638.3h0M157.9 637.6h0M154.7 637.6h0M158.6 636.6h0M173.3 638.5h0M156.5 631.5h0M161.7 631.0h0M161.2 632.8h0M175.3 633.1h0M154.3 628.0h0M154.2 629.4h0M155.1 627.3h0M162.4 630.4h0M161.8 630.4h0M164.4 627.0h0M170.0 628.2h0M169.4 626.6h0M174.4 626.4h0M155.9 626.0h0M154.3 622.5h0M166.2 626.0h0M165.5 624.6h0M173.6 623.9h0M176.5 641.1h0M197.4 641.2h0M177.4 638.6h0M179.0 637.5h0M178.7 635.8h0M181.5 636.6h0M188.3 635.0h0M195.8 637.7h0M192.2 632.6h0M196.2 632.8h0M182.9 627.0h0M186.9 627.7h0M176.3 624.0h0M181.6 623.4h0M192.9 624.9h0M194.0 625.8h0M205.4 639.5h0M209.9 640.9h0M209.0 642.5h0M200.1 633.7h0M201.0 627.5h0M198.6 622.2h0M207.9 625.7h0M210.3 622.3h0M226.0 636.9h0M230.6 636.2h0M239.2 636.8h0M234.7 626.9h0M230.0 623.6h0M248.7 628.9h0M243.7 622.2h0M241.5 623.3h0M244.7 623.7h0M266.7 641.4h0M272.1 636.8h0M279.6 634.7h0" stroke="#000" stroke-width="3.0" stroke-linecap="round" fill="none"/>
<path d="M67.50 643.50L315.50 382.40" stroke="#f00" stroke-width="1.3" fill="none"/>
<path d="M67.50 643.50v4.5M67.50 382.40v-4.5M67.50 643.50h-4.5M327.70 643.50h4.5M89.18 643.50v2.5M89.18 382.40v-2.5M67.50 621.74h-2.5M327.70 621.74h2.5M110.87 643.50v4.5M110.87 382.40v-4.5M67.50 599.98h-4.5M327.70 599.98h4.5M132.55 643.50v2.5M132.55 382.40v-2.5M67.50 578.23h-2.5M327.70 578.23h2.5M154.23 643.50v4.5M154.23 382.40v-4.5M67.50 556.47h-4.5M327.70 556.47h4.5M175.92 643.50v2.5M175.92 382.40v-2.5M67.50 534.71h-2.5M327.70 534.71h2.5M197.60 643.50v4.5M197.60 382.40v-4.5M67.50 512.95h-4.5M327.70 512.95h4.5M219.28 643.50v2.5M219.28 382.40v-2.5M67.50 491.19h-2.5M327.70 491.19h2.5M240.97 643.50v4.5M240.97 382.40v-4.5M67.50 469.43h-4.5M327.70 469.43h4.5M262.65 643.50v2.5M262.65 382.40v-2.5M67.50 447.67h-2.5M327.70 447.67h2.5M284.33 643.50v4.5M284.33 382.40v-4.5M67.50 425.92h-4.5M327.70 425.92h4.5M306.02 643.50v2.5M306.02 382.40v-2.5M67.50 404.16h-2.5M327.70 404.16h2.5M327.70 643.50v4.5M327.70 382.40v-4.5M67.50 382.40h-4.5M327.70 382.40h4.5" stroke="#333" stroke-width="0.9" fill="none"/>
<rect x="67.50" y="382.40" width="260.20" height="261.10" stroke="#000" stroke-width="1.6" fill="none"/>
<text transform="translate(58.70 648.50) scale(1 1.09)" class="tl" text-anchor="end">0</text>
<text transform="translate(67.50 663.10) scale(1 1.09)" class="tl" text-anchor="middle">0</text>
<text transform="translate(58.70 604.98) scale(1 1.09)" class="tl" text-anchor="end">200</text>
<text transform="translate(110.87 663.10) scale(1 1.09)" class="tl" text-anchor="middle">200</text>
<text transform="translate(58.70 561.47) scale(1 1.09)" class="tl" text-anchor="end">400</text>
<text transform="translate(154.23 663.10) scale(1 1.09)" class="tl" text-anchor="middle">400</text>
<text transform="translate(58.70 517.95) scale(1 1.09)" class="tl" text-anchor="end">600</text>
<text transform="translate(197.60 663.10) scale(1 1.09)" class="tl" text-anchor="middle">600</text>
<text transform="translate(58.70 474.43) scale(1 1.09)" class="tl" text-anchor="end">800</text>
<text transform="translate(240.97 663.10) scale(1 1.09)" class="tl" text-anchor="middle">800</text>
<text transform="translate(58.70 430.92) scale(1 1.09)" class="tl" text-anchor="end">1000</text>
<text transform="translate(284.33 663.10) scale(1 1.09)" class="tl" text-anchor="middle">1000</text>
<text transform="translate(58.70 387.40) scale(1 1.09)" class="tl" text-anchor="end">1200</text>
<text transform="translate(327.70 663.10) scale(1 1.09)" class="tl" text-anchor="middle">1200</text>
<text x="197.60" y="685.00" class="al" text-anchor="middle">I<tspan class="sub" dy="5">Obs</tspan><tspan dy="-5"> (W/m</tspan><tspan class="sup" dy="-8">2</tspan><tspan dy="8">)</tspan></text>
<text transform="translate(19.3 512.95) rotate(-90)" class="al" text-anchor="middle">I<tspan class="sub" dy="5">WRF</tspan><tspan dy="-5"> (W/m</tspan><tspan class="sup" dy="-8">2</tspan><tspan dy="8">)</tspan></text>
<text x="58.6" y="713.70" class="cl">(b)</text>
<text x="83.3" y="713.70" class="ct">Optimal combination of schemes (PBL1)</text>
</svg>
</body></html>
